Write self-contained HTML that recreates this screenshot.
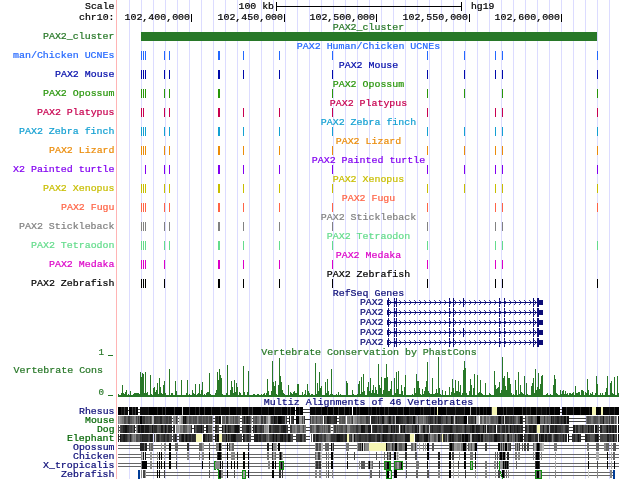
<!DOCTYPE html>
<html><head><meta charset="utf-8"><title>UCSC Genome Browser - PAX2 cluster</title>
<style>
html,body{margin:0;padding:0;background:#fff;}
svg{display:block;will-change:transform;transform:translateZ(0);}
text{font-family:"Liberation Mono",monospace;font-size:9px;stroke-width:0.2px;}
</style></head><body>
<svg width="620" height="479" viewBox="0 0 620 479" shape-rendering="crispEdges">
<rect width="620" height="479" fill="#fff"/>
<rect x="129" y="0" width="1" height="479" fill="#dcdcff"/>
<rect x="141" y="0" width="1" height="479" fill="#dcdcff"/>
<rect x="153" y="0" width="1" height="479" fill="#dcdcff"/>
<rect x="165" y="0" width="1" height="479" fill="#dcdcff"/>
<rect x="177" y="0" width="1" height="479" fill="#dcdcff"/>
<rect x="189" y="0" width="1" height="479" fill="#dcdcff"/>
<rect x="201" y="0" width="1" height="479" fill="#dcdcff"/>
<rect x="213" y="0" width="1" height="479" fill="#dcdcff"/>
<rect x="225" y="0" width="1" height="479" fill="#dcdcff"/>
<rect x="237" y="0" width="1" height="479" fill="#dcdcff"/>
<rect x="249" y="0" width="1" height="479" fill="#dcdcff"/>
<rect x="261" y="0" width="1" height="479" fill="#dcdcff"/>
<rect x="273" y="0" width="1" height="479" fill="#dcdcff"/>
<rect x="285" y="0" width="1" height="479" fill="#dcdcff"/>
<rect x="297" y="0" width="1" height="479" fill="#dcdcff"/>
<rect x="309" y="0" width="1" height="479" fill="#dcdcff"/>
<rect x="321" y="0" width="1" height="479" fill="#dcdcff"/>
<rect x="333" y="0" width="1" height="479" fill="#dcdcff"/>
<rect x="345" y="0" width="1" height="479" fill="#dcdcff"/>
<rect x="357" y="0" width="1" height="479" fill="#dcdcff"/>
<rect x="369" y="0" width="1" height="479" fill="#dcdcff"/>
<rect x="381" y="0" width="1" height="479" fill="#dcdcff"/>
<rect x="393" y="0" width="1" height="479" fill="#dcdcff"/>
<rect x="405" y="0" width="1" height="479" fill="#dcdcff"/>
<rect x="417" y="0" width="1" height="479" fill="#dcdcff"/>
<rect x="429" y="0" width="1" height="479" fill="#dcdcff"/>
<rect x="441" y="0" width="1" height="479" fill="#dcdcff"/>
<rect x="453" y="0" width="1" height="479" fill="#dcdcff"/>
<rect x="465" y="0" width="1" height="479" fill="#dcdcff"/>
<rect x="477" y="0" width="1" height="479" fill="#dcdcff"/>
<rect x="489" y="0" width="1" height="479" fill="#dcdcff"/>
<rect x="501" y="0" width="1" height="479" fill="#dcdcff"/>
<rect x="513" y="0" width="1" height="479" fill="#dcdcff"/>
<rect x="525" y="0" width="1" height="479" fill="#dcdcff"/>
<rect x="537" y="0" width="1" height="479" fill="#dcdcff"/>
<rect x="549" y="0" width="1" height="479" fill="#dcdcff"/>
<rect x="561" y="0" width="1" height="479" fill="#dcdcff"/>
<rect x="573" y="0" width="1" height="479" fill="#dcdcff"/>
<rect x="585" y="0" width="1" height="479" fill="#dcdcff"/>
<rect x="597" y="0" width="1" height="479" fill="#dcdcff"/>
<rect x="609" y="0" width="1" height="479" fill="#dcdcff"/>
<rect x="116" y="0" width="1" height="479" fill="#ffb4b4"/>
<text x="114.5" y="9.3" fill="#000" stroke="#000" text-anchor="end" textLength="29.5" lengthAdjust="spacingAndGlyphs">Scale</text>
<text x="114.5" y="20.3" fill="#000" stroke="#000" text-anchor="end" textLength="35.5" lengthAdjust="spacingAndGlyphs">chr10:</text>
<text x="274" y="9.3" fill="#000" stroke="#000" text-anchor="end" textLength="35.5" lengthAdjust="spacingAndGlyphs">100 kb</text>
<rect x="276" y="2" width="1" height="9" fill="#000"/>
<rect x="461" y="2" width="1" height="9" fill="#000"/>
<rect x="276" y="6" width="186" height="1" fill="#000"/>
<text x="471" y="9.3" fill="#000" stroke="#000" text-anchor="start" textLength="23.5" lengthAdjust="spacingAndGlyphs">hg19</text>
<rect x="191" y="14" width="1" height="8" fill="#000"/>
<text x="190" y="20.3" fill="#000" stroke="#000" text-anchor="end" textLength="65.5" lengthAdjust="spacingAndGlyphs">102,400,000</text>
<rect x="284" y="14" width="1" height="8" fill="#000"/>
<text x="283" y="20.3" fill="#000" stroke="#000" text-anchor="end" textLength="65.5" lengthAdjust="spacingAndGlyphs">102,450,000</text>
<rect x="376" y="14" width="1" height="8" fill="#000"/>
<text x="375" y="20.3" fill="#000" stroke="#000" text-anchor="end" textLength="65.5" lengthAdjust="spacingAndGlyphs">102,500,000</text>
<rect x="469" y="14" width="1" height="8" fill="#000"/>
<text x="468" y="20.3" fill="#000" stroke="#000" text-anchor="end" textLength="65.5" lengthAdjust="spacingAndGlyphs">102,550,000</text>
<rect x="561" y="14" width="1" height="8" fill="#000"/>
<text x="560" y="20.3" fill="#000" stroke="#000" text-anchor="end" textLength="65.5" lengthAdjust="spacingAndGlyphs">102,600,000</text>
<text x="114.5" y="38.5" fill="#287828" stroke="#287828" text-anchor="end" textLength="71.5" lengthAdjust="spacingAndGlyphs">PAX2_cluster</text>
<text x="368.5" y="29.6" fill="#287828" stroke="#287828" text-anchor="middle" textLength="71.5" lengthAdjust="spacingAndGlyphs">PAX2_cluster</text>
<rect x="141" y="32" width="456" height="9" fill="#287828"/>
<text x="114.5" y="57.5" fill="#2468ff" stroke="#2468ff" text-anchor="end" textLength="101.5" lengthAdjust="spacingAndGlyphs">man/Chicken UCNEs</text>
<text x="368.5" y="48.6" fill="#2468ff" stroke="#2468ff" text-anchor="middle" textLength="143.5" lengthAdjust="spacingAndGlyphs">PAX2 Human/Chicken UCNEs</text>
<rect x="141" y="51" width="1" height="9" fill="#2468ff"/>
<rect x="143" y="51" width="1" height="9" fill="#2468ff"/>
<rect x="145" y="51" width="1" height="9" fill="#2468ff"/>
<rect x="164" y="51" width="1" height="9" fill="#2468ff"/>
<rect x="169" y="51" width="1" height="9" fill="#2468ff"/>
<rect x="218" y="51" width="2" height="9" fill="#2468ff"/>
<rect x="243" y="51" width="1" height="9" fill="#2468ff"/>
<rect x="279" y="51" width="1" height="9" fill="#2468ff"/>
<rect x="332" y="51" width="1" height="9" fill="#2468ff"/>
<rect x="427" y="51" width="1" height="9" fill="#2468ff"/>
<rect x="464" y="51" width="1" height="9" fill="#2468ff"/>
<rect x="495" y="51" width="1" height="9" fill="#2468ff"/>
<rect x="502" y="51" width="1" height="9" fill="#2468ff"/>
<rect x="597" y="51" width="1" height="9" fill="#2468ff"/>
<text x="114.5" y="76.5" fill="#000aaa" stroke="#000aaa" text-anchor="end" textLength="59.5" lengthAdjust="spacingAndGlyphs">PAX2 Mouse</text>
<text x="368.5" y="67.6" fill="#000aaa" stroke="#000aaa" text-anchor="middle" textLength="59.5" lengthAdjust="spacingAndGlyphs">PAX2 Mouse</text>
<rect x="141" y="70" width="1" height="9" fill="#000aaa"/>
<rect x="143" y="70" width="1" height="9" fill="#000aaa"/>
<rect x="145" y="70" width="1" height="9" fill="#000aaa"/>
<rect x="164" y="70" width="1" height="9" fill="#000aaa"/>
<rect x="169" y="70" width="1" height="9" fill="#000aaa"/>
<rect x="218" y="70" width="2" height="9" fill="#000aaa"/>
<rect x="243" y="70" width="1" height="9" fill="#000aaa"/>
<rect x="279" y="70" width="1" height="9" fill="#000aaa"/>
<rect x="332" y="70" width="1" height="9" fill="#000aaa"/>
<rect x="427" y="70" width="1" height="9" fill="#000aaa"/>
<rect x="464" y="70" width="1" height="9" fill="#000aaa"/>
<rect x="495" y="70" width="1" height="9" fill="#000aaa"/>
<rect x="502" y="70" width="1" height="9" fill="#000aaa"/>
<rect x="597" y="70" width="1" height="9" fill="#000aaa"/>
<text x="114.5" y="95.5" fill="#28960a" stroke="#28960a" text-anchor="end" textLength="71.5" lengthAdjust="spacingAndGlyphs">PAX2 Opossum</text>
<text x="368.5" y="86.6" fill="#28960a" stroke="#28960a" text-anchor="middle" textLength="71.5" lengthAdjust="spacingAndGlyphs">PAX2 Opossum</text>
<rect x="141" y="89" width="1" height="9" fill="#28960a"/>
<rect x="143" y="89" width="1" height="9" fill="#28960a"/>
<rect x="145" y="89" width="1" height="9" fill="#28960a"/>
<rect x="164" y="89" width="1" height="9" fill="#28960a"/>
<rect x="169" y="89" width="1" height="9" fill="#28960a"/>
<rect x="218" y="89" width="2" height="9" fill="#28960a"/>
<rect x="332" y="89" width="1" height="9" fill="#28960a"/>
<rect x="427" y="89" width="1" height="9" fill="#28960a"/>
<rect x="464" y="89" width="1" height="9" fill="#28960a"/>
<rect x="502" y="89" width="1" height="9" fill="#28960a"/>
<rect x="597" y="89" width="1" height="9" fill="#28960a"/>
<text x="114.5" y="114.5" fill="#c80050" stroke="#c80050" text-anchor="end" textLength="77.5" lengthAdjust="spacingAndGlyphs">PAX2 Platypus</text>
<text x="368.5" y="105.6" fill="#c80050" stroke="#c80050" text-anchor="middle" textLength="77.5" lengthAdjust="spacingAndGlyphs">PAX2 Platypus</text>
<rect x="141" y="108" width="1" height="9" fill="#c80050"/>
<rect x="143" y="108" width="1" height="9" fill="#c80050"/>
<rect x="164" y="108" width="1" height="9" fill="#c80050"/>
<rect x="169" y="108" width="1" height="9" fill="#c80050"/>
<rect x="218" y="108" width="2" height="9" fill="#c80050"/>
<rect x="243" y="108" width="1" height="9" fill="#c80050"/>
<rect x="279" y="108" width="1" height="9" fill="#c80050"/>
<rect x="332" y="108" width="1" height="9" fill="#c80050"/>
<rect x="427" y="108" width="1" height="9" fill="#c80050"/>
<rect x="495" y="108" width="1" height="9" fill="#c80050"/>
<rect x="502" y="108" width="1" height="9" fill="#c80050"/>
<rect x="597" y="108" width="1" height="9" fill="#c80050"/>
<text x="114.5" y="133.5" fill="#14a0d2" stroke="#14a0d2" text-anchor="end" textLength="95.5" lengthAdjust="spacingAndGlyphs">PAX2 Zebra finch</text>
<text x="368.5" y="124.6" fill="#14a0d2" stroke="#14a0d2" text-anchor="middle" textLength="95.5" lengthAdjust="spacingAndGlyphs">PAX2 Zebra finch</text>
<rect x="141" y="127" width="1" height="9" fill="#14a0d2"/>
<rect x="143" y="127" width="1" height="9" fill="#14a0d2"/>
<rect x="145" y="127" width="1" height="9" fill="#14a0d2"/>
<rect x="164" y="127" width="1" height="9" fill="#14a0d2"/>
<rect x="169" y="127" width="1" height="9" fill="#14a0d2"/>
<rect x="218" y="127" width="2" height="9" fill="#14a0d2"/>
<rect x="243" y="127" width="1" height="9" fill="#14a0d2"/>
<rect x="279" y="127" width="1" height="9" fill="#14a0d2"/>
<rect x="332" y="127" width="1" height="9" fill="#14a0d2"/>
<rect x="427" y="127" width="1" height="9" fill="#14a0d2"/>
<rect x="464" y="127" width="1" height="9" fill="#14a0d2"/>
<rect x="495" y="127" width="1" height="9" fill="#14a0d2"/>
<rect x="502" y="127" width="1" height="9" fill="#14a0d2"/>
<rect x="597" y="127" width="1" height="9" fill="#14a0d2"/>
<text x="114.5" y="152.5" fill="#eb8c0a" stroke="#eb8c0a" text-anchor="end" textLength="65.5" lengthAdjust="spacingAndGlyphs">PAX2 Lizard</text>
<text x="368.5" y="143.6" fill="#eb8c0a" stroke="#eb8c0a" text-anchor="middle" textLength="65.5" lengthAdjust="spacingAndGlyphs">PAX2 Lizard</text>
<rect x="141" y="146" width="1" height="9" fill="#eb8c0a"/>
<rect x="143" y="146" width="1" height="9" fill="#eb8c0a"/>
<rect x="145" y="146" width="1" height="9" fill="#eb8c0a"/>
<rect x="164" y="146" width="1" height="9" fill="#eb8c0a"/>
<rect x="169" y="146" width="1" height="9" fill="#eb8c0a"/>
<rect x="218" y="146" width="2" height="9" fill="#eb8c0a"/>
<rect x="243" y="146" width="1" height="9" fill="#eb8c0a"/>
<rect x="279" y="146" width="1" height="9" fill="#eb8c0a"/>
<rect x="332" y="146" width="1" height="9" fill="#eb8c0a"/>
<rect x="427" y="146" width="1" height="9" fill="#eb8c0a"/>
<rect x="464" y="146" width="1" height="9" fill="#eb8c0a"/>
<rect x="495" y="146" width="1" height="9" fill="#eb8c0a"/>
<rect x="502" y="146" width="1" height="9" fill="#eb8c0a"/>
<rect x="597" y="146" width="1" height="9" fill="#eb8c0a"/>
<text x="114.5" y="171.5" fill="#8200f0" stroke="#8200f0" text-anchor="end" textLength="101.5" lengthAdjust="spacingAndGlyphs">X2 Painted turtle</text>
<text x="368.5" y="162.6" fill="#8200f0" stroke="#8200f0" text-anchor="middle" textLength="113.5" lengthAdjust="spacingAndGlyphs">PAX2 Painted turtle</text>
<rect x="145" y="165" width="1" height="9" fill="#8200f0"/>
<rect x="164" y="165" width="1" height="9" fill="#8200f0"/>
<rect x="169" y="165" width="1" height="9" fill="#8200f0"/>
<rect x="218" y="165" width="2" height="9" fill="#8200f0"/>
<rect x="243" y="165" width="1" height="9" fill="#8200f0"/>
<rect x="279" y="165" width="1" height="9" fill="#8200f0"/>
<rect x="332" y="165" width="1" height="9" fill="#8200f0"/>
<rect x="427" y="165" width="1" height="9" fill="#8200f0"/>
<rect x="464" y="165" width="1" height="9" fill="#8200f0"/>
<rect x="495" y="165" width="1" height="9" fill="#8200f0"/>
<rect x="502" y="165" width="1" height="9" fill="#8200f0"/>
<rect x="597" y="165" width="1" height="9" fill="#8200f0"/>
<text x="114.5" y="190.5" fill="#c8be00" stroke="#c8be00" text-anchor="end" textLength="71.5" lengthAdjust="spacingAndGlyphs">PAX2 Xenopus</text>
<text x="368.5" y="181.6" fill="#c8be00" stroke="#c8be00" text-anchor="middle" textLength="71.5" lengthAdjust="spacingAndGlyphs">PAX2 Xenopus</text>
<rect x="141" y="184" width="1" height="9" fill="#c8be00"/>
<rect x="143" y="184" width="1" height="9" fill="#c8be00"/>
<rect x="145" y="184" width="1" height="9" fill="#c8be00"/>
<rect x="164" y="184" width="1" height="9" fill="#c8be00"/>
<rect x="169" y="184" width="1" height="9" fill="#c8be00"/>
<rect x="218" y="184" width="2" height="9" fill="#c8be00"/>
<rect x="243" y="184" width="1" height="9" fill="#c8be00"/>
<rect x="279" y="184" width="1" height="9" fill="#c8be00"/>
<rect x="332" y="184" width="1" height="9" fill="#c8be00"/>
<rect x="427" y="184" width="1" height="9" fill="#c8be00"/>
<rect x="464" y="184" width="1" height="9" fill="#c8be00"/>
<rect x="495" y="184" width="1" height="9" fill="#c8be00"/>
<rect x="502" y="184" width="1" height="9" fill="#c8be00"/>
<rect x="597" y="184" width="1" height="9" fill="#c8be00"/>
<text x="114.5" y="209.5" fill="#ff6446" stroke="#ff6446" text-anchor="end" textLength="53.5" lengthAdjust="spacingAndGlyphs">PAX2 Fugu</text>
<text x="368.5" y="200.6" fill="#ff6446" stroke="#ff6446" text-anchor="middle" textLength="53.5" lengthAdjust="spacingAndGlyphs">PAX2 Fugu</text>
<rect x="141" y="203" width="1" height="9" fill="#ff6446"/>
<rect x="143" y="203" width="1" height="9" fill="#ff6446"/>
<rect x="145" y="203" width="1" height="9" fill="#ff6446"/>
<rect x="164" y="203" width="1" height="9" fill="#ff6446"/>
<rect x="169" y="203" width="1" height="9" fill="#ff6446"/>
<rect x="218" y="203" width="2" height="9" fill="#ff6446"/>
<rect x="243" y="203" width="1" height="9" fill="#ff6446"/>
<rect x="279" y="203" width="1" height="9" fill="#ff6446"/>
<rect x="332" y="203" width="1" height="9" fill="#ff6446"/>
<rect x="427" y="203" width="1" height="9" fill="#ff6446"/>
<rect x="495" y="203" width="1" height="9" fill="#ff6446"/>
<rect x="502" y="203" width="1" height="9" fill="#ff6446"/>
<rect x="597" y="203" width="1" height="9" fill="#ff6446"/>
<text x="114.5" y="228.5" fill="#828282" stroke="#828282" text-anchor="end" textLength="95.5" lengthAdjust="spacingAndGlyphs">PAX2 Stickleback</text>
<text x="368.5" y="219.6" fill="#828282" stroke="#828282" text-anchor="middle" textLength="95.5" lengthAdjust="spacingAndGlyphs">PAX2 Stickleback</text>
<rect x="141" y="222" width="1" height="9" fill="#828282"/>
<rect x="143" y="222" width="1" height="9" fill="#828282"/>
<rect x="145" y="222" width="1" height="9" fill="#828282"/>
<rect x="164" y="222" width="1" height="9" fill="#828282"/>
<rect x="169" y="222" width="1" height="9" fill="#828282"/>
<rect x="218" y="222" width="2" height="9" fill="#828282"/>
<rect x="243" y="222" width="1" height="9" fill="#828282"/>
<rect x="279" y="222" width="1" height="9" fill="#828282"/>
<rect x="332" y="222" width="1" height="9" fill="#828282"/>
<rect x="427" y="222" width="1" height="9" fill="#828282"/>
<rect x="495" y="222" width="1" height="9" fill="#828282"/>
<rect x="502" y="222" width="1" height="9" fill="#828282"/>
<text x="114.5" y="247.5" fill="#64dc8c" stroke="#64dc8c" text-anchor="end" textLength="83.5" lengthAdjust="spacingAndGlyphs">PAX2 Tetraodon</text>
<text x="368.5" y="238.6" fill="#64dc8c" stroke="#64dc8c" text-anchor="middle" textLength="83.5" lengthAdjust="spacingAndGlyphs">PAX2 Tetraodon</text>
<rect x="141" y="241" width="1" height="9" fill="#64dc8c"/>
<rect x="143" y="241" width="1" height="9" fill="#64dc8c"/>
<rect x="145" y="241" width="1" height="9" fill="#64dc8c"/>
<rect x="164" y="241" width="1" height="9" fill="#64dc8c"/>
<rect x="169" y="241" width="1" height="9" fill="#64dc8c"/>
<rect x="218" y="241" width="2" height="9" fill="#64dc8c"/>
<rect x="243" y="241" width="1" height="9" fill="#64dc8c"/>
<rect x="279" y="241" width="1" height="9" fill="#64dc8c"/>
<rect x="332" y="241" width="1" height="9" fill="#64dc8c"/>
<rect x="427" y="241" width="1" height="9" fill="#64dc8c"/>
<rect x="495" y="241" width="1" height="9" fill="#64dc8c"/>
<rect x="502" y="241" width="1" height="9" fill="#64dc8c"/>
<rect x="597" y="241" width="1" height="9" fill="#64dc8c"/>
<text x="114.5" y="266.5" fill="#dc00c8" stroke="#dc00c8" text-anchor="end" textLength="65.5" lengthAdjust="spacingAndGlyphs">PAX2 Medaka</text>
<text x="368.5" y="257.6" fill="#dc00c8" stroke="#dc00c8" text-anchor="middle" textLength="65.5" lengthAdjust="spacingAndGlyphs">PAX2 Medaka</text>
<rect x="141" y="260" width="1" height="9" fill="#dc00c8"/>
<rect x="143" y="260" width="1" height="9" fill="#dc00c8"/>
<rect x="145" y="260" width="1" height="9" fill="#dc00c8"/>
<rect x="164" y="260" width="1" height="9" fill="#dc00c8"/>
<rect x="218" y="260" width="2" height="9" fill="#dc00c8"/>
<rect x="243" y="260" width="1" height="9" fill="#dc00c8"/>
<rect x="279" y="260" width="1" height="9" fill="#dc00c8"/>
<rect x="332" y="260" width="1" height="9" fill="#dc00c8"/>
<rect x="427" y="260" width="1" height="9" fill="#dc00c8"/>
<rect x="495" y="260" width="1" height="9" fill="#dc00c8"/>
<rect x="502" y="260" width="1" height="9" fill="#dc00c8"/>
<text x="114.5" y="285.5" fill="#000000" stroke="#000000" text-anchor="end" textLength="83.5" lengthAdjust="spacingAndGlyphs">PAX2 Zebrafish</text>
<text x="368.5" y="276.6" fill="#000000" stroke="#000000" text-anchor="middle" textLength="83.5" lengthAdjust="spacingAndGlyphs">PAX2 Zebrafish</text>
<rect x="141" y="279" width="1" height="9" fill="#000000"/>
<rect x="143" y="279" width="1" height="9" fill="#000000"/>
<rect x="145" y="279" width="1" height="9" fill="#000000"/>
<rect x="164" y="279" width="1" height="9" fill="#000000"/>
<rect x="218" y="279" width="2" height="9" fill="#000000"/>
<rect x="243" y="279" width="1" height="9" fill="#000000"/>
<rect x="279" y="279" width="1" height="9" fill="#000000"/>
<rect x="332" y="279" width="1" height="9" fill="#000000"/>
<rect x="427" y="279" width="1" height="9" fill="#000000"/>
<rect x="495" y="279" width="1" height="9" fill="#000000"/>
<rect x="502" y="279" width="1" height="9" fill="#000000"/>
<rect x="597" y="279" width="1" height="9" fill="#000000"/>
<text x="368.5" y="295.8" fill="#0c0c78" stroke="#0c0c78" text-anchor="middle" textLength="71.5" lengthAdjust="spacingAndGlyphs">RefSeq Genes</text>
<text x="383.5" y="304.9" fill="#0c0c78" stroke="#0c0c78" text-anchor="end" textLength="23.5" lengthAdjust="spacingAndGlyphs">PAX2</text>
<rect x="387" y="302" width="152" height="1" fill="#0c0c78"/>
<rect x="387" y="300" width="1" height="5" fill="#0c0c78"/>
<rect x="388" y="298" width="1" height="9" fill="#0c0c78"/>
<rect x="394" y="298" width="1" height="9" fill="#0c0c78"/>
<rect x="396" y="298" width="1" height="9" fill="#0c0c78"/>
<rect x="449" y="298" width="1" height="9" fill="#0c0c78"/>
<rect x="453" y="298" width="1" height="9" fill="#0c0c78"/>
<rect x="499" y="298" width="1" height="9" fill="#0c0c78"/>
<rect x="504" y="298" width="1" height="9" fill="#0c0c78"/>
<rect x="533" y="298" width="1" height="9" fill="#0c0c78"/>
<rect x="463" y="298" width="1" height="9" fill="#0c0c78"/>
<rect x="537" y="298" width="2" height="9" fill="#0c0c78"/>
<rect x="539" y="300" width="4" height="5" fill="#0c0c78"/>
<rect x="390" y="301" width="1" height="1" fill="#3a3a90"/>
<rect x="389" y="300" width="1" height="1" fill="#3a3a90"/>
<rect x="390" y="303" width="1" height="1" fill="#3a3a90"/>
<rect x="389" y="304" width="1" height="1" fill="#3a3a90"/>
<rect x="395" y="301" width="1" height="1" fill="#3a3a90"/>
<rect x="394" y="300" width="1" height="1" fill="#3a3a90"/>
<rect x="395" y="303" width="1" height="1" fill="#3a3a90"/>
<rect x="394" y="304" width="1" height="1" fill="#3a3a90"/>
<rect x="400" y="301" width="1" height="1" fill="#3a3a90"/>
<rect x="399" y="300" width="1" height="1" fill="#3a3a90"/>
<rect x="400" y="303" width="1" height="1" fill="#3a3a90"/>
<rect x="399" y="304" width="1" height="1" fill="#3a3a90"/>
<rect x="405" y="301" width="1" height="1" fill="#3a3a90"/>
<rect x="404" y="300" width="1" height="1" fill="#3a3a90"/>
<rect x="405" y="303" width="1" height="1" fill="#3a3a90"/>
<rect x="404" y="304" width="1" height="1" fill="#3a3a90"/>
<rect x="410" y="301" width="1" height="1" fill="#3a3a90"/>
<rect x="409" y="300" width="1" height="1" fill="#3a3a90"/>
<rect x="410" y="303" width="1" height="1" fill="#3a3a90"/>
<rect x="409" y="304" width="1" height="1" fill="#3a3a90"/>
<rect x="415" y="301" width="1" height="1" fill="#3a3a90"/>
<rect x="414" y="300" width="1" height="1" fill="#3a3a90"/>
<rect x="415" y="303" width="1" height="1" fill="#3a3a90"/>
<rect x="414" y="304" width="1" height="1" fill="#3a3a90"/>
<rect x="420" y="301" width="1" height="1" fill="#3a3a90"/>
<rect x="419" y="300" width="1" height="1" fill="#3a3a90"/>
<rect x="420" y="303" width="1" height="1" fill="#3a3a90"/>
<rect x="419" y="304" width="1" height="1" fill="#3a3a90"/>
<rect x="425" y="301" width="1" height="1" fill="#3a3a90"/>
<rect x="424" y="300" width="1" height="1" fill="#3a3a90"/>
<rect x="425" y="303" width="1" height="1" fill="#3a3a90"/>
<rect x="424" y="304" width="1" height="1" fill="#3a3a90"/>
<rect x="430" y="301" width="1" height="1" fill="#3a3a90"/>
<rect x="429" y="300" width="1" height="1" fill="#3a3a90"/>
<rect x="430" y="303" width="1" height="1" fill="#3a3a90"/>
<rect x="429" y="304" width="1" height="1" fill="#3a3a90"/>
<rect x="435" y="301" width="1" height="1" fill="#3a3a90"/>
<rect x="434" y="300" width="1" height="1" fill="#3a3a90"/>
<rect x="435" y="303" width="1" height="1" fill="#3a3a90"/>
<rect x="434" y="304" width="1" height="1" fill="#3a3a90"/>
<rect x="440" y="301" width="1" height="1" fill="#3a3a90"/>
<rect x="439" y="300" width="1" height="1" fill="#3a3a90"/>
<rect x="440" y="303" width="1" height="1" fill="#3a3a90"/>
<rect x="439" y="304" width="1" height="1" fill="#3a3a90"/>
<rect x="445" y="301" width="1" height="1" fill="#3a3a90"/>
<rect x="444" y="300" width="1" height="1" fill="#3a3a90"/>
<rect x="445" y="303" width="1" height="1" fill="#3a3a90"/>
<rect x="444" y="304" width="1" height="1" fill="#3a3a90"/>
<rect x="450" y="301" width="1" height="1" fill="#3a3a90"/>
<rect x="449" y="300" width="1" height="1" fill="#3a3a90"/>
<rect x="450" y="303" width="1" height="1" fill="#3a3a90"/>
<rect x="449" y="304" width="1" height="1" fill="#3a3a90"/>
<rect x="455" y="301" width="1" height="1" fill="#3a3a90"/>
<rect x="454" y="300" width="1" height="1" fill="#3a3a90"/>
<rect x="455" y="303" width="1" height="1" fill="#3a3a90"/>
<rect x="454" y="304" width="1" height="1" fill="#3a3a90"/>
<rect x="460" y="301" width="1" height="1" fill="#3a3a90"/>
<rect x="459" y="300" width="1" height="1" fill="#3a3a90"/>
<rect x="460" y="303" width="1" height="1" fill="#3a3a90"/>
<rect x="459" y="304" width="1" height="1" fill="#3a3a90"/>
<rect x="465" y="301" width="1" height="1" fill="#3a3a90"/>
<rect x="464" y="300" width="1" height="1" fill="#3a3a90"/>
<rect x="465" y="303" width="1" height="1" fill="#3a3a90"/>
<rect x="464" y="304" width="1" height="1" fill="#3a3a90"/>
<rect x="470" y="301" width="1" height="1" fill="#3a3a90"/>
<rect x="469" y="300" width="1" height="1" fill="#3a3a90"/>
<rect x="470" y="303" width="1" height="1" fill="#3a3a90"/>
<rect x="469" y="304" width="1" height="1" fill="#3a3a90"/>
<rect x="475" y="301" width="1" height="1" fill="#3a3a90"/>
<rect x="474" y="300" width="1" height="1" fill="#3a3a90"/>
<rect x="475" y="303" width="1" height="1" fill="#3a3a90"/>
<rect x="474" y="304" width="1" height="1" fill="#3a3a90"/>
<rect x="480" y="301" width="1" height="1" fill="#3a3a90"/>
<rect x="479" y="300" width="1" height="1" fill="#3a3a90"/>
<rect x="480" y="303" width="1" height="1" fill="#3a3a90"/>
<rect x="479" y="304" width="1" height="1" fill="#3a3a90"/>
<rect x="485" y="301" width="1" height="1" fill="#3a3a90"/>
<rect x="484" y="300" width="1" height="1" fill="#3a3a90"/>
<rect x="485" y="303" width="1" height="1" fill="#3a3a90"/>
<rect x="484" y="304" width="1" height="1" fill="#3a3a90"/>
<rect x="490" y="301" width="1" height="1" fill="#3a3a90"/>
<rect x="489" y="300" width="1" height="1" fill="#3a3a90"/>
<rect x="490" y="303" width="1" height="1" fill="#3a3a90"/>
<rect x="489" y="304" width="1" height="1" fill="#3a3a90"/>
<rect x="495" y="301" width="1" height="1" fill="#3a3a90"/>
<rect x="494" y="300" width="1" height="1" fill="#3a3a90"/>
<rect x="495" y="303" width="1" height="1" fill="#3a3a90"/>
<rect x="494" y="304" width="1" height="1" fill="#3a3a90"/>
<rect x="500" y="301" width="1" height="1" fill="#3a3a90"/>
<rect x="499" y="300" width="1" height="1" fill="#3a3a90"/>
<rect x="500" y="303" width="1" height="1" fill="#3a3a90"/>
<rect x="499" y="304" width="1" height="1" fill="#3a3a90"/>
<rect x="505" y="301" width="1" height="1" fill="#3a3a90"/>
<rect x="504" y="300" width="1" height="1" fill="#3a3a90"/>
<rect x="505" y="303" width="1" height="1" fill="#3a3a90"/>
<rect x="504" y="304" width="1" height="1" fill="#3a3a90"/>
<rect x="510" y="301" width="1" height="1" fill="#3a3a90"/>
<rect x="509" y="300" width="1" height="1" fill="#3a3a90"/>
<rect x="510" y="303" width="1" height="1" fill="#3a3a90"/>
<rect x="509" y="304" width="1" height="1" fill="#3a3a90"/>
<rect x="515" y="301" width="1" height="1" fill="#3a3a90"/>
<rect x="514" y="300" width="1" height="1" fill="#3a3a90"/>
<rect x="515" y="303" width="1" height="1" fill="#3a3a90"/>
<rect x="514" y="304" width="1" height="1" fill="#3a3a90"/>
<rect x="520" y="301" width="1" height="1" fill="#3a3a90"/>
<rect x="519" y="300" width="1" height="1" fill="#3a3a90"/>
<rect x="520" y="303" width="1" height="1" fill="#3a3a90"/>
<rect x="519" y="304" width="1" height="1" fill="#3a3a90"/>
<rect x="525" y="301" width="1" height="1" fill="#3a3a90"/>
<rect x="524" y="300" width="1" height="1" fill="#3a3a90"/>
<rect x="525" y="303" width="1" height="1" fill="#3a3a90"/>
<rect x="524" y="304" width="1" height="1" fill="#3a3a90"/>
<rect x="530" y="301" width="1" height="1" fill="#3a3a90"/>
<rect x="529" y="300" width="1" height="1" fill="#3a3a90"/>
<rect x="530" y="303" width="1" height="1" fill="#3a3a90"/>
<rect x="529" y="304" width="1" height="1" fill="#3a3a90"/>
<rect x="535" y="301" width="1" height="1" fill="#3a3a90"/>
<rect x="534" y="300" width="1" height="1" fill="#3a3a90"/>
<rect x="535" y="303" width="1" height="1" fill="#3a3a90"/>
<rect x="534" y="304" width="1" height="1" fill="#3a3a90"/>
<text x="383.5" y="314.9" fill="#0c0c78" stroke="#0c0c78" text-anchor="end" textLength="23.5" lengthAdjust="spacingAndGlyphs">PAX2</text>
<rect x="387" y="312" width="152" height="1" fill="#0c0c78"/>
<rect x="387" y="310" width="1" height="5" fill="#0c0c78"/>
<rect x="388" y="308" width="1" height="9" fill="#0c0c78"/>
<rect x="394" y="308" width="1" height="9" fill="#0c0c78"/>
<rect x="396" y="308" width="1" height="9" fill="#0c0c78"/>
<rect x="449" y="308" width="1" height="9" fill="#0c0c78"/>
<rect x="453" y="308" width="1" height="9" fill="#0c0c78"/>
<rect x="499" y="308" width="1" height="9" fill="#0c0c78"/>
<rect x="504" y="308" width="1" height="9" fill="#0c0c78"/>
<rect x="533" y="308" width="1" height="9" fill="#0c0c78"/>
<rect x="537" y="308" width="2" height="9" fill="#0c0c78"/>
<rect x="539" y="310" width="4" height="5" fill="#0c0c78"/>
<rect x="390" y="311" width="1" height="1" fill="#3a3a90"/>
<rect x="389" y="310" width="1" height="1" fill="#3a3a90"/>
<rect x="390" y="313" width="1" height="1" fill="#3a3a90"/>
<rect x="389" y="314" width="1" height="1" fill="#3a3a90"/>
<rect x="395" y="311" width="1" height="1" fill="#3a3a90"/>
<rect x="394" y="310" width="1" height="1" fill="#3a3a90"/>
<rect x="395" y="313" width="1" height="1" fill="#3a3a90"/>
<rect x="394" y="314" width="1" height="1" fill="#3a3a90"/>
<rect x="400" y="311" width="1" height="1" fill="#3a3a90"/>
<rect x="399" y="310" width="1" height="1" fill="#3a3a90"/>
<rect x="400" y="313" width="1" height="1" fill="#3a3a90"/>
<rect x="399" y="314" width="1" height="1" fill="#3a3a90"/>
<rect x="405" y="311" width="1" height="1" fill="#3a3a90"/>
<rect x="404" y="310" width="1" height="1" fill="#3a3a90"/>
<rect x="405" y="313" width="1" height="1" fill="#3a3a90"/>
<rect x="404" y="314" width="1" height="1" fill="#3a3a90"/>
<rect x="410" y="311" width="1" height="1" fill="#3a3a90"/>
<rect x="409" y="310" width="1" height="1" fill="#3a3a90"/>
<rect x="410" y="313" width="1" height="1" fill="#3a3a90"/>
<rect x="409" y="314" width="1" height="1" fill="#3a3a90"/>
<rect x="415" y="311" width="1" height="1" fill="#3a3a90"/>
<rect x="414" y="310" width="1" height="1" fill="#3a3a90"/>
<rect x="415" y="313" width="1" height="1" fill="#3a3a90"/>
<rect x="414" y="314" width="1" height="1" fill="#3a3a90"/>
<rect x="420" y="311" width="1" height="1" fill="#3a3a90"/>
<rect x="419" y="310" width="1" height="1" fill="#3a3a90"/>
<rect x="420" y="313" width="1" height="1" fill="#3a3a90"/>
<rect x="419" y="314" width="1" height="1" fill="#3a3a90"/>
<rect x="425" y="311" width="1" height="1" fill="#3a3a90"/>
<rect x="424" y="310" width="1" height="1" fill="#3a3a90"/>
<rect x="425" y="313" width="1" height="1" fill="#3a3a90"/>
<rect x="424" y="314" width="1" height="1" fill="#3a3a90"/>
<rect x="430" y="311" width="1" height="1" fill="#3a3a90"/>
<rect x="429" y="310" width="1" height="1" fill="#3a3a90"/>
<rect x="430" y="313" width="1" height="1" fill="#3a3a90"/>
<rect x="429" y="314" width="1" height="1" fill="#3a3a90"/>
<rect x="435" y="311" width="1" height="1" fill="#3a3a90"/>
<rect x="434" y="310" width="1" height="1" fill="#3a3a90"/>
<rect x="435" y="313" width="1" height="1" fill="#3a3a90"/>
<rect x="434" y="314" width="1" height="1" fill="#3a3a90"/>
<rect x="440" y="311" width="1" height="1" fill="#3a3a90"/>
<rect x="439" y="310" width="1" height="1" fill="#3a3a90"/>
<rect x="440" y="313" width="1" height="1" fill="#3a3a90"/>
<rect x="439" y="314" width="1" height="1" fill="#3a3a90"/>
<rect x="445" y="311" width="1" height="1" fill="#3a3a90"/>
<rect x="444" y="310" width="1" height="1" fill="#3a3a90"/>
<rect x="445" y="313" width="1" height="1" fill="#3a3a90"/>
<rect x="444" y="314" width="1" height="1" fill="#3a3a90"/>
<rect x="450" y="311" width="1" height="1" fill="#3a3a90"/>
<rect x="449" y="310" width="1" height="1" fill="#3a3a90"/>
<rect x="450" y="313" width="1" height="1" fill="#3a3a90"/>
<rect x="449" y="314" width="1" height="1" fill="#3a3a90"/>
<rect x="455" y="311" width="1" height="1" fill="#3a3a90"/>
<rect x="454" y="310" width="1" height="1" fill="#3a3a90"/>
<rect x="455" y="313" width="1" height="1" fill="#3a3a90"/>
<rect x="454" y="314" width="1" height="1" fill="#3a3a90"/>
<rect x="460" y="311" width="1" height="1" fill="#3a3a90"/>
<rect x="459" y="310" width="1" height="1" fill="#3a3a90"/>
<rect x="460" y="313" width="1" height="1" fill="#3a3a90"/>
<rect x="459" y="314" width="1" height="1" fill="#3a3a90"/>
<rect x="465" y="311" width="1" height="1" fill="#3a3a90"/>
<rect x="464" y="310" width="1" height="1" fill="#3a3a90"/>
<rect x="465" y="313" width="1" height="1" fill="#3a3a90"/>
<rect x="464" y="314" width="1" height="1" fill="#3a3a90"/>
<rect x="470" y="311" width="1" height="1" fill="#3a3a90"/>
<rect x="469" y="310" width="1" height="1" fill="#3a3a90"/>
<rect x="470" y="313" width="1" height="1" fill="#3a3a90"/>
<rect x="469" y="314" width="1" height="1" fill="#3a3a90"/>
<rect x="475" y="311" width="1" height="1" fill="#3a3a90"/>
<rect x="474" y="310" width="1" height="1" fill="#3a3a90"/>
<rect x="475" y="313" width="1" height="1" fill="#3a3a90"/>
<rect x="474" y="314" width="1" height="1" fill="#3a3a90"/>
<rect x="480" y="311" width="1" height="1" fill="#3a3a90"/>
<rect x="479" y="310" width="1" height="1" fill="#3a3a90"/>
<rect x="480" y="313" width="1" height="1" fill="#3a3a90"/>
<rect x="479" y="314" width="1" height="1" fill="#3a3a90"/>
<rect x="485" y="311" width="1" height="1" fill="#3a3a90"/>
<rect x="484" y="310" width="1" height="1" fill="#3a3a90"/>
<rect x="485" y="313" width="1" height="1" fill="#3a3a90"/>
<rect x="484" y="314" width="1" height="1" fill="#3a3a90"/>
<rect x="490" y="311" width="1" height="1" fill="#3a3a90"/>
<rect x="489" y="310" width="1" height="1" fill="#3a3a90"/>
<rect x="490" y="313" width="1" height="1" fill="#3a3a90"/>
<rect x="489" y="314" width="1" height="1" fill="#3a3a90"/>
<rect x="495" y="311" width="1" height="1" fill="#3a3a90"/>
<rect x="494" y="310" width="1" height="1" fill="#3a3a90"/>
<rect x="495" y="313" width="1" height="1" fill="#3a3a90"/>
<rect x="494" y="314" width="1" height="1" fill="#3a3a90"/>
<rect x="500" y="311" width="1" height="1" fill="#3a3a90"/>
<rect x="499" y="310" width="1" height="1" fill="#3a3a90"/>
<rect x="500" y="313" width="1" height="1" fill="#3a3a90"/>
<rect x="499" y="314" width="1" height="1" fill="#3a3a90"/>
<rect x="505" y="311" width="1" height="1" fill="#3a3a90"/>
<rect x="504" y="310" width="1" height="1" fill="#3a3a90"/>
<rect x="505" y="313" width="1" height="1" fill="#3a3a90"/>
<rect x="504" y="314" width="1" height="1" fill="#3a3a90"/>
<rect x="510" y="311" width="1" height="1" fill="#3a3a90"/>
<rect x="509" y="310" width="1" height="1" fill="#3a3a90"/>
<rect x="510" y="313" width="1" height="1" fill="#3a3a90"/>
<rect x="509" y="314" width="1" height="1" fill="#3a3a90"/>
<rect x="515" y="311" width="1" height="1" fill="#3a3a90"/>
<rect x="514" y="310" width="1" height="1" fill="#3a3a90"/>
<rect x="515" y="313" width="1" height="1" fill="#3a3a90"/>
<rect x="514" y="314" width="1" height="1" fill="#3a3a90"/>
<rect x="520" y="311" width="1" height="1" fill="#3a3a90"/>
<rect x="519" y="310" width="1" height="1" fill="#3a3a90"/>
<rect x="520" y="313" width="1" height="1" fill="#3a3a90"/>
<rect x="519" y="314" width="1" height="1" fill="#3a3a90"/>
<rect x="525" y="311" width="1" height="1" fill="#3a3a90"/>
<rect x="524" y="310" width="1" height="1" fill="#3a3a90"/>
<rect x="525" y="313" width="1" height="1" fill="#3a3a90"/>
<rect x="524" y="314" width="1" height="1" fill="#3a3a90"/>
<rect x="530" y="311" width="1" height="1" fill="#3a3a90"/>
<rect x="529" y="310" width="1" height="1" fill="#3a3a90"/>
<rect x="530" y="313" width="1" height="1" fill="#3a3a90"/>
<rect x="529" y="314" width="1" height="1" fill="#3a3a90"/>
<rect x="535" y="311" width="1" height="1" fill="#3a3a90"/>
<rect x="534" y="310" width="1" height="1" fill="#3a3a90"/>
<rect x="535" y="313" width="1" height="1" fill="#3a3a90"/>
<rect x="534" y="314" width="1" height="1" fill="#3a3a90"/>
<text x="383.5" y="324.9" fill="#0c0c78" stroke="#0c0c78" text-anchor="end" textLength="23.5" lengthAdjust="spacingAndGlyphs">PAX2</text>
<rect x="387" y="322" width="152" height="1" fill="#0c0c78"/>
<rect x="387" y="320" width="1" height="5" fill="#0c0c78"/>
<rect x="388" y="318" width="1" height="9" fill="#0c0c78"/>
<rect x="394" y="318" width="1" height="9" fill="#0c0c78"/>
<rect x="396" y="318" width="1" height="9" fill="#0c0c78"/>
<rect x="449" y="318" width="1" height="9" fill="#0c0c78"/>
<rect x="453" y="318" width="1" height="9" fill="#0c0c78"/>
<rect x="499" y="318" width="1" height="9" fill="#0c0c78"/>
<rect x="504" y="318" width="1" height="9" fill="#0c0c78"/>
<rect x="533" y="318" width="1" height="9" fill="#0c0c78"/>
<rect x="537" y="318" width="2" height="9" fill="#0c0c78"/>
<rect x="539" y="320" width="4" height="5" fill="#0c0c78"/>
<rect x="390" y="321" width="1" height="1" fill="#3a3a90"/>
<rect x="389" y="320" width="1" height="1" fill="#3a3a90"/>
<rect x="390" y="323" width="1" height="1" fill="#3a3a90"/>
<rect x="389" y="324" width="1" height="1" fill="#3a3a90"/>
<rect x="395" y="321" width="1" height="1" fill="#3a3a90"/>
<rect x="394" y="320" width="1" height="1" fill="#3a3a90"/>
<rect x="395" y="323" width="1" height="1" fill="#3a3a90"/>
<rect x="394" y="324" width="1" height="1" fill="#3a3a90"/>
<rect x="400" y="321" width="1" height="1" fill="#3a3a90"/>
<rect x="399" y="320" width="1" height="1" fill="#3a3a90"/>
<rect x="400" y="323" width="1" height="1" fill="#3a3a90"/>
<rect x="399" y="324" width="1" height="1" fill="#3a3a90"/>
<rect x="405" y="321" width="1" height="1" fill="#3a3a90"/>
<rect x="404" y="320" width="1" height="1" fill="#3a3a90"/>
<rect x="405" y="323" width="1" height="1" fill="#3a3a90"/>
<rect x="404" y="324" width="1" height="1" fill="#3a3a90"/>
<rect x="410" y="321" width="1" height="1" fill="#3a3a90"/>
<rect x="409" y="320" width="1" height="1" fill="#3a3a90"/>
<rect x="410" y="323" width="1" height="1" fill="#3a3a90"/>
<rect x="409" y="324" width="1" height="1" fill="#3a3a90"/>
<rect x="415" y="321" width="1" height="1" fill="#3a3a90"/>
<rect x="414" y="320" width="1" height="1" fill="#3a3a90"/>
<rect x="415" y="323" width="1" height="1" fill="#3a3a90"/>
<rect x="414" y="324" width="1" height="1" fill="#3a3a90"/>
<rect x="420" y="321" width="1" height="1" fill="#3a3a90"/>
<rect x="419" y="320" width="1" height="1" fill="#3a3a90"/>
<rect x="420" y="323" width="1" height="1" fill="#3a3a90"/>
<rect x="419" y="324" width="1" height="1" fill="#3a3a90"/>
<rect x="425" y="321" width="1" height="1" fill="#3a3a90"/>
<rect x="424" y="320" width="1" height="1" fill="#3a3a90"/>
<rect x="425" y="323" width="1" height="1" fill="#3a3a90"/>
<rect x="424" y="324" width="1" height="1" fill="#3a3a90"/>
<rect x="430" y="321" width="1" height="1" fill="#3a3a90"/>
<rect x="429" y="320" width="1" height="1" fill="#3a3a90"/>
<rect x="430" y="323" width="1" height="1" fill="#3a3a90"/>
<rect x="429" y="324" width="1" height="1" fill="#3a3a90"/>
<rect x="435" y="321" width="1" height="1" fill="#3a3a90"/>
<rect x="434" y="320" width="1" height="1" fill="#3a3a90"/>
<rect x="435" y="323" width="1" height="1" fill="#3a3a90"/>
<rect x="434" y="324" width="1" height="1" fill="#3a3a90"/>
<rect x="440" y="321" width="1" height="1" fill="#3a3a90"/>
<rect x="439" y="320" width="1" height="1" fill="#3a3a90"/>
<rect x="440" y="323" width="1" height="1" fill="#3a3a90"/>
<rect x="439" y="324" width="1" height="1" fill="#3a3a90"/>
<rect x="445" y="321" width="1" height="1" fill="#3a3a90"/>
<rect x="444" y="320" width="1" height="1" fill="#3a3a90"/>
<rect x="445" y="323" width="1" height="1" fill="#3a3a90"/>
<rect x="444" y="324" width="1" height="1" fill="#3a3a90"/>
<rect x="450" y="321" width="1" height="1" fill="#3a3a90"/>
<rect x="449" y="320" width="1" height="1" fill="#3a3a90"/>
<rect x="450" y="323" width="1" height="1" fill="#3a3a90"/>
<rect x="449" y="324" width="1" height="1" fill="#3a3a90"/>
<rect x="455" y="321" width="1" height="1" fill="#3a3a90"/>
<rect x="454" y="320" width="1" height="1" fill="#3a3a90"/>
<rect x="455" y="323" width="1" height="1" fill="#3a3a90"/>
<rect x="454" y="324" width="1" height="1" fill="#3a3a90"/>
<rect x="460" y="321" width="1" height="1" fill="#3a3a90"/>
<rect x="459" y="320" width="1" height="1" fill="#3a3a90"/>
<rect x="460" y="323" width="1" height="1" fill="#3a3a90"/>
<rect x="459" y="324" width="1" height="1" fill="#3a3a90"/>
<rect x="465" y="321" width="1" height="1" fill="#3a3a90"/>
<rect x="464" y="320" width="1" height="1" fill="#3a3a90"/>
<rect x="465" y="323" width="1" height="1" fill="#3a3a90"/>
<rect x="464" y="324" width="1" height="1" fill="#3a3a90"/>
<rect x="470" y="321" width="1" height="1" fill="#3a3a90"/>
<rect x="469" y="320" width="1" height="1" fill="#3a3a90"/>
<rect x="470" y="323" width="1" height="1" fill="#3a3a90"/>
<rect x="469" y="324" width="1" height="1" fill="#3a3a90"/>
<rect x="475" y="321" width="1" height="1" fill="#3a3a90"/>
<rect x="474" y="320" width="1" height="1" fill="#3a3a90"/>
<rect x="475" y="323" width="1" height="1" fill="#3a3a90"/>
<rect x="474" y="324" width="1" height="1" fill="#3a3a90"/>
<rect x="480" y="321" width="1" height="1" fill="#3a3a90"/>
<rect x="479" y="320" width="1" height="1" fill="#3a3a90"/>
<rect x="480" y="323" width="1" height="1" fill="#3a3a90"/>
<rect x="479" y="324" width="1" height="1" fill="#3a3a90"/>
<rect x="485" y="321" width="1" height="1" fill="#3a3a90"/>
<rect x="484" y="320" width="1" height="1" fill="#3a3a90"/>
<rect x="485" y="323" width="1" height="1" fill="#3a3a90"/>
<rect x="484" y="324" width="1" height="1" fill="#3a3a90"/>
<rect x="490" y="321" width="1" height="1" fill="#3a3a90"/>
<rect x="489" y="320" width="1" height="1" fill="#3a3a90"/>
<rect x="490" y="323" width="1" height="1" fill="#3a3a90"/>
<rect x="489" y="324" width="1" height="1" fill="#3a3a90"/>
<rect x="495" y="321" width="1" height="1" fill="#3a3a90"/>
<rect x="494" y="320" width="1" height="1" fill="#3a3a90"/>
<rect x="495" y="323" width="1" height="1" fill="#3a3a90"/>
<rect x="494" y="324" width="1" height="1" fill="#3a3a90"/>
<rect x="500" y="321" width="1" height="1" fill="#3a3a90"/>
<rect x="499" y="320" width="1" height="1" fill="#3a3a90"/>
<rect x="500" y="323" width="1" height="1" fill="#3a3a90"/>
<rect x="499" y="324" width="1" height="1" fill="#3a3a90"/>
<rect x="505" y="321" width="1" height="1" fill="#3a3a90"/>
<rect x="504" y="320" width="1" height="1" fill="#3a3a90"/>
<rect x="505" y="323" width="1" height="1" fill="#3a3a90"/>
<rect x="504" y="324" width="1" height="1" fill="#3a3a90"/>
<rect x="510" y="321" width="1" height="1" fill="#3a3a90"/>
<rect x="509" y="320" width="1" height="1" fill="#3a3a90"/>
<rect x="510" y="323" width="1" height="1" fill="#3a3a90"/>
<rect x="509" y="324" width="1" height="1" fill="#3a3a90"/>
<rect x="515" y="321" width="1" height="1" fill="#3a3a90"/>
<rect x="514" y="320" width="1" height="1" fill="#3a3a90"/>
<rect x="515" y="323" width="1" height="1" fill="#3a3a90"/>
<rect x="514" y="324" width="1" height="1" fill="#3a3a90"/>
<rect x="520" y="321" width="1" height="1" fill="#3a3a90"/>
<rect x="519" y="320" width="1" height="1" fill="#3a3a90"/>
<rect x="520" y="323" width="1" height="1" fill="#3a3a90"/>
<rect x="519" y="324" width="1" height="1" fill="#3a3a90"/>
<rect x="525" y="321" width="1" height="1" fill="#3a3a90"/>
<rect x="524" y="320" width="1" height="1" fill="#3a3a90"/>
<rect x="525" y="323" width="1" height="1" fill="#3a3a90"/>
<rect x="524" y="324" width="1" height="1" fill="#3a3a90"/>
<rect x="530" y="321" width="1" height="1" fill="#3a3a90"/>
<rect x="529" y="320" width="1" height="1" fill="#3a3a90"/>
<rect x="530" y="323" width="1" height="1" fill="#3a3a90"/>
<rect x="529" y="324" width="1" height="1" fill="#3a3a90"/>
<rect x="535" y="321" width="1" height="1" fill="#3a3a90"/>
<rect x="534" y="320" width="1" height="1" fill="#3a3a90"/>
<rect x="535" y="323" width="1" height="1" fill="#3a3a90"/>
<rect x="534" y="324" width="1" height="1" fill="#3a3a90"/>
<text x="383.5" y="334.9" fill="#0c0c78" stroke="#0c0c78" text-anchor="end" textLength="23.5" lengthAdjust="spacingAndGlyphs">PAX2</text>
<rect x="387" y="332" width="152" height="1" fill="#0c0c78"/>
<rect x="387" y="330" width="1" height="5" fill="#0c0c78"/>
<rect x="388" y="328" width="1" height="9" fill="#0c0c78"/>
<rect x="394" y="328" width="1" height="9" fill="#0c0c78"/>
<rect x="396" y="328" width="1" height="9" fill="#0c0c78"/>
<rect x="449" y="328" width="1" height="9" fill="#0c0c78"/>
<rect x="453" y="328" width="1" height="9" fill="#0c0c78"/>
<rect x="499" y="328" width="1" height="9" fill="#0c0c78"/>
<rect x="504" y="328" width="1" height="9" fill="#0c0c78"/>
<rect x="533" y="328" width="1" height="9" fill="#0c0c78"/>
<rect x="463" y="328" width="1" height="9" fill="#0c0c78"/>
<rect x="537" y="328" width="2" height="9" fill="#0c0c78"/>
<rect x="539" y="330" width="4" height="5" fill="#0c0c78"/>
<rect x="390" y="331" width="1" height="1" fill="#3a3a90"/>
<rect x="389" y="330" width="1" height="1" fill="#3a3a90"/>
<rect x="390" y="333" width="1" height="1" fill="#3a3a90"/>
<rect x="389" y="334" width="1" height="1" fill="#3a3a90"/>
<rect x="395" y="331" width="1" height="1" fill="#3a3a90"/>
<rect x="394" y="330" width="1" height="1" fill="#3a3a90"/>
<rect x="395" y="333" width="1" height="1" fill="#3a3a90"/>
<rect x="394" y="334" width="1" height="1" fill="#3a3a90"/>
<rect x="400" y="331" width="1" height="1" fill="#3a3a90"/>
<rect x="399" y="330" width="1" height="1" fill="#3a3a90"/>
<rect x="400" y="333" width="1" height="1" fill="#3a3a90"/>
<rect x="399" y="334" width="1" height="1" fill="#3a3a90"/>
<rect x="405" y="331" width="1" height="1" fill="#3a3a90"/>
<rect x="404" y="330" width="1" height="1" fill="#3a3a90"/>
<rect x="405" y="333" width="1" height="1" fill="#3a3a90"/>
<rect x="404" y="334" width="1" height="1" fill="#3a3a90"/>
<rect x="410" y="331" width="1" height="1" fill="#3a3a90"/>
<rect x="409" y="330" width="1" height="1" fill="#3a3a90"/>
<rect x="410" y="333" width="1" height="1" fill="#3a3a90"/>
<rect x="409" y="334" width="1" height="1" fill="#3a3a90"/>
<rect x="415" y="331" width="1" height="1" fill="#3a3a90"/>
<rect x="414" y="330" width="1" height="1" fill="#3a3a90"/>
<rect x="415" y="333" width="1" height="1" fill="#3a3a90"/>
<rect x="414" y="334" width="1" height="1" fill="#3a3a90"/>
<rect x="420" y="331" width="1" height="1" fill="#3a3a90"/>
<rect x="419" y="330" width="1" height="1" fill="#3a3a90"/>
<rect x="420" y="333" width="1" height="1" fill="#3a3a90"/>
<rect x="419" y="334" width="1" height="1" fill="#3a3a90"/>
<rect x="425" y="331" width="1" height="1" fill="#3a3a90"/>
<rect x="424" y="330" width="1" height="1" fill="#3a3a90"/>
<rect x="425" y="333" width="1" height="1" fill="#3a3a90"/>
<rect x="424" y="334" width="1" height="1" fill="#3a3a90"/>
<rect x="430" y="331" width="1" height="1" fill="#3a3a90"/>
<rect x="429" y="330" width="1" height="1" fill="#3a3a90"/>
<rect x="430" y="333" width="1" height="1" fill="#3a3a90"/>
<rect x="429" y="334" width="1" height="1" fill="#3a3a90"/>
<rect x="435" y="331" width="1" height="1" fill="#3a3a90"/>
<rect x="434" y="330" width="1" height="1" fill="#3a3a90"/>
<rect x="435" y="333" width="1" height="1" fill="#3a3a90"/>
<rect x="434" y="334" width="1" height="1" fill="#3a3a90"/>
<rect x="440" y="331" width="1" height="1" fill="#3a3a90"/>
<rect x="439" y="330" width="1" height="1" fill="#3a3a90"/>
<rect x="440" y="333" width="1" height="1" fill="#3a3a90"/>
<rect x="439" y="334" width="1" height="1" fill="#3a3a90"/>
<rect x="445" y="331" width="1" height="1" fill="#3a3a90"/>
<rect x="444" y="330" width="1" height="1" fill="#3a3a90"/>
<rect x="445" y="333" width="1" height="1" fill="#3a3a90"/>
<rect x="444" y="334" width="1" height="1" fill="#3a3a90"/>
<rect x="450" y="331" width="1" height="1" fill="#3a3a90"/>
<rect x="449" y="330" width="1" height="1" fill="#3a3a90"/>
<rect x="450" y="333" width="1" height="1" fill="#3a3a90"/>
<rect x="449" y="334" width="1" height="1" fill="#3a3a90"/>
<rect x="455" y="331" width="1" height="1" fill="#3a3a90"/>
<rect x="454" y="330" width="1" height="1" fill="#3a3a90"/>
<rect x="455" y="333" width="1" height="1" fill="#3a3a90"/>
<rect x="454" y="334" width="1" height="1" fill="#3a3a90"/>
<rect x="460" y="331" width="1" height="1" fill="#3a3a90"/>
<rect x="459" y="330" width="1" height="1" fill="#3a3a90"/>
<rect x="460" y="333" width="1" height="1" fill="#3a3a90"/>
<rect x="459" y="334" width="1" height="1" fill="#3a3a90"/>
<rect x="465" y="331" width="1" height="1" fill="#3a3a90"/>
<rect x="464" y="330" width="1" height="1" fill="#3a3a90"/>
<rect x="465" y="333" width="1" height="1" fill="#3a3a90"/>
<rect x="464" y="334" width="1" height="1" fill="#3a3a90"/>
<rect x="470" y="331" width="1" height="1" fill="#3a3a90"/>
<rect x="469" y="330" width="1" height="1" fill="#3a3a90"/>
<rect x="470" y="333" width="1" height="1" fill="#3a3a90"/>
<rect x="469" y="334" width="1" height="1" fill="#3a3a90"/>
<rect x="475" y="331" width="1" height="1" fill="#3a3a90"/>
<rect x="474" y="330" width="1" height="1" fill="#3a3a90"/>
<rect x="475" y="333" width="1" height="1" fill="#3a3a90"/>
<rect x="474" y="334" width="1" height="1" fill="#3a3a90"/>
<rect x="480" y="331" width="1" height="1" fill="#3a3a90"/>
<rect x="479" y="330" width="1" height="1" fill="#3a3a90"/>
<rect x="480" y="333" width="1" height="1" fill="#3a3a90"/>
<rect x="479" y="334" width="1" height="1" fill="#3a3a90"/>
<rect x="485" y="331" width="1" height="1" fill="#3a3a90"/>
<rect x="484" y="330" width="1" height="1" fill="#3a3a90"/>
<rect x="485" y="333" width="1" height="1" fill="#3a3a90"/>
<rect x="484" y="334" width="1" height="1" fill="#3a3a90"/>
<rect x="490" y="331" width="1" height="1" fill="#3a3a90"/>
<rect x="489" y="330" width="1" height="1" fill="#3a3a90"/>
<rect x="490" y="333" width="1" height="1" fill="#3a3a90"/>
<rect x="489" y="334" width="1" height="1" fill="#3a3a90"/>
<rect x="495" y="331" width="1" height="1" fill="#3a3a90"/>
<rect x="494" y="330" width="1" height="1" fill="#3a3a90"/>
<rect x="495" y="333" width="1" height="1" fill="#3a3a90"/>
<rect x="494" y="334" width="1" height="1" fill="#3a3a90"/>
<rect x="500" y="331" width="1" height="1" fill="#3a3a90"/>
<rect x="499" y="330" width="1" height="1" fill="#3a3a90"/>
<rect x="500" y="333" width="1" height="1" fill="#3a3a90"/>
<rect x="499" y="334" width="1" height="1" fill="#3a3a90"/>
<rect x="505" y="331" width="1" height="1" fill="#3a3a90"/>
<rect x="504" y="330" width="1" height="1" fill="#3a3a90"/>
<rect x="505" y="333" width="1" height="1" fill="#3a3a90"/>
<rect x="504" y="334" width="1" height="1" fill="#3a3a90"/>
<rect x="510" y="331" width="1" height="1" fill="#3a3a90"/>
<rect x="509" y="330" width="1" height="1" fill="#3a3a90"/>
<rect x="510" y="333" width="1" height="1" fill="#3a3a90"/>
<rect x="509" y="334" width="1" height="1" fill="#3a3a90"/>
<rect x="515" y="331" width="1" height="1" fill="#3a3a90"/>
<rect x="514" y="330" width="1" height="1" fill="#3a3a90"/>
<rect x="515" y="333" width="1" height="1" fill="#3a3a90"/>
<rect x="514" y="334" width="1" height="1" fill="#3a3a90"/>
<rect x="520" y="331" width="1" height="1" fill="#3a3a90"/>
<rect x="519" y="330" width="1" height="1" fill="#3a3a90"/>
<rect x="520" y="333" width="1" height="1" fill="#3a3a90"/>
<rect x="519" y="334" width="1" height="1" fill="#3a3a90"/>
<rect x="525" y="331" width="1" height="1" fill="#3a3a90"/>
<rect x="524" y="330" width="1" height="1" fill="#3a3a90"/>
<rect x="525" y="333" width="1" height="1" fill="#3a3a90"/>
<rect x="524" y="334" width="1" height="1" fill="#3a3a90"/>
<rect x="530" y="331" width="1" height="1" fill="#3a3a90"/>
<rect x="529" y="330" width="1" height="1" fill="#3a3a90"/>
<rect x="530" y="333" width="1" height="1" fill="#3a3a90"/>
<rect x="529" y="334" width="1" height="1" fill="#3a3a90"/>
<rect x="535" y="331" width="1" height="1" fill="#3a3a90"/>
<rect x="534" y="330" width="1" height="1" fill="#3a3a90"/>
<rect x="535" y="333" width="1" height="1" fill="#3a3a90"/>
<rect x="534" y="334" width="1" height="1" fill="#3a3a90"/>
<text x="383.5" y="344.9" fill="#0c0c78" stroke="#0c0c78" text-anchor="end" textLength="23.5" lengthAdjust="spacingAndGlyphs">PAX2</text>
<rect x="387" y="342" width="152" height="1" fill="#0c0c78"/>
<rect x="387" y="340" width="1" height="5" fill="#0c0c78"/>
<rect x="388" y="338" width="1" height="9" fill="#0c0c78"/>
<rect x="394" y="338" width="1" height="9" fill="#0c0c78"/>
<rect x="396" y="338" width="1" height="9" fill="#0c0c78"/>
<rect x="449" y="338" width="1" height="9" fill="#0c0c78"/>
<rect x="453" y="338" width="1" height="9" fill="#0c0c78"/>
<rect x="499" y="338" width="1" height="9" fill="#0c0c78"/>
<rect x="504" y="338" width="1" height="9" fill="#0c0c78"/>
<rect x="533" y="338" width="1" height="9" fill="#0c0c78"/>
<rect x="537" y="338" width="2" height="9" fill="#0c0c78"/>
<rect x="539" y="340" width="4" height="5" fill="#0c0c78"/>
<rect x="390" y="341" width="1" height="1" fill="#3a3a90"/>
<rect x="389" y="340" width="1" height="1" fill="#3a3a90"/>
<rect x="390" y="343" width="1" height="1" fill="#3a3a90"/>
<rect x="389" y="344" width="1" height="1" fill="#3a3a90"/>
<rect x="395" y="341" width="1" height="1" fill="#3a3a90"/>
<rect x="394" y="340" width="1" height="1" fill="#3a3a90"/>
<rect x="395" y="343" width="1" height="1" fill="#3a3a90"/>
<rect x="394" y="344" width="1" height="1" fill="#3a3a90"/>
<rect x="400" y="341" width="1" height="1" fill="#3a3a90"/>
<rect x="399" y="340" width="1" height="1" fill="#3a3a90"/>
<rect x="400" y="343" width="1" height="1" fill="#3a3a90"/>
<rect x="399" y="344" width="1" height="1" fill="#3a3a90"/>
<rect x="405" y="341" width="1" height="1" fill="#3a3a90"/>
<rect x="404" y="340" width="1" height="1" fill="#3a3a90"/>
<rect x="405" y="343" width="1" height="1" fill="#3a3a90"/>
<rect x="404" y="344" width="1" height="1" fill="#3a3a90"/>
<rect x="410" y="341" width="1" height="1" fill="#3a3a90"/>
<rect x="409" y="340" width="1" height="1" fill="#3a3a90"/>
<rect x="410" y="343" width="1" height="1" fill="#3a3a90"/>
<rect x="409" y="344" width="1" height="1" fill="#3a3a90"/>
<rect x="415" y="341" width="1" height="1" fill="#3a3a90"/>
<rect x="414" y="340" width="1" height="1" fill="#3a3a90"/>
<rect x="415" y="343" width="1" height="1" fill="#3a3a90"/>
<rect x="414" y="344" width="1" height="1" fill="#3a3a90"/>
<rect x="420" y="341" width="1" height="1" fill="#3a3a90"/>
<rect x="419" y="340" width="1" height="1" fill="#3a3a90"/>
<rect x="420" y="343" width="1" height="1" fill="#3a3a90"/>
<rect x="419" y="344" width="1" height="1" fill="#3a3a90"/>
<rect x="425" y="341" width="1" height="1" fill="#3a3a90"/>
<rect x="424" y="340" width="1" height="1" fill="#3a3a90"/>
<rect x="425" y="343" width="1" height="1" fill="#3a3a90"/>
<rect x="424" y="344" width="1" height="1" fill="#3a3a90"/>
<rect x="430" y="341" width="1" height="1" fill="#3a3a90"/>
<rect x="429" y="340" width="1" height="1" fill="#3a3a90"/>
<rect x="430" y="343" width="1" height="1" fill="#3a3a90"/>
<rect x="429" y="344" width="1" height="1" fill="#3a3a90"/>
<rect x="435" y="341" width="1" height="1" fill="#3a3a90"/>
<rect x="434" y="340" width="1" height="1" fill="#3a3a90"/>
<rect x="435" y="343" width="1" height="1" fill="#3a3a90"/>
<rect x="434" y="344" width="1" height="1" fill="#3a3a90"/>
<rect x="440" y="341" width="1" height="1" fill="#3a3a90"/>
<rect x="439" y="340" width="1" height="1" fill="#3a3a90"/>
<rect x="440" y="343" width="1" height="1" fill="#3a3a90"/>
<rect x="439" y="344" width="1" height="1" fill="#3a3a90"/>
<rect x="445" y="341" width="1" height="1" fill="#3a3a90"/>
<rect x="444" y="340" width="1" height="1" fill="#3a3a90"/>
<rect x="445" y="343" width="1" height="1" fill="#3a3a90"/>
<rect x="444" y="344" width="1" height="1" fill="#3a3a90"/>
<rect x="450" y="341" width="1" height="1" fill="#3a3a90"/>
<rect x="449" y="340" width="1" height="1" fill="#3a3a90"/>
<rect x="450" y="343" width="1" height="1" fill="#3a3a90"/>
<rect x="449" y="344" width="1" height="1" fill="#3a3a90"/>
<rect x="455" y="341" width="1" height="1" fill="#3a3a90"/>
<rect x="454" y="340" width="1" height="1" fill="#3a3a90"/>
<rect x="455" y="343" width="1" height="1" fill="#3a3a90"/>
<rect x="454" y="344" width="1" height="1" fill="#3a3a90"/>
<rect x="460" y="341" width="1" height="1" fill="#3a3a90"/>
<rect x="459" y="340" width="1" height="1" fill="#3a3a90"/>
<rect x="460" y="343" width="1" height="1" fill="#3a3a90"/>
<rect x="459" y="344" width="1" height="1" fill="#3a3a90"/>
<rect x="465" y="341" width="1" height="1" fill="#3a3a90"/>
<rect x="464" y="340" width="1" height="1" fill="#3a3a90"/>
<rect x="465" y="343" width="1" height="1" fill="#3a3a90"/>
<rect x="464" y="344" width="1" height="1" fill="#3a3a90"/>
<rect x="470" y="341" width="1" height="1" fill="#3a3a90"/>
<rect x="469" y="340" width="1" height="1" fill="#3a3a90"/>
<rect x="470" y="343" width="1" height="1" fill="#3a3a90"/>
<rect x="469" y="344" width="1" height="1" fill="#3a3a90"/>
<rect x="475" y="341" width="1" height="1" fill="#3a3a90"/>
<rect x="474" y="340" width="1" height="1" fill="#3a3a90"/>
<rect x="475" y="343" width="1" height="1" fill="#3a3a90"/>
<rect x="474" y="344" width="1" height="1" fill="#3a3a90"/>
<rect x="480" y="341" width="1" height="1" fill="#3a3a90"/>
<rect x="479" y="340" width="1" height="1" fill="#3a3a90"/>
<rect x="480" y="343" width="1" height="1" fill="#3a3a90"/>
<rect x="479" y="344" width="1" height="1" fill="#3a3a90"/>
<rect x="485" y="341" width="1" height="1" fill="#3a3a90"/>
<rect x="484" y="340" width="1" height="1" fill="#3a3a90"/>
<rect x="485" y="343" width="1" height="1" fill="#3a3a90"/>
<rect x="484" y="344" width="1" height="1" fill="#3a3a90"/>
<rect x="490" y="341" width="1" height="1" fill="#3a3a90"/>
<rect x="489" y="340" width="1" height="1" fill="#3a3a90"/>
<rect x="490" y="343" width="1" height="1" fill="#3a3a90"/>
<rect x="489" y="344" width="1" height="1" fill="#3a3a90"/>
<rect x="495" y="341" width="1" height="1" fill="#3a3a90"/>
<rect x="494" y="340" width="1" height="1" fill="#3a3a90"/>
<rect x="495" y="343" width="1" height="1" fill="#3a3a90"/>
<rect x="494" y="344" width="1" height="1" fill="#3a3a90"/>
<rect x="500" y="341" width="1" height="1" fill="#3a3a90"/>
<rect x="499" y="340" width="1" height="1" fill="#3a3a90"/>
<rect x="500" y="343" width="1" height="1" fill="#3a3a90"/>
<rect x="499" y="344" width="1" height="1" fill="#3a3a90"/>
<rect x="505" y="341" width="1" height="1" fill="#3a3a90"/>
<rect x="504" y="340" width="1" height="1" fill="#3a3a90"/>
<rect x="505" y="343" width="1" height="1" fill="#3a3a90"/>
<rect x="504" y="344" width="1" height="1" fill="#3a3a90"/>
<rect x="510" y="341" width="1" height="1" fill="#3a3a90"/>
<rect x="509" y="340" width="1" height="1" fill="#3a3a90"/>
<rect x="510" y="343" width="1" height="1" fill="#3a3a90"/>
<rect x="509" y="344" width="1" height="1" fill="#3a3a90"/>
<rect x="515" y="341" width="1" height="1" fill="#3a3a90"/>
<rect x="514" y="340" width="1" height="1" fill="#3a3a90"/>
<rect x="515" y="343" width="1" height="1" fill="#3a3a90"/>
<rect x="514" y="344" width="1" height="1" fill="#3a3a90"/>
<rect x="520" y="341" width="1" height="1" fill="#3a3a90"/>
<rect x="519" y="340" width="1" height="1" fill="#3a3a90"/>
<rect x="520" y="343" width="1" height="1" fill="#3a3a90"/>
<rect x="519" y="344" width="1" height="1" fill="#3a3a90"/>
<rect x="525" y="341" width="1" height="1" fill="#3a3a90"/>
<rect x="524" y="340" width="1" height="1" fill="#3a3a90"/>
<rect x="525" y="343" width="1" height="1" fill="#3a3a90"/>
<rect x="524" y="344" width="1" height="1" fill="#3a3a90"/>
<rect x="530" y="341" width="1" height="1" fill="#3a3a90"/>
<rect x="529" y="340" width="1" height="1" fill="#3a3a90"/>
<rect x="530" y="343" width="1" height="1" fill="#3a3a90"/>
<rect x="529" y="344" width="1" height="1" fill="#3a3a90"/>
<rect x="535" y="341" width="1" height="1" fill="#3a3a90"/>
<rect x="534" y="340" width="1" height="1" fill="#3a3a90"/>
<rect x="535" y="343" width="1" height="1" fill="#3a3a90"/>
<rect x="534" y="344" width="1" height="1" fill="#3a3a90"/>
<text x="369.0" y="354.8" fill="#287828" stroke="#287828" text-anchor="middle" textLength="215.5" lengthAdjust="spacingAndGlyphs">Vertebrate Conservation by PhastCons</text>
<text x="104" y="354.8" fill="#287828" stroke="#287828" text-anchor="end" textLength="5.5" lengthAdjust="spacingAndGlyphs">1</text>
<rect x="108" y="355" width="5" height="1" fill="#287828"/>
<text x="103" y="373" fill="#287828" stroke="#287828" text-anchor="end" textLength="89.5" lengthAdjust="spacingAndGlyphs">Vertebrate Cons</text>
<text x="104" y="394.8" fill="#287828" stroke="#287828" text-anchor="end" textLength="5.5" lengthAdjust="spacingAndGlyphs">0</text>
<rect x="108" y="395" width="5" height="1" fill="#287828"/>
<rect x="118" y="394" width="1" height="3" fill="#287828"/>
<rect x="119" y="395" width="1" height="2" fill="#287828"/>
<rect x="120" y="395" width="1" height="2" fill="#287828"/>
<rect x="121" y="393" width="1" height="4" fill="#287828"/>
<rect x="122" y="385" width="1" height="12" fill="#287828"/>
<rect x="123" y="393" width="1" height="4" fill="#287828"/>
<rect x="124" y="394" width="1" height="3" fill="#287828"/>
<rect x="125" y="392" width="1" height="5" fill="#287828"/>
<rect x="126" y="390" width="1" height="7" fill="#287828"/>
<rect x="127" y="395" width="1" height="2" fill="#287828"/>
<rect x="128" y="394" width="1" height="3" fill="#287828"/>
<rect x="129" y="395" width="1" height="2" fill="#287828"/>
<rect x="130" y="391" width="1" height="6" fill="#287828"/>
<rect x="131" y="395" width="1" height="2" fill="#287828"/>
<rect x="132" y="395" width="1" height="2" fill="#287828"/>
<rect x="133" y="394" width="1" height="3" fill="#287828"/>
<rect x="134" y="393" width="1" height="4" fill="#287828"/>
<rect x="135" y="393" width="1" height="4" fill="#287828"/>
<rect x="136" y="393" width="1" height="4" fill="#287828"/>
<rect x="137" y="393" width="1" height="4" fill="#287828"/>
<rect x="138" y="393" width="1" height="4" fill="#287828"/>
<rect x="139" y="394" width="1" height="3" fill="#287828"/>
<rect x="140" y="372" width="1" height="25" fill="#287828"/>
<rect x="141" y="377" width="1" height="20" fill="#287828"/>
<rect x="142" y="373" width="1" height="24" fill="#287828"/>
<rect x="143" y="374" width="1" height="23" fill="#287828"/>
<rect x="144" y="393" width="1" height="4" fill="#287828"/>
<rect x="145" y="372" width="1" height="25" fill="#287828"/>
<rect x="146" y="393" width="1" height="4" fill="#287828"/>
<rect x="147" y="392" width="1" height="5" fill="#287828"/>
<rect x="148" y="395" width="1" height="2" fill="#287828"/>
<rect x="149" y="395" width="1" height="2" fill="#287828"/>
<rect x="150" y="375" width="1" height="22" fill="#287828"/>
<rect x="151" y="394" width="1" height="3" fill="#287828"/>
<rect x="152" y="395" width="1" height="2" fill="#287828"/>
<rect x="153" y="388" width="1" height="9" fill="#287828"/>
<rect x="154" y="387" width="1" height="10" fill="#287828"/>
<rect x="155" y="392" width="1" height="5" fill="#287828"/>
<rect x="156" y="390" width="1" height="7" fill="#287828"/>
<rect x="157" y="383" width="1" height="14" fill="#287828"/>
<rect x="158" y="394" width="1" height="3" fill="#287828"/>
<rect x="159" y="378" width="1" height="19" fill="#287828"/>
<rect x="160" y="387" width="1" height="10" fill="#287828"/>
<rect x="161" y="393" width="1" height="4" fill="#287828"/>
<rect x="162" y="394" width="1" height="3" fill="#287828"/>
<rect x="163" y="385" width="1" height="12" fill="#287828"/>
<rect x="164" y="381" width="1" height="16" fill="#287828"/>
<rect x="165" y="393" width="1" height="4" fill="#287828"/>
<rect x="166" y="395" width="1" height="2" fill="#287828"/>
<rect x="167" y="395" width="1" height="2" fill="#287828"/>
<rect x="168" y="395" width="1" height="2" fill="#287828"/>
<rect x="169" y="369" width="1" height="28" fill="#287828"/>
<rect x="170" y="395" width="1" height="2" fill="#287828"/>
<rect x="171" y="393" width="1" height="4" fill="#287828"/>
<rect x="172" y="393" width="1" height="4" fill="#287828"/>
<rect x="173" y="395" width="1" height="2" fill="#287828"/>
<rect x="174" y="395" width="1" height="2" fill="#287828"/>
<rect x="175" y="381" width="1" height="16" fill="#287828"/>
<rect x="176" y="391" width="1" height="6" fill="#287828"/>
<rect x="177" y="395" width="1" height="2" fill="#287828"/>
<rect x="178" y="395" width="1" height="2" fill="#287828"/>
<rect x="179" y="395" width="1" height="2" fill="#287828"/>
<rect x="180" y="395" width="1" height="2" fill="#287828"/>
<rect x="181" y="380" width="1" height="17" fill="#287828"/>
<rect x="182" y="395" width="1" height="2" fill="#287828"/>
<rect x="183" y="395" width="1" height="2" fill="#287828"/>
<rect x="184" y="395" width="1" height="2" fill="#287828"/>
<rect x="185" y="395" width="1" height="2" fill="#287828"/>
<rect x="186" y="393" width="1" height="4" fill="#287828"/>
<rect x="187" y="380" width="1" height="17" fill="#287828"/>
<rect x="188" y="395" width="1" height="2" fill="#287828"/>
<rect x="189" y="394" width="1" height="3" fill="#287828"/>
<rect x="190" y="395" width="1" height="2" fill="#287828"/>
<rect x="191" y="395" width="1" height="2" fill="#287828"/>
<rect x="192" y="390" width="1" height="7" fill="#287828"/>
<rect x="193" y="393" width="1" height="4" fill="#287828"/>
<rect x="194" y="394" width="1" height="3" fill="#287828"/>
<rect x="195" y="384" width="1" height="13" fill="#287828"/>
<rect x="196" y="395" width="1" height="2" fill="#287828"/>
<rect x="197" y="394" width="1" height="3" fill="#287828"/>
<rect x="198" y="393" width="1" height="4" fill="#287828"/>
<rect x="199" y="384" width="1" height="13" fill="#287828"/>
<rect x="200" y="394" width="1" height="3" fill="#287828"/>
<rect x="201" y="390" width="1" height="7" fill="#287828"/>
<rect x="202" y="382" width="1" height="15" fill="#287828"/>
<rect x="203" y="395" width="1" height="2" fill="#287828"/>
<rect x="204" y="394" width="1" height="3" fill="#287828"/>
<rect x="205" y="395" width="1" height="2" fill="#287828"/>
<rect x="206" y="393" width="1" height="4" fill="#287828"/>
<rect x="207" y="392" width="1" height="5" fill="#287828"/>
<rect x="208" y="392" width="1" height="5" fill="#287828"/>
<rect x="209" y="373" width="1" height="24" fill="#287828"/>
<rect x="210" y="394" width="1" height="3" fill="#287828"/>
<rect x="211" y="395" width="1" height="2" fill="#287828"/>
<rect x="212" y="395" width="1" height="2" fill="#287828"/>
<rect x="213" y="395" width="1" height="2" fill="#287828"/>
<rect x="214" y="395" width="1" height="2" fill="#287828"/>
<rect x="215" y="393" width="1" height="4" fill="#287828"/>
<rect x="216" y="390" width="1" height="7" fill="#287828"/>
<rect x="217" y="372" width="1" height="25" fill="#287828"/>
<rect x="218" y="380" width="1" height="17" fill="#287828"/>
<rect x="219" y="369" width="1" height="28" fill="#287828"/>
<rect x="220" y="375" width="1" height="22" fill="#287828"/>
<rect x="221" y="378" width="1" height="19" fill="#287828"/>
<rect x="222" y="394" width="1" height="3" fill="#287828"/>
<rect x="223" y="395" width="1" height="2" fill="#287828"/>
<rect x="224" y="395" width="1" height="2" fill="#287828"/>
<rect x="225" y="395" width="1" height="2" fill="#287828"/>
<rect x="226" y="393" width="1" height="4" fill="#287828"/>
<rect x="227" y="365" width="1" height="32" fill="#287828"/>
<rect x="228" y="395" width="1" height="2" fill="#287828"/>
<rect x="229" y="395" width="1" height="2" fill="#287828"/>
<rect x="230" y="390" width="1" height="7" fill="#287828"/>
<rect x="231" y="381" width="1" height="16" fill="#287828"/>
<rect x="232" y="387" width="1" height="10" fill="#287828"/>
<rect x="233" y="393" width="1" height="4" fill="#287828"/>
<rect x="234" y="380" width="1" height="17" fill="#287828"/>
<rect x="235" y="392" width="1" height="5" fill="#287828"/>
<rect x="236" y="383" width="1" height="14" fill="#287828"/>
<rect x="237" y="387" width="1" height="10" fill="#287828"/>
<rect x="238" y="395" width="1" height="2" fill="#287828"/>
<rect x="239" y="392" width="1" height="5" fill="#287828"/>
<rect x="240" y="393" width="1" height="4" fill="#287828"/>
<rect x="241" y="395" width="1" height="2" fill="#287828"/>
<rect x="242" y="395" width="1" height="2" fill="#287828"/>
<rect x="243" y="366" width="1" height="31" fill="#287828"/>
<rect x="244" y="392" width="1" height="5" fill="#287828"/>
<rect x="245" y="395" width="1" height="2" fill="#287828"/>
<rect x="246" y="395" width="1" height="2" fill="#287828"/>
<rect x="247" y="392" width="1" height="5" fill="#287828"/>
<rect x="248" y="371" width="1" height="26" fill="#287828"/>
<rect x="249" y="395" width="1" height="2" fill="#287828"/>
<rect x="250" y="395" width="1" height="2" fill="#287828"/>
<rect x="251" y="395" width="1" height="2" fill="#287828"/>
<rect x="252" y="395" width="1" height="2" fill="#287828"/>
<rect x="253" y="394" width="1" height="3" fill="#287828"/>
<rect x="254" y="394" width="1" height="3" fill="#287828"/>
<rect x="255" y="395" width="1" height="2" fill="#287828"/>
<rect x="256" y="395" width="1" height="2" fill="#287828"/>
<rect x="257" y="394" width="1" height="3" fill="#287828"/>
<rect x="258" y="394" width="1" height="3" fill="#287828"/>
<rect x="259" y="395" width="1" height="2" fill="#287828"/>
<rect x="260" y="395" width="1" height="2" fill="#287828"/>
<rect x="261" y="394" width="1" height="3" fill="#287828"/>
<rect x="262" y="395" width="1" height="2" fill="#287828"/>
<rect x="263" y="394" width="1" height="3" fill="#287828"/>
<rect x="264" y="393" width="1" height="4" fill="#287828"/>
<rect x="265" y="395" width="1" height="2" fill="#287828"/>
<rect x="266" y="393" width="1" height="4" fill="#287828"/>
<rect x="267" y="379" width="1" height="18" fill="#287828"/>
<rect x="268" y="391" width="1" height="6" fill="#287828"/>
<rect x="269" y="395" width="1" height="2" fill="#287828"/>
<rect x="270" y="395" width="1" height="2" fill="#287828"/>
<rect x="271" y="391" width="1" height="6" fill="#287828"/>
<rect x="272" y="361" width="1" height="36" fill="#287828"/>
<rect x="273" y="382" width="1" height="15" fill="#287828"/>
<rect x="274" y="386" width="1" height="11" fill="#287828"/>
<rect x="275" y="381" width="1" height="16" fill="#287828"/>
<rect x="276" y="394" width="1" height="3" fill="#287828"/>
<rect x="277" y="395" width="1" height="2" fill="#287828"/>
<rect x="278" y="385" width="1" height="12" fill="#287828"/>
<rect x="279" y="358" width="1" height="39" fill="#287828"/>
<rect x="280" y="376" width="1" height="21" fill="#287828"/>
<rect x="281" y="382" width="1" height="15" fill="#287828"/>
<rect x="282" y="390" width="1" height="7" fill="#287828"/>
<rect x="283" y="393" width="1" height="4" fill="#287828"/>
<rect x="284" y="394" width="1" height="3" fill="#287828"/>
<rect x="285" y="395" width="1" height="2" fill="#287828"/>
<rect x="286" y="395" width="1" height="2" fill="#287828"/>
<rect x="287" y="395" width="1" height="2" fill="#287828"/>
<rect x="288" y="385" width="1" height="12" fill="#287828"/>
<rect x="289" y="395" width="1" height="2" fill="#287828"/>
<rect x="290" y="392" width="1" height="5" fill="#287828"/>
<rect x="291" y="393" width="1" height="4" fill="#287828"/>
<rect x="292" y="394" width="1" height="3" fill="#287828"/>
<rect x="293" y="392" width="1" height="5" fill="#287828"/>
<rect x="294" y="391" width="1" height="6" fill="#287828"/>
<rect x="295" y="393" width="1" height="4" fill="#287828"/>
<rect x="296" y="393" width="1" height="4" fill="#287828"/>
<rect x="297" y="384" width="1" height="13" fill="#287828"/>
<rect x="298" y="384" width="1" height="13" fill="#287828"/>
<rect x="299" y="395" width="1" height="2" fill="#287828"/>
<rect x="300" y="395" width="1" height="2" fill="#287828"/>
<rect x="301" y="395" width="1" height="2" fill="#287828"/>
<rect x="302" y="392" width="1" height="5" fill="#287828"/>
<rect x="303" y="395" width="1" height="2" fill="#287828"/>
<rect x="304" y="394" width="1" height="3" fill="#287828"/>
<rect x="305" y="390" width="1" height="7" fill="#287828"/>
<rect x="306" y="395" width="1" height="2" fill="#287828"/>
<rect x="307" y="384" width="1" height="13" fill="#287828"/>
<rect x="308" y="391" width="1" height="6" fill="#287828"/>
<rect x="309" y="393" width="1" height="4" fill="#287828"/>
<rect x="310" y="395" width="1" height="2" fill="#287828"/>
<rect x="311" y="394" width="1" height="3" fill="#287828"/>
<rect x="312" y="394" width="1" height="3" fill="#287828"/>
<rect x="313" y="395" width="1" height="2" fill="#287828"/>
<rect x="314" y="395" width="1" height="2" fill="#287828"/>
<rect x="315" y="363" width="1" height="34" fill="#287828"/>
<rect x="316" y="394" width="1" height="3" fill="#287828"/>
<rect x="317" y="383" width="1" height="14" fill="#287828"/>
<rect x="318" y="391" width="1" height="6" fill="#287828"/>
<rect x="319" y="372" width="1" height="25" fill="#287828"/>
<rect x="320" y="388" width="1" height="9" fill="#287828"/>
<rect x="321" y="386" width="1" height="11" fill="#287828"/>
<rect x="322" y="395" width="1" height="2" fill="#287828"/>
<rect x="323" y="395" width="1" height="2" fill="#287828"/>
<rect x="324" y="395" width="1" height="2" fill="#287828"/>
<rect x="325" y="382" width="1" height="15" fill="#287828"/>
<rect x="326" y="393" width="1" height="4" fill="#287828"/>
<rect x="327" y="379" width="1" height="18" fill="#287828"/>
<rect x="328" y="391" width="1" height="6" fill="#287828"/>
<rect x="329" y="395" width="1" height="2" fill="#287828"/>
<rect x="330" y="394" width="1" height="3" fill="#287828"/>
<rect x="331" y="369" width="1" height="28" fill="#287828"/>
<rect x="332" y="394" width="1" height="3" fill="#287828"/>
<rect x="333" y="395" width="1" height="2" fill="#287828"/>
<rect x="334" y="395" width="1" height="2" fill="#287828"/>
<rect x="335" y="395" width="1" height="2" fill="#287828"/>
<rect x="336" y="394" width="1" height="3" fill="#287828"/>
<rect x="337" y="395" width="1" height="2" fill="#287828"/>
<rect x="338" y="392" width="1" height="5" fill="#287828"/>
<rect x="339" y="395" width="1" height="2" fill="#287828"/>
<rect x="340" y="394" width="1" height="3" fill="#287828"/>
<rect x="341" y="395" width="1" height="2" fill="#287828"/>
<rect x="342" y="395" width="1" height="2" fill="#287828"/>
<rect x="343" y="395" width="1" height="2" fill="#287828"/>
<rect x="344" y="395" width="1" height="2" fill="#287828"/>
<rect x="345" y="395" width="1" height="2" fill="#287828"/>
<rect x="346" y="381" width="1" height="16" fill="#287828"/>
<rect x="347" y="383" width="1" height="14" fill="#287828"/>
<rect x="348" y="395" width="1" height="2" fill="#287828"/>
<rect x="349" y="395" width="1" height="2" fill="#287828"/>
<rect x="350" y="395" width="1" height="2" fill="#287828"/>
<rect x="351" y="395" width="1" height="2" fill="#287828"/>
<rect x="352" y="390" width="1" height="7" fill="#287828"/>
<rect x="353" y="394" width="1" height="3" fill="#287828"/>
<rect x="354" y="395" width="1" height="2" fill="#287828"/>
<rect x="355" y="395" width="1" height="2" fill="#287828"/>
<rect x="356" y="395" width="1" height="2" fill="#287828"/>
<rect x="357" y="394" width="1" height="3" fill="#287828"/>
<rect x="358" y="384" width="1" height="13" fill="#287828"/>
<rect x="359" y="381" width="1" height="16" fill="#287828"/>
<rect x="360" y="394" width="1" height="3" fill="#287828"/>
<rect x="361" y="377" width="1" height="20" fill="#287828"/>
<rect x="362" y="392" width="1" height="5" fill="#287828"/>
<rect x="363" y="374" width="1" height="23" fill="#287828"/>
<rect x="364" y="391" width="1" height="6" fill="#287828"/>
<rect x="365" y="395" width="1" height="2" fill="#287828"/>
<rect x="366" y="395" width="1" height="2" fill="#287828"/>
<rect x="367" y="387" width="1" height="10" fill="#287828"/>
<rect x="368" y="382" width="1" height="15" fill="#287828"/>
<rect x="369" y="391" width="1" height="6" fill="#287828"/>
<rect x="370" y="378" width="1" height="19" fill="#287828"/>
<rect x="371" y="393" width="1" height="4" fill="#287828"/>
<rect x="372" y="390" width="1" height="7" fill="#287828"/>
<rect x="373" y="385" width="1" height="12" fill="#287828"/>
<rect x="374" y="393" width="1" height="4" fill="#287828"/>
<rect x="375" y="387" width="1" height="10" fill="#287828"/>
<rect x="376" y="390" width="1" height="7" fill="#287828"/>
<rect x="377" y="394" width="1" height="3" fill="#287828"/>
<rect x="378" y="364" width="1" height="33" fill="#287828"/>
<rect x="379" y="385" width="1" height="12" fill="#287828"/>
<rect x="380" y="388" width="1" height="9" fill="#287828"/>
<rect x="381" y="377" width="1" height="20" fill="#287828"/>
<rect x="382" y="394" width="1" height="3" fill="#287828"/>
<rect x="383" y="390" width="1" height="7" fill="#287828"/>
<rect x="384" y="378" width="1" height="19" fill="#287828"/>
<rect x="385" y="378" width="1" height="19" fill="#287828"/>
<rect x="386" y="364" width="1" height="33" fill="#287828"/>
<rect x="387" y="377" width="1" height="20" fill="#287828"/>
<rect x="388" y="391" width="1" height="6" fill="#287828"/>
<rect x="389" y="391" width="1" height="6" fill="#287828"/>
<rect x="390" y="389" width="1" height="8" fill="#287828"/>
<rect x="391" y="381" width="1" height="16" fill="#287828"/>
<rect x="392" y="395" width="1" height="2" fill="#287828"/>
<rect x="393" y="395" width="1" height="2" fill="#287828"/>
<rect x="394" y="378" width="1" height="19" fill="#287828"/>
<rect x="395" y="393" width="1" height="4" fill="#287828"/>
<rect x="396" y="372" width="1" height="25" fill="#287828"/>
<rect x="397" y="389" width="1" height="8" fill="#287828"/>
<rect x="398" y="371" width="1" height="26" fill="#287828"/>
<rect x="399" y="394" width="1" height="3" fill="#287828"/>
<rect x="400" y="394" width="1" height="3" fill="#287828"/>
<rect x="401" y="385" width="1" height="12" fill="#287828"/>
<rect x="402" y="391" width="1" height="6" fill="#287828"/>
<rect x="403" y="395" width="1" height="2" fill="#287828"/>
<rect x="404" y="387" width="1" height="10" fill="#287828"/>
<rect x="405" y="375" width="1" height="22" fill="#287828"/>
<rect x="406" y="395" width="1" height="2" fill="#287828"/>
<rect x="407" y="395" width="1" height="2" fill="#287828"/>
<rect x="408" y="395" width="1" height="2" fill="#287828"/>
<rect x="409" y="395" width="1" height="2" fill="#287828"/>
<rect x="410" y="395" width="1" height="2" fill="#287828"/>
<rect x="411" y="395" width="1" height="2" fill="#287828"/>
<rect x="412" y="394" width="1" height="3" fill="#287828"/>
<rect x="413" y="395" width="1" height="2" fill="#287828"/>
<rect x="414" y="388" width="1" height="9" fill="#287828"/>
<rect x="415" y="393" width="1" height="4" fill="#287828"/>
<rect x="416" y="374" width="1" height="23" fill="#287828"/>
<rect x="417" y="381" width="1" height="16" fill="#287828"/>
<rect x="418" y="381" width="1" height="16" fill="#287828"/>
<rect x="419" y="388" width="1" height="9" fill="#287828"/>
<rect x="420" y="394" width="1" height="3" fill="#287828"/>
<rect x="421" y="395" width="1" height="2" fill="#287828"/>
<rect x="422" y="389" width="1" height="8" fill="#287828"/>
<rect x="423" y="394" width="1" height="3" fill="#287828"/>
<rect x="424" y="391" width="1" height="6" fill="#287828"/>
<rect x="425" y="387" width="1" height="10" fill="#287828"/>
<rect x="426" y="381" width="1" height="16" fill="#287828"/>
<rect x="427" y="362" width="1" height="35" fill="#287828"/>
<rect x="428" y="391" width="1" height="6" fill="#287828"/>
<rect x="429" y="393" width="1" height="4" fill="#287828"/>
<rect x="430" y="394" width="1" height="3" fill="#287828"/>
<rect x="431" y="394" width="1" height="3" fill="#287828"/>
<rect x="432" y="378" width="1" height="19" fill="#287828"/>
<rect x="433" y="394" width="1" height="3" fill="#287828"/>
<rect x="434" y="394" width="1" height="3" fill="#287828"/>
<rect x="435" y="393" width="1" height="4" fill="#287828"/>
<rect x="436" y="389" width="1" height="8" fill="#287828"/>
<rect x="437" y="393" width="1" height="4" fill="#287828"/>
<rect x="438" y="357" width="1" height="40" fill="#287828"/>
<rect x="439" y="388" width="1" height="9" fill="#287828"/>
<rect x="440" y="394" width="1" height="3" fill="#287828"/>
<rect x="441" y="395" width="1" height="2" fill="#287828"/>
<rect x="442" y="390" width="1" height="7" fill="#287828"/>
<rect x="443" y="395" width="1" height="2" fill="#287828"/>
<rect x="444" y="395" width="1" height="2" fill="#287828"/>
<rect x="445" y="391" width="1" height="6" fill="#287828"/>
<rect x="446" y="395" width="1" height="2" fill="#287828"/>
<rect x="447" y="395" width="1" height="2" fill="#287828"/>
<rect x="448" y="395" width="1" height="2" fill="#287828"/>
<rect x="449" y="387" width="1" height="10" fill="#287828"/>
<rect x="450" y="395" width="1" height="2" fill="#287828"/>
<rect x="451" y="392" width="1" height="5" fill="#287828"/>
<rect x="452" y="379" width="1" height="18" fill="#287828"/>
<rect x="453" y="388" width="1" height="9" fill="#287828"/>
<rect x="454" y="393" width="1" height="4" fill="#287828"/>
<rect x="455" y="380" width="1" height="17" fill="#287828"/>
<rect x="456" y="391" width="1" height="6" fill="#287828"/>
<rect x="457" y="391" width="1" height="6" fill="#287828"/>
<rect x="458" y="381" width="1" height="16" fill="#287828"/>
<rect x="459" y="392" width="1" height="5" fill="#287828"/>
<rect x="460" y="385" width="1" height="12" fill="#287828"/>
<rect x="461" y="395" width="1" height="2" fill="#287828"/>
<rect x="462" y="393" width="1" height="4" fill="#287828"/>
<rect x="463" y="370" width="1" height="27" fill="#287828"/>
<rect x="464" y="361" width="1" height="36" fill="#287828"/>
<rect x="465" y="368" width="1" height="29" fill="#287828"/>
<rect x="466" y="393" width="1" height="4" fill="#287828"/>
<rect x="467" y="395" width="1" height="2" fill="#287828"/>
<rect x="468" y="395" width="1" height="2" fill="#287828"/>
<rect x="469" y="391" width="1" height="6" fill="#287828"/>
<rect x="470" y="379" width="1" height="18" fill="#287828"/>
<rect x="471" y="385" width="1" height="12" fill="#287828"/>
<rect x="472" y="395" width="1" height="2" fill="#287828"/>
<rect x="473" y="388" width="1" height="9" fill="#287828"/>
<rect x="474" y="374" width="1" height="23" fill="#287828"/>
<rect x="475" y="395" width="1" height="2" fill="#287828"/>
<rect x="476" y="395" width="1" height="2" fill="#287828"/>
<rect x="477" y="375" width="1" height="22" fill="#287828"/>
<rect x="478" y="393" width="1" height="4" fill="#287828"/>
<rect x="479" y="392" width="1" height="5" fill="#287828"/>
<rect x="480" y="380" width="1" height="17" fill="#287828"/>
<rect x="481" y="393" width="1" height="4" fill="#287828"/>
<rect x="482" y="394" width="1" height="3" fill="#287828"/>
<rect x="483" y="395" width="1" height="2" fill="#287828"/>
<rect x="484" y="395" width="1" height="2" fill="#287828"/>
<rect x="485" y="383" width="1" height="14" fill="#287828"/>
<rect x="486" y="395" width="1" height="2" fill="#287828"/>
<rect x="487" y="395" width="1" height="2" fill="#287828"/>
<rect x="488" y="395" width="1" height="2" fill="#287828"/>
<rect x="489" y="393" width="1" height="4" fill="#287828"/>
<rect x="490" y="394" width="1" height="3" fill="#287828"/>
<rect x="491" y="395" width="1" height="2" fill="#287828"/>
<rect x="492" y="395" width="1" height="2" fill="#287828"/>
<rect x="493" y="395" width="1" height="2" fill="#287828"/>
<rect x="494" y="371" width="1" height="26" fill="#287828"/>
<rect x="495" y="385" width="1" height="12" fill="#287828"/>
<rect x="496" y="389" width="1" height="8" fill="#287828"/>
<rect x="497" y="388" width="1" height="9" fill="#287828"/>
<rect x="498" y="387" width="1" height="10" fill="#287828"/>
<rect x="499" y="382" width="1" height="15" fill="#287828"/>
<rect x="500" y="393" width="1" height="4" fill="#287828"/>
<rect x="501" y="390" width="1" height="7" fill="#287828"/>
<rect x="502" y="357" width="1" height="40" fill="#287828"/>
<rect x="503" y="378" width="1" height="19" fill="#287828"/>
<rect x="504" y="376" width="1" height="21" fill="#287828"/>
<rect x="505" y="386" width="1" height="11" fill="#287828"/>
<rect x="506" y="390" width="1" height="7" fill="#287828"/>
<rect x="507" y="372" width="1" height="25" fill="#287828"/>
<rect x="508" y="378" width="1" height="19" fill="#287828"/>
<rect x="509" y="378" width="1" height="19" fill="#287828"/>
<rect x="510" y="384" width="1" height="13" fill="#287828"/>
<rect x="511" y="393" width="1" height="4" fill="#287828"/>
<rect x="512" y="395" width="1" height="2" fill="#287828"/>
<rect x="513" y="394" width="1" height="3" fill="#287828"/>
<rect x="514" y="395" width="1" height="2" fill="#287828"/>
<rect x="515" y="380" width="1" height="17" fill="#287828"/>
<rect x="516" y="390" width="1" height="7" fill="#287828"/>
<rect x="517" y="395" width="1" height="2" fill="#287828"/>
<rect x="518" y="372" width="1" height="25" fill="#287828"/>
<rect x="519" y="394" width="1" height="3" fill="#287828"/>
<rect x="520" y="385" width="1" height="12" fill="#287828"/>
<rect x="521" y="392" width="1" height="5" fill="#287828"/>
<rect x="522" y="393" width="1" height="4" fill="#287828"/>
<rect x="523" y="394" width="1" height="3" fill="#287828"/>
<rect x="524" y="376" width="1" height="21" fill="#287828"/>
<rect x="525" y="395" width="1" height="2" fill="#287828"/>
<rect x="526" y="383" width="1" height="14" fill="#287828"/>
<rect x="527" y="394" width="1" height="3" fill="#287828"/>
<rect x="528" y="395" width="1" height="2" fill="#287828"/>
<rect x="529" y="395" width="1" height="2" fill="#287828"/>
<rect x="530" y="395" width="1" height="2" fill="#287828"/>
<rect x="531" y="386" width="1" height="11" fill="#287828"/>
<rect x="532" y="383" width="1" height="14" fill="#287828"/>
<rect x="533" y="378" width="1" height="19" fill="#287828"/>
<rect x="534" y="393" width="1" height="4" fill="#287828"/>
<rect x="535" y="369" width="1" height="28" fill="#287828"/>
<rect x="536" y="390" width="1" height="7" fill="#287828"/>
<rect x="537" y="387" width="1" height="10" fill="#287828"/>
<rect x="538" y="373" width="1" height="24" fill="#287828"/>
<rect x="539" y="389" width="1" height="8" fill="#287828"/>
<rect x="540" y="384" width="1" height="13" fill="#287828"/>
<rect x="541" y="376" width="1" height="21" fill="#287828"/>
<rect x="542" y="375" width="1" height="22" fill="#287828"/>
<rect x="543" y="395" width="1" height="2" fill="#287828"/>
<rect x="544" y="395" width="1" height="2" fill="#287828"/>
<rect x="545" y="395" width="1" height="2" fill="#287828"/>
<rect x="546" y="394" width="1" height="3" fill="#287828"/>
<rect x="547" y="393" width="1" height="4" fill="#287828"/>
<rect x="548" y="395" width="1" height="2" fill="#287828"/>
<rect x="549" y="395" width="1" height="2" fill="#287828"/>
<rect x="550" y="394" width="1" height="3" fill="#287828"/>
<rect x="551" y="395" width="1" height="2" fill="#287828"/>
<rect x="552" y="395" width="1" height="2" fill="#287828"/>
<rect x="553" y="385" width="1" height="12" fill="#287828"/>
<rect x="554" y="375" width="1" height="22" fill="#287828"/>
<rect x="555" y="379" width="1" height="18" fill="#287828"/>
<rect x="556" y="393" width="1" height="4" fill="#287828"/>
<rect x="557" y="394" width="1" height="3" fill="#287828"/>
<rect x="558" y="395" width="1" height="2" fill="#287828"/>
<rect x="559" y="395" width="1" height="2" fill="#287828"/>
<rect x="560" y="390" width="1" height="7" fill="#287828"/>
<rect x="561" y="394" width="1" height="3" fill="#287828"/>
<rect x="562" y="391" width="1" height="6" fill="#287828"/>
<rect x="563" y="390" width="1" height="7" fill="#287828"/>
<rect x="564" y="394" width="1" height="3" fill="#287828"/>
<rect x="565" y="391" width="1" height="6" fill="#287828"/>
<rect x="566" y="394" width="1" height="3" fill="#287828"/>
<rect x="567" y="393" width="1" height="4" fill="#287828"/>
<rect x="568" y="395" width="1" height="2" fill="#287828"/>
<rect x="569" y="393" width="1" height="4" fill="#287828"/>
<rect x="570" y="393" width="1" height="4" fill="#287828"/>
<rect x="571" y="394" width="1" height="3" fill="#287828"/>
<rect x="572" y="393" width="1" height="4" fill="#287828"/>
<rect x="573" y="392" width="1" height="5" fill="#287828"/>
<rect x="574" y="395" width="1" height="2" fill="#287828"/>
<rect x="575" y="386" width="1" height="11" fill="#287828"/>
<rect x="576" y="393" width="1" height="4" fill="#287828"/>
<rect x="577" y="393" width="1" height="4" fill="#287828"/>
<rect x="578" y="392" width="1" height="5" fill="#287828"/>
<rect x="579" y="392" width="1" height="5" fill="#287828"/>
<rect x="580" y="395" width="1" height="2" fill="#287828"/>
<rect x="581" y="390" width="1" height="7" fill="#287828"/>
<rect x="582" y="390" width="1" height="7" fill="#287828"/>
<rect x="583" y="391" width="1" height="6" fill="#287828"/>
<rect x="584" y="395" width="1" height="2" fill="#287828"/>
<rect x="585" y="392" width="1" height="5" fill="#287828"/>
<rect x="586" y="393" width="1" height="4" fill="#287828"/>
<rect x="587" y="379" width="1" height="18" fill="#287828"/>
<rect x="588" y="390" width="1" height="7" fill="#287828"/>
<rect x="589" y="395" width="1" height="2" fill="#287828"/>
<rect x="590" y="393" width="1" height="4" fill="#287828"/>
<rect x="591" y="394" width="1" height="3" fill="#287828"/>
<rect x="592" y="392" width="1" height="5" fill="#287828"/>
<rect x="593" y="395" width="1" height="2" fill="#287828"/>
<rect x="594" y="395" width="1" height="2" fill="#287828"/>
<rect x="595" y="393" width="1" height="4" fill="#287828"/>
<rect x="596" y="376" width="1" height="21" fill="#287828"/>
<rect x="597" y="384" width="1" height="13" fill="#287828"/>
<rect x="598" y="395" width="1" height="2" fill="#287828"/>
<rect x="599" y="395" width="1" height="2" fill="#287828"/>
<rect x="600" y="393" width="1" height="4" fill="#287828"/>
<rect x="601" y="395" width="1" height="2" fill="#287828"/>
<rect x="602" y="393" width="1" height="4" fill="#287828"/>
<rect x="603" y="395" width="1" height="2" fill="#287828"/>
<rect x="604" y="395" width="1" height="2" fill="#287828"/>
<rect x="605" y="392" width="1" height="5" fill="#287828"/>
<rect x="606" y="388" width="1" height="9" fill="#287828"/>
<rect x="607" y="376" width="1" height="21" fill="#287828"/>
<rect x="608" y="395" width="1" height="2" fill="#287828"/>
<rect x="609" y="395" width="1" height="2" fill="#287828"/>
<rect x="610" y="383" width="1" height="14" fill="#287828"/>
<rect x="611" y="381" width="1" height="16" fill="#287828"/>
<rect x="612" y="393" width="1" height="4" fill="#287828"/>
<rect x="613" y="394" width="1" height="3" fill="#287828"/>
<rect x="614" y="377" width="1" height="20" fill="#287828"/>
<rect x="615" y="395" width="1" height="2" fill="#287828"/>
<rect x="616" y="395" width="1" height="2" fill="#287828"/>
<rect x="617" y="376" width="1" height="21" fill="#287828"/>
<rect x="618" y="393" width="1" height="4" fill="#287828"/>
<text x="368.5" y="404.7" fill="#0c0c78" stroke="#0c0c78" text-anchor="middle" textLength="209.5" lengthAdjust="spacingAndGlyphs">Multiz Alignments of 46 Vertebrates</text>
<text x="114.5" y="414.3" fill="#0c0c78" stroke="#0c0c78" text-anchor="end" textLength="35.5" lengthAdjust="spacingAndGlyphs">Rhesus</text>
<rect x="118" y="407" width="3" height="8" fill="#000"/>
<rect x="121" y="407" width="1" height="8" fill="#1e1e1e"/>
<rect x="122" y="407" width="2" height="8" fill="#0c0c0c"/>
<rect x="124" y="407" width="1" height="8" fill="#3a3a3a"/>
<rect x="125" y="407" width="3" height="8" fill="#0c0c0c"/>
<rect x="128" y="410" width="1" height="1" fill="#333"/>
<rect x="129" y="407" width="3" height="8" fill="#000"/>
<rect x="132" y="407" width="1" height="8" fill="#3a3a3a"/>
<rect x="133" y="407" width="2" height="8" fill="#0c0c0c"/>
<rect x="135" y="407" width="1" height="8" fill="#3a3a3a"/>
<rect x="136" y="407" width="2" height="8" fill="#000"/>
<rect x="138" y="409" width="2" height="1" fill="#444"/>
<rect x="138" y="412" width="2" height="1" fill="#444"/>
<rect x="140" y="407" width="8" height="8" fill="#0c0c0c"/>
<rect x="148" y="407" width="1" height="8" fill="#1e1e1e"/>
<rect x="149" y="407" width="8" height="8" fill="#000"/>
<rect x="157" y="407" width="1" height="8" fill="#262626"/>
<rect x="158" y="407" width="4" height="8" fill="#000"/>
<rect x="162" y="407" width="1" height="8" fill="#262626"/>
<rect x="163" y="407" width="2" height="8" fill="#000"/>
<rect x="165" y="407" width="1" height="8" fill="#3a3a3a"/>
<rect x="166" y="407" width="8" height="8" fill="#000"/>
<rect x="174" y="407" width="1" height="8" fill="#3a3a3a"/>
<rect x="175" y="407" width="7" height="8" fill="#000"/>
<rect x="182" y="407" width="1" height="8" fill="#ccc"/>
<rect x="183" y="407" width="6" height="8" fill="#000"/>
<rect x="189" y="407" width="1" height="8" fill="#3a3a3a"/>
<rect x="190" y="407" width="5" height="8" fill="#000"/>
<rect x="195" y="407" width="1" height="8" fill="#1e1e1e"/>
<rect x="196" y="407" width="3" height="8" fill="#000"/>
<rect x="199" y="407" width="1" height="8" fill="#3a3a3a"/>
<rect x="200" y="407" width="4" height="8" fill="#000"/>
<rect x="204" y="407" width="1" height="8" fill="#3a3a3a"/>
<rect x="205" y="407" width="6" height="8" fill="#000"/>
<rect x="211" y="407" width="1" height="8" fill="#303030"/>
<rect x="212" y="407" width="8" height="8" fill="#060606"/>
<rect x="220" y="407" width="1" height="8" fill="#262626"/>
<rect x="221" y="407" width="8" height="8" fill="#060606"/>
<rect x="229" y="407" width="1" height="8" fill="#3a3a3a"/>
<rect x="230" y="407" width="6" height="8" fill="#000"/>
<rect x="236" y="407" width="1" height="8" fill="#1e1e1e"/>
<rect x="237" y="407" width="4" height="8" fill="#0c0c0c"/>
<rect x="241" y="407" width="1" height="8" fill="#3a3a3a"/>
<rect x="242" y="407" width="6" height="8" fill="#000"/>
<rect x="248" y="407" width="1" height="8" fill="#3a3a3a"/>
<rect x="249" y="407" width="3" height="8" fill="#0c0c0c"/>
<rect x="252" y="407" width="1" height="8" fill="#3a3a3a"/>
<rect x="253" y="407" width="8" height="8" fill="#000"/>
<rect x="261" y="407" width="1" height="8" fill="#1e1e1e"/>
<rect x="262" y="407" width="6" height="8" fill="#060606"/>
<rect x="268" y="407" width="1" height="8" fill="#262626"/>
<rect x="269" y="407" width="5" height="8" fill="#000"/>
<rect x="274" y="407" width="1" height="8" fill="#303030"/>
<rect x="275" y="407" width="6" height="8" fill="#0c0c0c"/>
<rect x="281" y="407" width="1" height="8" fill="#1e1e1e"/>
<rect x="282" y="407" width="5" height="8" fill="#000"/>
<rect x="287" y="407" width="1" height="8" fill="#3a3a3a"/>
<rect x="288" y="407" width="2" height="8" fill="#060606"/>
<rect x="290" y="407" width="1" height="8" fill="#3a3a3a"/>
<rect x="291" y="407" width="4" height="8" fill="#000"/>
<rect x="295" y="410" width="1" height="1" fill="#333"/>
<rect x="296" y="407" width="3" height="8" fill="#000"/>
<rect x="299" y="407" width="1" height="8" fill="#262626"/>
<rect x="300" y="407" width="3" height="8" fill="#000"/>
<rect x="303" y="409" width="7" height="1" fill="#444"/>
<rect x="303" y="412" width="7" height="1" fill="#444"/>
<rect x="310" y="407" width="5" height="8" fill="#060606"/>
<rect x="315" y="407" width="1" height="8" fill="#1e1e1e"/>
<rect x="316" y="407" width="5" height="8" fill="#060606"/>
<rect x="321" y="407" width="1" height="8" fill="#262626"/>
<rect x="322" y="407" width="5" height="8" fill="#000"/>
<rect x="327" y="407" width="1" height="8" fill="#303030"/>
<rect x="328" y="407" width="5" height="8" fill="#000"/>
<rect x="333" y="407" width="1" height="8" fill="#3a3a3a"/>
<rect x="334" y="407" width="4" height="8" fill="#000"/>
<rect x="338" y="407" width="1" height="8" fill="#3a3a3a"/>
<rect x="339" y="407" width="5" height="8" fill="#060606"/>
<rect x="344" y="407" width="1" height="8" fill="#3a3a3a"/>
<rect x="345" y="407" width="4" height="8" fill="#000"/>
<rect x="349" y="407" width="1" height="8" fill="#1e1e1e"/>
<rect x="350" y="407" width="2" height="8" fill="#000"/>
<rect x="353" y="407" width="3" height="8" fill="#000"/>
<rect x="356" y="407" width="1" height="8" fill="#303030"/>
<rect x="357" y="407" width="2" height="8" fill="#060606"/>
<rect x="359" y="407" width="1" height="8" fill="#262626"/>
<rect x="360" y="407" width="8" height="8" fill="#000"/>
<rect x="368" y="407" width="1" height="8" fill="#262626"/>
<rect x="369" y="407" width="2" height="8" fill="#0c0c0c"/>
<rect x="371" y="407" width="1" height="8" fill="#262626"/>
<rect x="372" y="407" width="4" height="8" fill="#000"/>
<rect x="376" y="407" width="1" height="8" fill="#1e1e1e"/>
<rect x="377" y="407" width="2" height="8" fill="#000"/>
<rect x="379" y="407" width="1" height="8" fill="#1e1e1e"/>
<rect x="380" y="407" width="4" height="8" fill="#000"/>
<rect x="384" y="407" width="1" height="8" fill="#303030"/>
<rect x="385" y="407" width="3" height="8" fill="#060606"/>
<rect x="388" y="407" width="1" height="8" fill="#303030"/>
<rect x="389" y="407" width="8" height="8" fill="#060606"/>
<rect x="397" y="407" width="1" height="8" fill="#1e1e1e"/>
<rect x="398" y="407" width="5" height="8" fill="#060606"/>
<rect x="403" y="407" width="1" height="8" fill="#3a3a3a"/>
<rect x="404" y="407" width="5" height="8" fill="#000"/>
<rect x="409" y="407" width="1" height="8" fill="#262626"/>
<rect x="410" y="407" width="4" height="8" fill="#0c0c0c"/>
<rect x="414" y="407" width="1" height="8" fill="#1e1e1e"/>
<rect x="415" y="407" width="5" height="8" fill="#000"/>
<rect x="420" y="407" width="1" height="8" fill="#1e1e1e"/>
<rect x="421" y="407" width="2" height="8" fill="#060606"/>
<rect x="423" y="407" width="1" height="8" fill="#303030"/>
<rect x="424" y="407" width="6" height="8" fill="#0c0c0c"/>
<rect x="430" y="407" width="1" height="8" fill="#262626"/>
<rect x="431" y="407" width="3" height="8" fill="#000"/>
<rect x="434" y="407" width="1" height="8" fill="#3a3a3a"/>
<rect x="435" y="407" width="2" height="8" fill="#000"/>
<rect x="437" y="407" width="1" height="8" fill="#f5f5b4"/>
<rect x="438" y="407" width="8" height="8" fill="#000"/>
<rect x="446" y="407" width="1" height="8" fill="#3a3a3a"/>
<rect x="447" y="407" width="8" height="8" fill="#0c0c0c"/>
<rect x="455" y="407" width="1" height="8" fill="#303030"/>
<rect x="456" y="407" width="8" height="8" fill="#0c0c0c"/>
<rect x="464" y="407" width="1" height="8" fill="#303030"/>
<rect x="465" y="407" width="5" height="8" fill="#000"/>
<rect x="470" y="407" width="1" height="8" fill="#aaa"/>
<rect x="471" y="407" width="5" height="8" fill="#060606"/>
<rect x="476" y="407" width="1" height="8" fill="#3a3a3a"/>
<rect x="477" y="407" width="2" height="8" fill="#060606"/>
<rect x="479" y="407" width="1" height="8" fill="#303030"/>
<rect x="480" y="407" width="3" height="8" fill="#000"/>
<rect x="483" y="407" width="1" height="8" fill="#1e1e1e"/>
<rect x="484" y="407" width="2" height="8" fill="#000"/>
<rect x="486" y="407" width="1" height="8" fill="#1e1e1e"/>
<rect x="487" y="407" width="4" height="8" fill="#000"/>
<rect x="491" y="407" width="1" height="8" fill="#3a3a3a"/>
<rect x="492" y="407" width="5" height="8" fill="#f5f5b4"/>
<rect x="497" y="407" width="6" height="8" fill="#060606"/>
<rect x="503" y="407" width="1" height="8" fill="#303030"/>
<rect x="504" y="407" width="2" height="8" fill="#000"/>
<rect x="506" y="407" width="1" height="8" fill="#303030"/>
<rect x="507" y="407" width="6" height="8" fill="#0c0c0c"/>
<rect x="513" y="407" width="1" height="8" fill="#303030"/>
<rect x="514" y="407" width="8" height="8" fill="#000"/>
<rect x="522" y="407" width="1" height="8" fill="#3a3a3a"/>
<rect x="523" y="407" width="3" height="8" fill="#060606"/>
<rect x="526" y="407" width="1" height="8" fill="#262626"/>
<rect x="527" y="407" width="3" height="8" fill="#0c0c0c"/>
<rect x="530" y="407" width="1" height="8" fill="#303030"/>
<rect x="531" y="407" width="5" height="8" fill="#000"/>
<rect x="536" y="407" width="1" height="8" fill="#3a3a3a"/>
<rect x="537" y="407" width="4" height="8" fill="#0c0c0c"/>
<rect x="541" y="407" width="1" height="8" fill="#262626"/>
<rect x="542" y="407" width="4" height="8" fill="#0c0c0c"/>
<rect x="546" y="407" width="1" height="8" fill="#1e1e1e"/>
<rect x="547" y="407" width="2" height="8" fill="#000"/>
<rect x="549" y="407" width="1" height="8" fill="#303030"/>
<rect x="550" y="407" width="4" height="8" fill="#000"/>
<rect x="554" y="407" width="1" height="8" fill="#1e1e1e"/>
<rect x="555" y="407" width="5" height="8" fill="#000"/>
<rect x="560" y="409" width="2" height="1" fill="#444"/>
<rect x="560" y="412" width="2" height="1" fill="#444"/>
<rect x="562" y="407" width="4" height="8" fill="#000"/>
<rect x="566" y="407" width="1" height="8" fill="#3a3a3a"/>
<rect x="567" y="407" width="6" height="8" fill="#060606"/>
<rect x="573" y="407" width="1" height="8" fill="#3a3a3a"/>
<rect x="574" y="407" width="6" height="8" fill="#000"/>
<rect x="580" y="407" width="1" height="8" fill="#262626"/>
<rect x="581" y="407" width="8" height="8" fill="#000"/>
<rect x="589" y="407" width="1" height="8" fill="#262626"/>
<rect x="590" y="407" width="2" height="8" fill="#000"/>
<rect x="592" y="407" width="4" height="8" fill="#f5f5b4"/>
<rect x="596" y="407" width="3" height="8" fill="#000"/>
<rect x="599" y="407" width="2" height="8" fill="#060606"/>
<rect x="601" y="407" width="2" height="8" fill="#f5f5b4"/>
<rect x="603" y="407" width="6" height="8" fill="#060606"/>
<rect x="609" y="407" width="1" height="8" fill="#1e1e1e"/>
<rect x="610" y="407" width="4" height="8" fill="#060606"/>
<rect x="614" y="407" width="1" height="8" fill="#262626"/>
<rect x="615" y="407" width="4" height="8" fill="#000"/>
<text x="114.5" y="423.3" fill="#006400" stroke="#006400" text-anchor="end" textLength="29.5" lengthAdjust="spacingAndGlyphs">Mouse</text>
<rect x="118" y="416" width="1" height="8" fill="#888"/>
<rect x="119" y="416" width="1" height="8" fill="#aaa"/>
<rect x="120" y="416" width="1" height="8" fill="#909090"/>
<rect x="121" y="416" width="1" height="8" fill="#888"/>
<rect x="122" y="416" width="2" height="8" fill="#777"/>
<rect x="124" y="416" width="2" height="8" fill="#4c4c4c"/>
<rect x="126" y="416" width="2" height="8" fill="#666"/>
<rect x="128" y="416" width="2" height="8" fill="#3c3c3c"/>
<rect x="130" y="416" width="2" height="8" fill="#5a5a5a"/>
<rect x="132" y="416" width="2" height="8" fill="#6e6e6e"/>
<rect x="134" y="416" width="2" height="8" fill="#888"/>
<rect x="136" y="416" width="1" height="8" fill="#4c4c4c"/>
<rect x="137" y="416" width="1" height="8" fill="#6e6e6e"/>
<rect x="138" y="416" width="1" height="8" fill="#3c3c3c"/>
<rect x="139" y="416" width="1" height="8" fill="#666"/>
<rect x="140" y="416" width="2" height="8" fill="#000"/>
<rect x="142" y="416" width="1" height="8" fill="#444"/>
<rect x="143" y="416" width="1" height="8" fill="#333"/>
<rect x="144" y="416" width="1" height="8" fill="#333"/>
<rect x="145" y="416" width="1" height="8" fill="#585858"/>
<rect x="146" y="416" width="2" height="8" fill="#4c4c4c"/>
<rect x="148" y="416" width="2" height="8" fill="#585858"/>
<rect x="150" y="416" width="1" height="8" fill="#3c3c3c"/>
<rect x="151" y="416" width="1" height="8" fill="#585858"/>
<rect x="152" y="416" width="1" height="8" fill="#bbb"/>
<rect x="153" y="416" width="1" height="8" fill="#aaa"/>
<rect x="154" y="416" width="2" height="8" fill="#333"/>
<rect x="156" y="416" width="2" height="8" fill="#3c3c3c"/>
<rect x="158" y="416" width="2" height="8" fill="#444"/>
<rect x="160" y="416" width="2" height="8" fill="#2a2a2a"/>
<rect x="162" y="416" width="2" height="8" fill="#585858"/>
<rect x="164" y="416" width="2" height="8" fill="#4c4c4c"/>
<rect x="166" y="416" width="2" height="8" fill="#3c3c3c"/>
<rect x="168" y="416" width="1" height="8" fill="#585858"/>
<rect x="169" y="416" width="2" height="8" fill="#3c3c3c"/>
<rect x="171" y="416" width="1" height="8" fill="#4c4c4c"/>
<rect x="172" y="418" width="1" height="1" fill="#444"/>
<rect x="172" y="421" width="1" height="1" fill="#444"/>
<rect x="173" y="416" width="1" height="8" fill="#888"/>
<rect x="174" y="416" width="2" height="8" fill="#888"/>
<rect x="176" y="416" width="1" height="8" fill="#3c3c3c"/>
<rect x="177" y="416" width="1" height="8" fill="#777"/>
<rect x="178" y="418" width="1" height="1" fill="#444"/>
<rect x="178" y="421" width="1" height="1" fill="#444"/>
<rect x="179" y="416" width="2" height="8" fill="#bbb"/>
<rect x="181" y="416" width="1" height="8" fill="#909090"/>
<rect x="182" y="416" width="1" height="8" fill="#888"/>
<rect x="183" y="416" width="1" height="8" fill="#111"/>
<rect x="184" y="416" width="1" height="8" fill="#222"/>
<rect x="185" y="416" width="1" height="8" fill="#111"/>
<rect x="186" y="416" width="1" height="8" fill="#444"/>
<rect x="187" y="416" width="1" height="8" fill="#666"/>
<rect x="188" y="416" width="1" height="8" fill="#777"/>
<rect x="189" y="416" width="1" height="8" fill="#4c4c4c"/>
<rect x="190" y="416" width="1" height="8" fill="#4c4c4c"/>
<rect x="191" y="416" width="1" height="8" fill="#5a5a5a"/>
<rect x="192" y="416" width="1" height="8" fill="#666"/>
<rect x="193" y="416" width="1" height="8" fill="#4c4c4c"/>
<rect x="194" y="416" width="1" height="8" fill="#555"/>
<rect x="195" y="416" width="1" height="8" fill="#4c4c4c"/>
<rect x="196" y="416" width="1" height="8" fill="#4c4c4c"/>
<rect x="197" y="416" width="1" height="8" fill="#888"/>
<rect x="198" y="416" width="1" height="8" fill="#666"/>
<rect x="199" y="416" width="1" height="8" fill="#4c4c4c"/>
<rect x="200" y="416" width="2" height="8" fill="#4c4c4c"/>
<rect x="202" y="416" width="1" height="8" fill="#666"/>
<rect x="203" y="416" width="1" height="8" fill="#4c4c4c"/>
<rect x="204" y="416" width="1" height="8" fill="#555"/>
<rect x="205" y="416" width="1" height="8" fill="#5a5a5a"/>
<rect x="206" y="416" width="2" height="8" fill="#4c4c4c"/>
<rect x="208" y="416" width="1" height="8" fill="#6e6e6e"/>
<rect x="209" y="416" width="2" height="8" fill="#4c4c4c"/>
<rect x="211" y="416" width="1" height="8" fill="#3c3c3c"/>
<rect x="212" y="416" width="1" height="8" fill="#909090"/>
<rect x="213" y="418" width="2" height="1" fill="#444"/>
<rect x="213" y="421" width="2" height="1" fill="#444"/>
<rect x="215" y="416" width="1" height="8" fill="#3c3c3c"/>
<rect x="216" y="416" width="1" height="8" fill="#222"/>
<rect x="217" y="416" width="1" height="8" fill="#222"/>
<rect x="218" y="416" width="1" height="8" fill="#3c3c3c"/>
<rect x="219" y="416" width="2" height="8" fill="#0c0c0c"/>
<rect x="222" y="416" width="2" height="8" fill="#5a5a5a"/>
<rect x="224" y="416" width="1" height="8" fill="#5a5a5a"/>
<rect x="225" y="416" width="1" height="8" fill="#888"/>
<rect x="226" y="416" width="2" height="8" fill="#3c3c3c"/>
<rect x="228" y="416" width="1" height="8" fill="#666"/>
<rect x="229" y="416" width="1" height="8" fill="#888"/>
<rect x="230" y="416" width="1" height="8" fill="#666"/>
<rect x="231" y="416" width="1" height="8" fill="#666"/>
<rect x="232" y="416" width="1" height="8" fill="#6e6e6e"/>
<rect x="233" y="416" width="1" height="8" fill="#4c4c4c"/>
<rect x="234" y="416" width="1" height="8" fill="#777"/>
<rect x="235" y="416" width="2" height="8" fill="#555"/>
<rect x="237" y="416" width="1" height="8" fill="#555"/>
<rect x="238" y="416" width="2" height="8" fill="#777"/>
<rect x="240" y="418" width="2" height="1" fill="#444"/>
<rect x="240" y="421" width="2" height="1" fill="#444"/>
<rect x="242" y="416" width="2" height="8" fill="#4c4c4c"/>
<rect x="244" y="416" width="1" height="8" fill="#1a1a1a"/>
<rect x="245" y="416" width="1" height="8" fill="#585858"/>
<rect x="246" y="416" width="1" height="8" fill="#333"/>
<rect x="247" y="416" width="1" height="8" fill="#1a1a1a"/>
<rect x="248" y="416" width="2" height="8" fill="#333"/>
<rect x="250" y="416" width="1" height="8" fill="#585858"/>
<rect x="251" y="416" width="1" height="8" fill="#999"/>
<rect x="252" y="418" width="1" height="1" fill="#444"/>
<rect x="252" y="421" width="1" height="1" fill="#444"/>
<rect x="253" y="416" width="1" height="8" fill="#555"/>
<rect x="254" y="416" width="1" height="8" fill="#666"/>
<rect x="255" y="416" width="1" height="8" fill="#555"/>
<rect x="256" y="416" width="1" height="8" fill="#4c4c4c"/>
<rect x="257" y="416" width="2" height="8" fill="#6e6e6e"/>
<rect x="259" y="416" width="2" height="8" fill="#888"/>
<rect x="261" y="416" width="2" height="8" fill="#3c3c3c"/>
<rect x="263" y="416" width="1" height="8" fill="#777"/>
<rect x="264" y="416" width="2" height="8" fill="#3c3c3c"/>
<rect x="266" y="416" width="2" height="8" fill="#888"/>
<rect x="268" y="416" width="2" height="8" fill="#bbb"/>
<rect x="270" y="416" width="1" height="8" fill="#777"/>
<rect x="271" y="416" width="2" height="8" fill="#333"/>
<rect x="273" y="416" width="1" height="8" fill="#3c3c3c"/>
<rect x="274" y="416" width="1" height="8" fill="#111"/>
<rect x="275" y="416" width="2" height="8" fill="#222"/>
<rect x="277" y="416" width="1" height="8" fill="#4c4c4c"/>
<rect x="278" y="416" width="3" height="8" fill="#060606"/>
<rect x="281" y="416" width="1" height="8" fill="#111"/>
<rect x="282" y="416" width="2" height="8" fill="#222"/>
<rect x="284" y="416" width="1" height="8" fill="#2a2a2a"/>
<rect x="285" y="416" width="1" height="8" fill="#909090"/>
<rect x="286" y="416" width="1" height="8" fill="#3c3c3c"/>
<rect x="287" y="418" width="2" height="1" fill="#444"/>
<rect x="287" y="421" width="2" height="1" fill="#444"/>
<rect x="289" y="416" width="1" height="8" fill="#1a1a1a"/>
<rect x="291" y="416" width="2" height="8" fill="#3c3c3c"/>
<rect x="293" y="416" width="1" height="8" fill="#222"/>
<rect x="294" y="419" width="2" height="1" fill="#333"/>
<rect x="296" y="416" width="2" height="8" fill="#060606"/>
<rect x="298" y="416" width="1" height="8" fill="#060606"/>
<rect x="299" y="416" width="1" height="8" fill="#909090"/>
<rect x="300" y="416" width="1" height="8" fill="#999"/>
<rect x="301" y="416" width="1" height="8" fill="#999"/>
<rect x="302" y="416" width="1" height="8" fill="#4c4c4c"/>
<rect x="303" y="416" width="1" height="8" fill="#909090"/>
<rect x="304" y="416" width="1" height="8" fill="#333"/>
<rect x="305" y="419" width="5" height="1" fill="#333"/>
<rect x="310" y="416" width="1" height="8" fill="#3c3c3c"/>
<rect x="311" y="416" width="1" height="8" fill="#888"/>
<rect x="312" y="416" width="1" height="8" fill="#555"/>
<rect x="313" y="416" width="1" height="8" fill="#5a5a5a"/>
<rect x="314" y="416" width="2" height="8" fill="#777"/>
<rect x="316" y="416" width="1" height="8" fill="#4c4c4c"/>
<rect x="317" y="416" width="2" height="8" fill="#6e6e6e"/>
<rect x="319" y="416" width="1" height="8" fill="#6e6e6e"/>
<rect x="320" y="416" width="1" height="8" fill="#5a5a5a"/>
<rect x="321" y="416" width="2" height="8" fill="#666"/>
<rect x="324" y="416" width="1" height="8" fill="#2a2a2a"/>
<rect x="325" y="416" width="2" height="8" fill="#585858"/>
<rect x="327" y="416" width="2" height="8" fill="#1a1a1a"/>
<rect x="329" y="416" width="2" height="8" fill="#2a2a2a"/>
<rect x="331" y="416" width="2" height="8" fill="#444"/>
<rect x="333" y="416" width="1" height="8" fill="#3c3c3c"/>
<rect x="334" y="416" width="2" height="8" fill="#2a2a2a"/>
<rect x="336" y="416" width="1" height="8" fill="#1a1a1a"/>
<rect x="337" y="418" width="2" height="1" fill="#444"/>
<rect x="337" y="421" width="2" height="1" fill="#444"/>
<rect x="339" y="416" width="1" height="8" fill="#555"/>
<rect x="340" y="416" width="1" height="8" fill="#5a5a5a"/>
<rect x="341" y="416" width="1" height="8" fill="#666"/>
<rect x="342" y="416" width="2" height="8" fill="#555"/>
<rect x="344" y="416" width="1" height="8" fill="#4c4c4c"/>
<rect x="345" y="416" width="1" height="8" fill="#888"/>
<rect x="347" y="416" width="2" height="8" fill="#777"/>
<rect x="349" y="416" width="1" height="8" fill="#6e6e6e"/>
<rect x="350" y="416" width="1" height="8" fill="#888"/>
<rect x="351" y="416" width="1" height="8" fill="#666"/>
<rect x="352" y="416" width="1" height="8" fill="#3c3c3c"/>
<rect x="353" y="416" width="1" height="8" fill="#aaa"/>
<rect x="354" y="416" width="1" height="8" fill="#999"/>
<rect x="355" y="416" width="2" height="8" fill="#888"/>
<rect x="357" y="416" width="1" height="8" fill="#666"/>
<rect x="358" y="416" width="2" height="8" fill="#777"/>
<rect x="360" y="416" width="2" height="8" fill="#5a5a5a"/>
<rect x="362" y="416" width="2" height="8" fill="#666"/>
<rect x="364" y="416" width="2" height="8" fill="#6e6e6e"/>
<rect x="366" y="416" width="1" height="8" fill="#3c3c3c"/>
<rect x="367" y="416" width="1" height="8" fill="#3c3c3c"/>
<rect x="368" y="416" width="2" height="8" fill="#4c4c4c"/>
<rect x="371" y="416" width="2" height="8" fill="#2a2a2a"/>
<rect x="373" y="416" width="2" height="8" fill="#2a2a2a"/>
<rect x="375" y="416" width="2" height="8" fill="#3c3c3c"/>
<rect x="377" y="416" width="1" height="8" fill="#585858"/>
<rect x="378" y="416" width="1" height="8" fill="#222"/>
<rect x="379" y="416" width="1" height="8" fill="#585858"/>
<rect x="380" y="416" width="2" height="8" fill="#444"/>
<rect x="382" y="416" width="2" height="8" fill="#1a1a1a"/>
<rect x="384" y="416" width="1" height="8" fill="#5a5a5a"/>
<rect x="385" y="416" width="2" height="8" fill="#6e6e6e"/>
<rect x="387" y="416" width="1" height="8" fill="#555"/>
<rect x="388" y="416" width="1" height="8" fill="#3c3c3c"/>
<rect x="389" y="416" width="1" height="8" fill="#1a1a1a"/>
<rect x="390" y="416" width="1" height="8" fill="#222"/>
<rect x="391" y="416" width="2" height="8" fill="#585858"/>
<rect x="393" y="416" width="1" height="8" fill="#2a2a2a"/>
<rect x="394" y="416" width="1" height="8" fill="#444"/>
<rect x="395" y="416" width="1" height="8" fill="#bbb"/>
<rect x="396" y="416" width="1" height="8" fill="#111"/>
<rect x="397" y="416" width="2" height="8" fill="#1a1a1a"/>
<rect x="399" y="416" width="2" height="8" fill="#2a2a2a"/>
<rect x="401" y="416" width="2" height="8" fill="#333"/>
<rect x="403" y="416" width="2" height="8" fill="#444"/>
<rect x="405" y="416" width="1" height="8" fill="#4c4c4c"/>
<rect x="406" y="416" width="1" height="8" fill="#3c3c3c"/>
<rect x="407" y="416" width="2" height="8" fill="#222"/>
<rect x="409" y="416" width="2" height="8" fill="#3c3c3c"/>
<rect x="411" y="416" width="1" height="8" fill="#3c3c3c"/>
<rect x="412" y="416" width="1" height="8" fill="#585858"/>
<rect x="413" y="416" width="2" height="8" fill="#111"/>
<rect x="415" y="416" width="1" height="8" fill="#4c4c4c"/>
<rect x="416" y="416" width="1" height="8" fill="#777"/>
<rect x="417" y="416" width="1" height="8" fill="#909090"/>
<rect x="418" y="416" width="1" height="8" fill="#4c4c4c"/>
<rect x="419" y="416" width="1" height="8" fill="#6e6e6e"/>
<rect x="420" y="416" width="2" height="8" fill="#6e6e6e"/>
<rect x="422" y="416" width="1" height="8" fill="#666"/>
<rect x="423" y="416" width="1" height="8" fill="#888"/>
<rect x="424" y="416" width="2" height="8" fill="#6e6e6e"/>
<rect x="426" y="416" width="1" height="8" fill="#4c4c4c"/>
<rect x="427" y="416" width="1" height="8" fill="#585858"/>
<rect x="428" y="416" width="2" height="8" fill="#3c3c3c"/>
<rect x="430" y="416" width="1" height="8" fill="#2a2a2a"/>
<rect x="431" y="416" width="2" height="8" fill="#333"/>
<rect x="433" y="416" width="2" height="8" fill="#585858"/>
<rect x="435" y="416" width="1" height="8" fill="#222"/>
<rect x="436" y="416" width="1" height="8" fill="#4c4c4c"/>
<rect x="437" y="416" width="1" height="8" fill="#4c4c4c"/>
<rect x="438" y="416" width="1" height="8" fill="#1a1a1a"/>
<rect x="439" y="416" width="2" height="8" fill="#222"/>
<rect x="441" y="416" width="2" height="8" fill="#444"/>
<rect x="443" y="416" width="2" height="8" fill="#585858"/>
<rect x="445" y="416" width="1" height="8" fill="#585858"/>
<rect x="446" y="416" width="1" height="8" fill="#2a2a2a"/>
<rect x="447" y="416" width="1" height="8" fill="#444"/>
<rect x="448" y="416" width="2" height="8" fill="#585858"/>
<rect x="450" y="416" width="1" height="8" fill="#585858"/>
<rect x="451" y="416" width="1" height="8" fill="#111"/>
<rect x="452" y="416" width="1" height="8" fill="#222"/>
<rect x="453" y="416" width="1" height="8" fill="#4c4c4c"/>
<rect x="454" y="416" width="1" height="8" fill="#ccc"/>
<rect x="455" y="416" width="1" height="8" fill="#4c4c4c"/>
<rect x="456" y="416" width="1" height="8" fill="#222"/>
<rect x="457" y="416" width="1" height="8" fill="#3c3c3c"/>
<rect x="458" y="416" width="1" height="8" fill="#333"/>
<rect x="459" y="416" width="2" height="8" fill="#3c3c3c"/>
<rect x="461" y="416" width="1" height="8" fill="#3c3c3c"/>
<rect x="462" y="416" width="1" height="8" fill="#3c3c3c"/>
<rect x="463" y="416" width="1" height="8" fill="#2a2a2a"/>
<rect x="464" y="416" width="3" height="8" fill="#000"/>
<rect x="468" y="416" width="1" height="8" fill="#444"/>
<rect x="469" y="416" width="2" height="8" fill="#444"/>
<rect x="471" y="416" width="1" height="8" fill="#333"/>
<rect x="472" y="416" width="1" height="8" fill="#333"/>
<rect x="473" y="416" width="1" height="8" fill="#444"/>
<rect x="474" y="416" width="1" height="8" fill="#585858"/>
<rect x="475" y="416" width="1" height="8" fill="#1a1a1a"/>
<rect x="476" y="416" width="1" height="8" fill="#aaa"/>
<rect x="477" y="416" width="2" height="8" fill="#bbb"/>
<rect x="480" y="416" width="2" height="8" fill="#5a5a5a"/>
<rect x="482" y="416" width="2" height="8" fill="#888"/>
<rect x="484" y="416" width="2" height="8" fill="#555"/>
<rect x="486" y="416" width="1" height="8" fill="#888"/>
<rect x="487" y="416" width="2" height="8" fill="#6e6e6e"/>
<rect x="489" y="416" width="1" height="8" fill="#888"/>
<rect x="490" y="416" width="1" height="8" fill="#6e6e6e"/>
<rect x="491" y="416" width="2" height="8" fill="#555"/>
<rect x="493" y="416" width="1" height="8" fill="#5a5a5a"/>
<rect x="494" y="416" width="2" height="8" fill="#666"/>
<rect x="496" y="416" width="1" height="8" fill="#555"/>
<rect x="497" y="416" width="1" height="8" fill="#666"/>
<rect x="498" y="416" width="1" height="8" fill="#222"/>
<rect x="499" y="416" width="2" height="8" fill="#111"/>
<rect x="501" y="416" width="2" height="8" fill="#4c4c4c"/>
<rect x="503" y="416" width="1" height="8" fill="#1a1a1a"/>
<rect x="504" y="416" width="1" height="8" fill="#ccc"/>
<rect x="505" y="416" width="2" height="8" fill="#2a2a2a"/>
<rect x="507" y="416" width="2" height="8" fill="#333"/>
<rect x="509" y="416" width="1" height="8" fill="#4c4c4c"/>
<rect x="510" y="416" width="1" height="8" fill="#3c3c3c"/>
<rect x="511" y="416" width="1" height="8" fill="#333"/>
<rect x="512" y="416" width="1" height="8" fill="#4c4c4c"/>
<rect x="513" y="416" width="1" height="8" fill="#333"/>
<rect x="514" y="416" width="1" height="8" fill="#4c4c4c"/>
<rect x="515" y="416" width="1" height="8" fill="#555"/>
<rect x="516" y="416" width="1" height="8" fill="#777"/>
<rect x="517" y="416" width="1" height="8" fill="#777"/>
<rect x="518" y="416" width="1" height="8" fill="#4c4c4c"/>
<rect x="519" y="416" width="1" height="8" fill="#4c4c4c"/>
<rect x="520" y="416" width="2" height="8" fill="#111"/>
<rect x="522" y="416" width="1" height="8" fill="#333"/>
<rect x="523" y="418" width="2" height="1" fill="#444"/>
<rect x="523" y="421" width="2" height="1" fill="#444"/>
<rect x="525" y="416" width="1" height="8" fill="#3c3c3c"/>
<rect x="526" y="416" width="2" height="8" fill="#888"/>
<rect x="528" y="416" width="1" height="8" fill="#5a5a5a"/>
<rect x="529" y="416" width="2" height="8" fill="#555"/>
<rect x="531" y="416" width="1" height="8" fill="#3c3c3c"/>
<rect x="532" y="416" width="1" height="8" fill="#4c4c4c"/>
<rect x="533" y="416" width="2" height="8" fill="#6e6e6e"/>
<rect x="535" y="416" width="2" height="8" fill="#5a5a5a"/>
<rect x="537" y="416" width="3" height="8" fill="#000"/>
<rect x="540" y="416" width="2" height="8" fill="#6e6e6e"/>
<rect x="542" y="416" width="2" height="8" fill="#6e6e6e"/>
<rect x="544" y="416" width="1" height="8" fill="#3c3c3c"/>
<rect x="545" y="416" width="2" height="8" fill="#6e6e6e"/>
<rect x="547" y="416" width="1" height="8" fill="#555"/>
<rect x="548" y="416" width="2" height="8" fill="#666"/>
<rect x="550" y="416" width="1" height="8" fill="#666"/>
<rect x="551" y="416" width="1" height="8" fill="#1a1a1a"/>
<rect x="552" y="416" width="1" height="8" fill="#3c3c3c"/>
<rect x="553" y="416" width="1" height="8" fill="#2a2a2a"/>
<rect x="554" y="416" width="1" height="8" fill="#4c4c4c"/>
<rect x="555" y="416" width="1" height="8" fill="#333"/>
<rect x="556" y="416" width="1" height="8" fill="#333"/>
<rect x="557" y="416" width="2" height="8" fill="#222"/>
<rect x="559" y="416" width="1" height="8" fill="#3c3c3c"/>
<rect x="560" y="416" width="1" height="8" fill="#3c3c3c"/>
<rect x="561" y="416" width="1" height="8" fill="#222"/>
<rect x="562" y="416" width="2" height="8" fill="#333"/>
<rect x="564" y="416" width="2" height="8" fill="#111"/>
<rect x="566" y="416" width="1" height="8" fill="#585858"/>
<rect x="567" y="416" width="2" height="8" fill="#111"/>
<rect x="569" y="418" width="17" height="1" fill="#444"/>
<rect x="569" y="421" width="17" height="1" fill="#444"/>
<rect x="586" y="416" width="1" height="8" fill="#777"/>
<rect x="587" y="416" width="2" height="8" fill="#4c4c4c"/>
<rect x="589" y="416" width="2" height="8" fill="#5a5a5a"/>
<rect x="591" y="416" width="2" height="8" fill="#777"/>
<rect x="593" y="416" width="1" height="8" fill="#5a5a5a"/>
<rect x="594" y="416" width="2" height="8" fill="#4c4c4c"/>
<rect x="596" y="416" width="1" height="8" fill="#555"/>
<rect x="597" y="416" width="1" height="8" fill="#555"/>
<rect x="598" y="416" width="2" height="8" fill="#777"/>
<rect x="600" y="416" width="1" height="8" fill="#444"/>
<rect x="601" y="416" width="2" height="8" fill="#4c4c4c"/>
<rect x="603" y="416" width="1" height="8" fill="#1a1a1a"/>
<rect x="604" y="416" width="2" height="8" fill="#666"/>
<rect x="606" y="416" width="2" height="8" fill="#555"/>
<rect x="608" y="416" width="1" height="8" fill="#777"/>
<rect x="609" y="416" width="1" height="8" fill="#3c3c3c"/>
<rect x="610" y="416" width="1" height="8" fill="#888"/>
<rect x="611" y="416" width="1" height="8" fill="#3c3c3c"/>
<rect x="612" y="416" width="1" height="8" fill="#3c3c3c"/>
<rect x="613" y="416" width="1" height="8" fill="#3c3c3c"/>
<rect x="614" y="416" width="1" height="8" fill="#888"/>
<rect x="615" y="416" width="1" height="8" fill="#555"/>
<rect x="616" y="416" width="1" height="8" fill="#888"/>
<rect x="618" y="416" width="1" height="8" fill="#0c0c0c"/>
<text x="114.5" y="432.3" fill="#006400" stroke="#006400" text-anchor="end" textLength="17.5" lengthAdjust="spacingAndGlyphs">Dog</text>
<rect x="118" y="425" width="1" height="8" fill="#585858"/>
<rect x="119" y="427" width="1" height="1" fill="#444"/>
<rect x="119" y="430" width="1" height="1" fill="#444"/>
<rect x="120" y="425" width="1" height="8" fill="#4c4c4c"/>
<rect x="121" y="425" width="2" height="8" fill="#3c3c3c"/>
<rect x="123" y="425" width="2" height="8" fill="#222"/>
<rect x="125" y="425" width="2" height="8" fill="#111"/>
<rect x="127" y="425" width="2" height="8" fill="#2a2a2a"/>
<rect x="129" y="425" width="2" height="8" fill="#444"/>
<rect x="131" y="425" width="1" height="8" fill="#3c3c3c"/>
<rect x="132" y="425" width="2" height="8" fill="#585858"/>
<rect x="134" y="425" width="1" height="8" fill="#1a1a1a"/>
<rect x="135" y="427" width="1" height="1" fill="#444"/>
<rect x="135" y="430" width="1" height="1" fill="#444"/>
<rect x="136" y="425" width="1" height="8" fill="#999"/>
<rect x="137" y="425" width="1" height="8" fill="#585858"/>
<rect x="138" y="425" width="2" height="8" fill="#111"/>
<rect x="140" y="425" width="1" height="8" fill="#333"/>
<rect x="141" y="425" width="2" height="8" fill="#111"/>
<rect x="143" y="425" width="1" height="8" fill="#111"/>
<rect x="144" y="425" width="1" height="8" fill="#3c3c3c"/>
<rect x="145" y="425" width="2" height="8" fill="#1a1a1a"/>
<rect x="147" y="425" width="2" height="8" fill="#1a1a1a"/>
<rect x="149" y="425" width="2" height="8" fill="#3c3c3c"/>
<rect x="151" y="425" width="1" height="8" fill="#4c4c4c"/>
<rect x="152" y="425" width="1" height="8" fill="#111"/>
<rect x="153" y="425" width="1" height="8" fill="#3c3c3c"/>
<rect x="154" y="425" width="1" height="8" fill="#2a2a2a"/>
<rect x="155" y="425" width="2" height="8" fill="#2a2a2a"/>
<rect x="157" y="425" width="2" height="8" fill="#585858"/>
<rect x="159" y="425" width="2" height="8" fill="#4c4c4c"/>
<rect x="161" y="425" width="2" height="8" fill="#1a1a1a"/>
<rect x="163" y="425" width="2" height="8" fill="#444"/>
<rect x="165" y="425" width="1" height="8" fill="#111"/>
<rect x="166" y="425" width="1" height="8" fill="#333"/>
<rect x="167" y="425" width="1" height="8" fill="#585858"/>
<rect x="168" y="425" width="2" height="8" fill="#222"/>
<rect x="170" y="425" width="1" height="8" fill="#2a2a2a"/>
<rect x="171" y="425" width="1" height="8" fill="#222"/>
<rect x="172" y="427" width="1" height="1" fill="#444"/>
<rect x="172" y="430" width="1" height="1" fill="#444"/>
<rect x="173" y="425" width="1" height="8" fill="#3c3c3c"/>
<rect x="174" y="425" width="1" height="8" fill="#222"/>
<rect x="176" y="425" width="1" height="8" fill="#888"/>
<rect x="177" y="425" width="2" height="8" fill="#999"/>
<rect x="179" y="425" width="1" height="8" fill="#aaa"/>
<rect x="180" y="425" width="2" height="8" fill="#777"/>
<rect x="182" y="425" width="1" height="8" fill="#888"/>
<rect x="183" y="425" width="2" height="8" fill="#4c4c4c"/>
<rect x="185" y="425" width="2" height="8" fill="#5a5a5a"/>
<rect x="187" y="425" width="2" height="8" fill="#888"/>
<rect x="189" y="425" width="2" height="8" fill="#777"/>
<rect x="191" y="425" width="1" height="8" fill="#2a2a2a"/>
<rect x="192" y="428" width="2" height="1" fill="#333"/>
<rect x="194" y="425" width="1" height="8" fill="#222"/>
<rect x="195" y="425" width="1" height="8" fill="#585858"/>
<rect x="196" y="425" width="1" height="8" fill="#444"/>
<rect x="197" y="425" width="2" height="8" fill="#2a2a2a"/>
<rect x="199" y="425" width="2" height="8" fill="#2a2a2a"/>
<rect x="201" y="425" width="1" height="8" fill="#111"/>
<rect x="202" y="425" width="1" height="8" fill="#4c4c4c"/>
<rect x="203" y="425" width="1" height="8" fill="#333"/>
<rect x="204" y="427" width="2" height="1" fill="#444"/>
<rect x="204" y="430" width="2" height="1" fill="#444"/>
<rect x="206" y="425" width="2" height="8" fill="#1a1a1a"/>
<rect x="208" y="425" width="2" height="8" fill="#585858"/>
<rect x="210" y="425" width="2" height="8" fill="#585858"/>
<rect x="212" y="425" width="1" height="8" fill="#bbb"/>
<rect x="213" y="427" width="2" height="1" fill="#444"/>
<rect x="213" y="430" width="2" height="1" fill="#444"/>
<rect x="215" y="425" width="2" height="8" fill="#2a2a2a"/>
<rect x="217" y="425" width="2" height="8" fill="#444"/>
<rect x="219" y="427" width="3" height="1" fill="#444"/>
<rect x="219" y="430" width="3" height="1" fill="#444"/>
<rect x="222" y="425" width="1" height="8" fill="#1a1a1a"/>
<rect x="223" y="425" width="1" height="8" fill="#585858"/>
<rect x="224" y="425" width="1" height="8" fill="#585858"/>
<rect x="225" y="425" width="1" height="8" fill="#111"/>
<rect x="226" y="425" width="2" height="8" fill="#4c4c4c"/>
<rect x="228" y="425" width="1" height="8" fill="#1a1a1a"/>
<rect x="229" y="425" width="2" height="8" fill="#333"/>
<rect x="231" y="425" width="1" height="8" fill="#4c4c4c"/>
<rect x="232" y="425" width="2" height="8" fill="#4c4c4c"/>
<rect x="234" y="425" width="1" height="8" fill="#2a2a2a"/>
<rect x="235" y="425" width="2" height="8" fill="#111"/>
<rect x="237" y="425" width="2" height="8" fill="#111"/>
<rect x="239" y="425" width="1" height="8" fill="#4c4c4c"/>
<rect x="240" y="427" width="2" height="1" fill="#444"/>
<rect x="240" y="430" width="2" height="1" fill="#444"/>
<rect x="242" y="425" width="1" height="8" fill="#3c3c3c"/>
<rect x="243" y="425" width="1" height="8" fill="#4c4c4c"/>
<rect x="244" y="425" width="1" height="8" fill="#4c4c4c"/>
<rect x="245" y="425" width="1" height="8" fill="#4c4c4c"/>
<rect x="246" y="425" width="1" height="8" fill="#2a2a2a"/>
<rect x="247" y="425" width="1" height="8" fill="#1a1a1a"/>
<rect x="248" y="425" width="1" height="8" fill="#111"/>
<rect x="249" y="425" width="2" height="8" fill="#333"/>
<rect x="251" y="425" width="1" height="8" fill="#bbb"/>
<rect x="252" y="427" width="1" height="1" fill="#444"/>
<rect x="252" y="430" width="1" height="1" fill="#444"/>
<rect x="253" y="425" width="1" height="8" fill="#2a2a2a"/>
<rect x="254" y="425" width="1" height="8" fill="#4c4c4c"/>
<rect x="255" y="425" width="1" height="8" fill="#1a1a1a"/>
<rect x="256" y="425" width="1" height="8" fill="#222"/>
<rect x="257" y="425" width="2" height="8" fill="#4c4c4c"/>
<rect x="259" y="425" width="1" height="8" fill="#444"/>
<rect x="260" y="425" width="2" height="8" fill="#333"/>
<rect x="262" y="425" width="1" height="8" fill="#4c4c4c"/>
<rect x="263" y="425" width="1" height="8" fill="#3c3c3c"/>
<rect x="264" y="425" width="1" height="8" fill="#999"/>
<rect x="265" y="425" width="1" height="8" fill="#888"/>
<rect x="266" y="425" width="2" height="8" fill="#999"/>
<rect x="268" y="425" width="1" height="8" fill="#bbb"/>
<rect x="269" y="425" width="1" height="8" fill="#2a2a2a"/>
<rect x="270" y="425" width="1" height="8" fill="#222"/>
<rect x="271" y="425" width="2" height="8" fill="#4c4c4c"/>
<rect x="273" y="425" width="2" height="8" fill="#333"/>
<rect x="275" y="425" width="2" height="8" fill="#2a2a2a"/>
<rect x="277" y="425" width="2" height="8" fill="#2a2a2a"/>
<rect x="279" y="425" width="2" height="8" fill="#4c4c4c"/>
<rect x="281" y="425" width="2" height="8" fill="#2a2a2a"/>
<rect x="283" y="425" width="2" height="8" fill="#1a1a1a"/>
<rect x="285" y="425" width="1" height="8" fill="#1a1a1a"/>
<rect x="286" y="425" width="1" height="8" fill="#444"/>
<rect x="287" y="425" width="1" height="8" fill="#3c3c3c"/>
<rect x="288" y="427" width="2" height="1" fill="#444"/>
<rect x="288" y="430" width="2" height="1" fill="#444"/>
<rect x="290" y="425" width="2" height="8" fill="#3c3c3c"/>
<rect x="292" y="425" width="2" height="8" fill="#777"/>
<rect x="294" y="425" width="1" height="8" fill="#6e6e6e"/>
<rect x="295" y="425" width="2" height="8" fill="#888"/>
<rect x="297" y="425" width="2" height="8" fill="#5a5a5a"/>
<rect x="299" y="425" width="1" height="8" fill="#555"/>
<rect x="300" y="425" width="2" height="8" fill="#888"/>
<rect x="302" y="425" width="1" height="8" fill="#777"/>
<rect x="303" y="425" width="1" height="8" fill="#4c4c4c"/>
<rect x="304" y="425" width="2" height="8" fill="#777"/>
<rect x="306" y="427" width="4" height="1" fill="#444"/>
<rect x="306" y="430" width="4" height="1" fill="#444"/>
<rect x="310" y="425" width="2" height="8" fill="#4c4c4c"/>
<rect x="312" y="425" width="1" height="8" fill="#6e6e6e"/>
<rect x="313" y="425" width="1" height="8" fill="#666"/>
<rect x="314" y="425" width="2" height="8" fill="#888"/>
<rect x="316" y="425" width="1" height="8" fill="#4c4c4c"/>
<rect x="317" y="425" width="2" height="8" fill="#3c3c3c"/>
<rect x="319" y="425" width="1" height="8" fill="#555"/>
<rect x="320" y="425" width="1" height="8" fill="#666"/>
<rect x="321" y="425" width="1" height="8" fill="#6e6e6e"/>
<rect x="322" y="425" width="1" height="8" fill="#5a5a5a"/>
<rect x="323" y="425" width="1" height="8" fill="#777"/>
<rect x="324" y="425" width="1" height="8" fill="#555"/>
<rect x="325" y="425" width="1" height="8" fill="#777"/>
<rect x="326" y="425" width="1" height="8" fill="#666"/>
<rect x="327" y="425" width="1" height="8" fill="#6e6e6e"/>
<rect x="328" y="425" width="2" height="8" fill="#3c3c3c"/>
<rect x="330" y="425" width="1" height="8" fill="#888"/>
<rect x="331" y="427" width="2" height="1" fill="#444"/>
<rect x="331" y="430" width="2" height="1" fill="#444"/>
<rect x="333" y="425" width="1" height="8" fill="#888"/>
<rect x="334" y="425" width="2" height="8" fill="#3c3c3c"/>
<rect x="336" y="425" width="1" height="8" fill="#6e6e6e"/>
<rect x="337" y="425" width="1" height="8" fill="#4c4c4c"/>
<rect x="338" y="425" width="1" height="8" fill="#666"/>
<rect x="339" y="425" width="1" height="8" fill="#555"/>
<rect x="340" y="425" width="1" height="8" fill="#555"/>
<rect x="341" y="425" width="2" height="8" fill="#4c4c4c"/>
<rect x="343" y="425" width="1" height="8" fill="#6e6e6e"/>
<rect x="344" y="425" width="1" height="8" fill="#666"/>
<rect x="345" y="425" width="1" height="8" fill="#555"/>
<rect x="346" y="425" width="1" height="8" fill="#3c3c3c"/>
<rect x="347" y="425" width="2" height="8" fill="#888"/>
<rect x="349" y="425" width="1" height="8" fill="#888"/>
<rect x="350" y="425" width="1" height="8" fill="#5a5a5a"/>
<rect x="351" y="425" width="2" height="8" fill="#555"/>
<rect x="353" y="425" width="1" height="8" fill="#4c4c4c"/>
<rect x="354" y="425" width="2" height="8" fill="#555"/>
<rect x="356" y="425" width="2" height="8" fill="#333"/>
<rect x="358" y="425" width="1" height="8" fill="#4c4c4c"/>
<rect x="359" y="425" width="2" height="8" fill="#585858"/>
<rect x="361" y="425" width="2" height="8" fill="#111"/>
<rect x="363" y="425" width="2" height="8" fill="#1a1a1a"/>
<rect x="365" y="425" width="1" height="8" fill="#4c4c4c"/>
<rect x="366" y="425" width="2" height="8" fill="#4c4c4c"/>
<rect x="368" y="425" width="2" height="8" fill="#1a1a1a"/>
<rect x="370" y="425" width="1" height="8" fill="#111"/>
<rect x="372" y="425" width="1" height="8" fill="#444"/>
<rect x="373" y="425" width="2" height="8" fill="#2a2a2a"/>
<rect x="375" y="425" width="2" height="8" fill="#222"/>
<rect x="377" y="425" width="2" height="8" fill="#444"/>
<rect x="379" y="425" width="2" height="8" fill="#333"/>
<rect x="381" y="425" width="1" height="8" fill="#4c4c4c"/>
<rect x="382" y="425" width="1" height="8" fill="#585858"/>
<rect x="383" y="425" width="1" height="8" fill="#222"/>
<rect x="384" y="425" width="2" height="8" fill="#222"/>
<rect x="386" y="425" width="2" height="8" fill="#1a1a1a"/>
<rect x="388" y="425" width="1" height="8" fill="#4c4c4c"/>
<rect x="389" y="425" width="2" height="8" fill="#585858"/>
<rect x="391" y="425" width="1" height="8" fill="#111"/>
<rect x="392" y="425" width="2" height="8" fill="#333"/>
<rect x="394" y="425" width="1" height="8" fill="#1a1a1a"/>
<rect x="395" y="425" width="1" height="8" fill="#585858"/>
<rect x="396" y="425" width="1" height="8" fill="#222"/>
<rect x="397" y="425" width="2" height="8" fill="#333"/>
<rect x="400" y="425" width="1" height="8" fill="#4c4c4c"/>
<rect x="401" y="425" width="1" height="8" fill="#111"/>
<rect x="402" y="425" width="1" height="8" fill="#3c3c3c"/>
<rect x="403" y="425" width="1" height="8" fill="#2a2a2a"/>
<rect x="404" y="425" width="1" height="8" fill="#111"/>
<rect x="405" y="425" width="2" height="8" fill="#585858"/>
<rect x="407" y="425" width="2" height="8" fill="#444"/>
<rect x="409" y="425" width="1" height="8" fill="#585858"/>
<rect x="410" y="425" width="1" height="8" fill="#585858"/>
<rect x="411" y="425" width="1" height="8" fill="#585858"/>
<rect x="412" y="425" width="1" height="8" fill="#333"/>
<rect x="413" y="425" width="1" height="8" fill="#444"/>
<rect x="414" y="425" width="1" height="8" fill="#444"/>
<rect x="415" y="425" width="2" height="8" fill="#1a1a1a"/>
<rect x="417" y="425" width="1" height="8" fill="#4c4c4c"/>
<rect x="418" y="425" width="1" height="8" fill="#1a1a1a"/>
<rect x="419" y="425" width="1" height="8" fill="#bbb"/>
<rect x="420" y="425" width="1" height="8" fill="#888"/>
<rect x="421" y="425" width="2" height="8" fill="#585858"/>
<rect x="423" y="425" width="1" height="8" fill="#1a1a1a"/>
<rect x="424" y="425" width="1" height="8" fill="#1a1a1a"/>
<rect x="425" y="425" width="2" height="8" fill="#585858"/>
<rect x="427" y="425" width="2" height="8" fill="#333"/>
<rect x="429" y="425" width="1" height="8" fill="#ccc"/>
<rect x="430" y="425" width="2" height="8" fill="#333"/>
<rect x="432" y="425" width="1" height="8" fill="#222"/>
<rect x="433" y="425" width="2" height="8" fill="#3c3c3c"/>
<rect x="435" y="425" width="2" height="8" fill="#3c3c3c"/>
<rect x="437" y="425" width="2" height="8" fill="#333"/>
<rect x="439" y="425" width="1" height="8" fill="#2a2a2a"/>
<rect x="440" y="425" width="1" height="8" fill="#333"/>
<rect x="441" y="425" width="2" height="8" fill="#585858"/>
<rect x="443" y="425" width="1" height="8" fill="#444"/>
<rect x="444" y="425" width="2" height="8" fill="#2a2a2a"/>
<rect x="446" y="425" width="2" height="8" fill="#2a2a2a"/>
<rect x="448" y="425" width="1" height="8" fill="#2a2a2a"/>
<rect x="449" y="425" width="1" height="8" fill="#2a2a2a"/>
<rect x="450" y="425" width="2" height="8" fill="#1a1a1a"/>
<rect x="452" y="425" width="1" height="8" fill="#333"/>
<rect x="453" y="425" width="2" height="8" fill="#4c4c4c"/>
<rect x="455" y="425" width="1" height="8" fill="#4c4c4c"/>
<rect x="456" y="425" width="2" height="8" fill="#333"/>
<rect x="458" y="425" width="2" height="8" fill="#3c3c3c"/>
<rect x="460" y="425" width="2" height="8" fill="#444"/>
<rect x="462" y="425" width="2" height="8" fill="#585858"/>
<rect x="464" y="425" width="1" height="8" fill="#3c3c3c"/>
<rect x="465" y="425" width="1" height="8" fill="#1a1a1a"/>
<rect x="466" y="425" width="1" height="8" fill="#3c3c3c"/>
<rect x="467" y="425" width="1" height="8" fill="#444"/>
<rect x="468" y="425" width="1" height="8" fill="#444"/>
<rect x="469" y="425" width="1" height="8" fill="#444"/>
<rect x="470" y="425" width="1" height="8" fill="#2a2a2a"/>
<rect x="471" y="425" width="1" height="8" fill="#333"/>
<rect x="472" y="425" width="2" height="8" fill="#111"/>
<rect x="474" y="425" width="1" height="8" fill="#333"/>
<rect x="475" y="425" width="1" height="8" fill="#4c4c4c"/>
<rect x="476" y="425" width="1" height="8" fill="#1a1a1a"/>
<rect x="477" y="425" width="1" height="8" fill="#222"/>
<rect x="478" y="425" width="1" height="8" fill="#222"/>
<rect x="479" y="425" width="1" height="8" fill="#2a2a2a"/>
<rect x="480" y="425" width="1" height="8" fill="#4c4c4c"/>
<rect x="481" y="425" width="2" height="8" fill="#4c4c4c"/>
<rect x="483" y="425" width="1" height="8" fill="#111"/>
<rect x="484" y="425" width="1" height="8" fill="#4c4c4c"/>
<rect x="485" y="425" width="1" height="8" fill="#1a1a1a"/>
<rect x="486" y="425" width="1" height="8" fill="#ccc"/>
<rect x="487" y="425" width="2" height="8" fill="#222"/>
<rect x="489" y="425" width="1" height="8" fill="#3c3c3c"/>
<rect x="490" y="425" width="2" height="8" fill="#333"/>
<rect x="492" y="425" width="2" height="8" fill="#4c4c4c"/>
<rect x="494" y="425" width="1" height="8" fill="#2a2a2a"/>
<rect x="495" y="425" width="1" height="8" fill="#1a1a1a"/>
<rect x="497" y="425" width="1" height="8" fill="#3c3c3c"/>
<rect x="498" y="425" width="2" height="8" fill="#2a2a2a"/>
<rect x="500" y="425" width="1" height="8" fill="#585858"/>
<rect x="501" y="425" width="1" height="8" fill="#4c4c4c"/>
<rect x="502" y="425" width="2" height="8" fill="#2a2a2a"/>
<rect x="504" y="425" width="1" height="8" fill="#222"/>
<rect x="505" y="425" width="1" height="8" fill="#585858"/>
<rect x="506" y="425" width="2" height="8" fill="#222"/>
<rect x="508" y="425" width="2" height="8" fill="#585858"/>
<rect x="510" y="425" width="1" height="8" fill="#111"/>
<rect x="511" y="425" width="1" height="8" fill="#333"/>
<rect x="512" y="425" width="1" height="8" fill="#333"/>
<rect x="513" y="425" width="1" height="8" fill="#3c3c3c"/>
<rect x="514" y="425" width="1" height="8" fill="#222"/>
<rect x="515" y="425" width="2" height="8" fill="#333"/>
<rect x="517" y="425" width="1" height="8" fill="#1a1a1a"/>
<rect x="518" y="425" width="2" height="8" fill="#2a2a2a"/>
<rect x="520" y="425" width="1" height="8" fill="#3c3c3c"/>
<rect x="521" y="425" width="2" height="8" fill="#2a2a2a"/>
<rect x="523" y="427" width="2" height="1" fill="#444"/>
<rect x="523" y="430" width="2" height="1" fill="#444"/>
<rect x="525" y="425" width="1" height="8" fill="#222"/>
<rect x="526" y="425" width="1" height="8" fill="#333"/>
<rect x="527" y="425" width="2" height="8" fill="#585858"/>
<rect x="529" y="425" width="2" height="8" fill="#1a1a1a"/>
<rect x="531" y="425" width="1" height="8" fill="#222"/>
<rect x="532" y="425" width="1" height="8" fill="#2a2a2a"/>
<rect x="533" y="425" width="2" height="8" fill="#111"/>
<rect x="535" y="425" width="1" height="8" fill="#111"/>
<rect x="536" y="425" width="1" height="8" fill="#585858"/>
<rect x="537" y="425" width="3" height="8" fill="#f5f5b4"/>
<rect x="540" y="425" width="1" height="8" fill="#444"/>
<rect x="541" y="425" width="2" height="8" fill="#4c4c4c"/>
<rect x="543" y="425" width="1" height="8" fill="#1a1a1a"/>
<rect x="544" y="425" width="2" height="8" fill="#585858"/>
<rect x="546" y="425" width="1" height="8" fill="#4c4c4c"/>
<rect x="547" y="425" width="2" height="8" fill="#222"/>
<rect x="549" y="425" width="1" height="8" fill="#aaa"/>
<rect x="550" y="425" width="1" height="8" fill="#2a2a2a"/>
<rect x="551" y="425" width="2" height="8" fill="#222"/>
<rect x="553" y="425" width="1" height="8" fill="#222"/>
<rect x="554" y="425" width="1" height="8" fill="#444"/>
<rect x="555" y="425" width="2" height="8" fill="#1a1a1a"/>
<rect x="557" y="425" width="2" height="8" fill="#333"/>
<rect x="559" y="425" width="2" height="8" fill="#333"/>
<rect x="561" y="425" width="2" height="8" fill="#444"/>
<rect x="563" y="425" width="2" height="8" fill="#585858"/>
<rect x="565" y="425" width="1" height="8" fill="#333"/>
<rect x="566" y="425" width="1" height="8" fill="#2a2a2a"/>
<rect x="567" y="425" width="1" height="8" fill="#2a2a2a"/>
<rect x="568" y="425" width="1" height="8" fill="#3c3c3c"/>
<rect x="569" y="427" width="4" height="1" fill="#444"/>
<rect x="569" y="430" width="4" height="1" fill="#444"/>
<rect x="573" y="425" width="2" height="8" fill="#1a1a1a"/>
<rect x="575" y="425" width="1" height="8" fill="#585858"/>
<rect x="576" y="425" width="2" height="8" fill="#2a2a2a"/>
<rect x="578" y="425" width="2" height="8" fill="#585858"/>
<rect x="580" y="425" width="1" height="8" fill="#3c3c3c"/>
<rect x="581" y="425" width="1" height="8" fill="#444"/>
<rect x="582" y="425" width="1" height="8" fill="#222"/>
<rect x="583" y="425" width="1" height="8" fill="#3c3c3c"/>
<rect x="584" y="425" width="1" height="8" fill="#585858"/>
<rect x="585" y="425" width="2" height="8" fill="#444"/>
<rect x="587" y="425" width="1" height="8" fill="#585858"/>
<rect x="588" y="425" width="1" height="8" fill="#111"/>
<rect x="589" y="425" width="2" height="8" fill="#3c3c3c"/>
<rect x="591" y="425" width="1" height="8" fill="#2a2a2a"/>
<rect x="592" y="425" width="1" height="8" fill="#333"/>
<rect x="593" y="425" width="1" height="8" fill="#222"/>
<rect x="594" y="425" width="1" height="8" fill="#ddd"/>
<rect x="595" y="425" width="2" height="8" fill="#111"/>
<rect x="597" y="425" width="1" height="8" fill="#4c4c4c"/>
<rect x="598" y="425" width="1" height="8" fill="#444"/>
<rect x="599" y="427" width="1" height="1" fill="#444"/>
<rect x="599" y="430" width="1" height="1" fill="#444"/>
<rect x="600" y="425" width="2" height="8" fill="#222"/>
<rect x="602" y="425" width="2" height="8" fill="#585858"/>
<rect x="604" y="425" width="1" height="8" fill="#4c4c4c"/>
<rect x="605" y="425" width="1" height="8" fill="#4c4c4c"/>
<rect x="606" y="425" width="1" height="8" fill="#333"/>
<rect x="607" y="425" width="1" height="8" fill="#111"/>
<rect x="608" y="425" width="1" height="8" fill="#4c4c4c"/>
<rect x="609" y="425" width="1" height="8" fill="#222"/>
<rect x="610" y="425" width="1" height="8" fill="#1a1a1a"/>
<rect x="611" y="425" width="1" height="8" fill="#3c3c3c"/>
<rect x="612" y="425" width="1" height="8" fill="#222"/>
<rect x="613" y="425" width="1" height="8" fill="#1a1a1a"/>
<rect x="614" y="425" width="1" height="8" fill="#444"/>
<rect x="615" y="425" width="1" height="8" fill="#1a1a1a"/>
<rect x="616" y="425" width="1" height="8" fill="#3c3c3c"/>
<rect x="618" y="425" width="1" height="8" fill="#000"/>
<text x="114.5" y="441.3" fill="#006400" stroke="#006400" text-anchor="end" textLength="47.5" lengthAdjust="spacingAndGlyphs">Elephant</text>
<rect x="118" y="434" width="1" height="8" fill="#2a2a2a"/>
<rect x="119" y="436" width="1" height="1" fill="#444"/>
<rect x="119" y="439" width="1" height="1" fill="#444"/>
<rect x="120" y="434" width="1" height="8" fill="#1a1a1a"/>
<rect x="121" y="434" width="2" height="8" fill="#333"/>
<rect x="123" y="434" width="1" height="8" fill="#222"/>
<rect x="124" y="434" width="1" height="8" fill="#1a1a1a"/>
<rect x="125" y="434" width="2" height="8" fill="#2a2a2a"/>
<rect x="127" y="434" width="1" height="8" fill="#444"/>
<rect x="128" y="434" width="2" height="8" fill="#585858"/>
<rect x="130" y="434" width="1" height="8" fill="#2a2a2a"/>
<rect x="131" y="434" width="1" height="8" fill="#555"/>
<rect x="132" y="434" width="1" height="8" fill="#777"/>
<rect x="133" y="434" width="1" height="8" fill="#888"/>
<rect x="134" y="434" width="1" height="8" fill="#777"/>
<rect x="135" y="434" width="1" height="8" fill="#888"/>
<rect x="136" y="434" width="1" height="8" fill="#4c4c4c"/>
<rect x="137" y="434" width="1" height="8" fill="#4c4c4c"/>
<rect x="138" y="434" width="2" height="8" fill="#585858"/>
<rect x="140" y="434" width="1" height="8" fill="#333"/>
<rect x="141" y="434" width="1" height="8" fill="#3c3c3c"/>
<rect x="142" y="434" width="1" height="8" fill="#222"/>
<rect x="143" y="434" width="2" height="8" fill="#2a2a2a"/>
<rect x="145" y="434" width="1" height="8" fill="#2a2a2a"/>
<rect x="146" y="434" width="2" height="8" fill="#2a2a2a"/>
<rect x="148" y="434" width="2" height="8" fill="#444"/>
<rect x="150" y="434" width="2" height="8" fill="#1a1a1a"/>
<rect x="152" y="434" width="1" height="8" fill="#2a2a2a"/>
<rect x="154" y="434" width="1" height="8" fill="#3c3c3c"/>
<rect x="155" y="434" width="1" height="8" fill="#ccc"/>
<rect x="156" y="434" width="1" height="8" fill="#444"/>
<rect x="157" y="434" width="1" height="8" fill="#2a2a2a"/>
<rect x="158" y="434" width="1" height="8" fill="#222"/>
<rect x="159" y="434" width="1" height="8" fill="#3c3c3c"/>
<rect x="160" y="434" width="1" height="8" fill="#585858"/>
<rect x="161" y="434" width="2" height="8" fill="#3c3c3c"/>
<rect x="163" y="434" width="1" height="8" fill="#333"/>
<rect x="164" y="434" width="1" height="8" fill="#222"/>
<rect x="165" y="434" width="2" height="8" fill="#444"/>
<rect x="167" y="434" width="2" height="8" fill="#2a2a2a"/>
<rect x="169" y="434" width="1" height="8" fill="#4c4c4c"/>
<rect x="170" y="434" width="2" height="8" fill="#4c4c4c"/>
<rect x="172" y="436" width="1" height="1" fill="#444"/>
<rect x="172" y="439" width="1" height="1" fill="#444"/>
<rect x="173" y="434" width="2" height="8" fill="#444"/>
<rect x="175" y="434" width="1" height="8" fill="#222"/>
<rect x="176" y="434" width="1" height="8" fill="#444"/>
<rect x="177" y="436" width="2" height="1" fill="#444"/>
<rect x="177" y="439" width="2" height="1" fill="#444"/>
<rect x="179" y="434" width="1" height="8" fill="#444"/>
<rect x="180" y="434" width="1" height="8" fill="#4c4c4c"/>
<rect x="181" y="434" width="1" height="8" fill="#2a2a2a"/>
<rect x="182" y="434" width="2" height="8" fill="#111"/>
<rect x="184" y="434" width="1" height="8" fill="#4c4c4c"/>
<rect x="185" y="434" width="1" height="8" fill="#2a2a2a"/>
<rect x="186" y="434" width="1" height="8" fill="#111"/>
<rect x="187" y="434" width="1" height="8" fill="#2a2a2a"/>
<rect x="188" y="434" width="1" height="8" fill="#333"/>
<rect x="189" y="434" width="2" height="8" fill="#222"/>
<rect x="191" y="434" width="1" height="8" fill="#444"/>
<rect x="192" y="434" width="2" height="8" fill="#2a2a2a"/>
<rect x="194" y="434" width="1" height="8" fill="#2a2a2a"/>
<rect x="195" y="434" width="1" height="8" fill="#333"/>
<rect x="196" y="434" width="6" height="8" fill="#f5f5b4"/>
<rect x="203" y="434" width="1" height="8" fill="#111"/>
<rect x="204" y="434" width="1" height="8" fill="#111"/>
<rect x="205" y="434" width="2" height="8" fill="#333"/>
<rect x="207" y="434" width="1" height="8" fill="#4c4c4c"/>
<rect x="208" y="434" width="1" height="8" fill="#222"/>
<rect x="209" y="434" width="2" height="8" fill="#444"/>
<rect x="211" y="434" width="1" height="8" fill="#444"/>
<rect x="212" y="434" width="1" height="8" fill="#888"/>
<rect x="213" y="436" width="2" height="1" fill="#444"/>
<rect x="213" y="439" width="2" height="1" fill="#444"/>
<rect x="215" y="434" width="1" height="8" fill="#111"/>
<rect x="216" y="434" width="1" height="8" fill="#333"/>
<rect x="217" y="434" width="2" height="8" fill="#111"/>
<rect x="219" y="434" width="3" height="8" fill="#f5f5b4"/>
<rect x="222" y="434" width="2" height="8" fill="#3c3c3c"/>
<rect x="224" y="434" width="2" height="8" fill="#444"/>
<rect x="226" y="434" width="1" height="8" fill="#111"/>
<rect x="227" y="434" width="1" height="8" fill="#585858"/>
<rect x="228" y="434" width="1" height="8" fill="#1a1a1a"/>
<rect x="229" y="434" width="1" height="8" fill="#3c3c3c"/>
<rect x="230" y="434" width="1" height="8" fill="#444"/>
<rect x="231" y="434" width="2" height="8" fill="#1a1a1a"/>
<rect x="233" y="434" width="2" height="8" fill="#111"/>
<rect x="235" y="434" width="1" height="8" fill="#1a1a1a"/>
<rect x="236" y="434" width="2" height="8" fill="#444"/>
<rect x="238" y="434" width="2" height="8" fill="#444"/>
<rect x="240" y="434" width="2" height="8" fill="#444"/>
<rect x="242" y="436" width="1" height="1" fill="#444"/>
<rect x="242" y="439" width="1" height="1" fill="#444"/>
<rect x="243" y="434" width="1" height="8" fill="#111"/>
<rect x="244" y="434" width="1" height="8" fill="#2a2a2a"/>
<rect x="245" y="434" width="1" height="8" fill="#585858"/>
<rect x="246" y="434" width="1" height="8" fill="#444"/>
<rect x="247" y="434" width="2" height="8" fill="#2a2a2a"/>
<rect x="249" y="434" width="1" height="8" fill="#4c4c4c"/>
<rect x="250" y="434" width="1" height="8" fill="#4c4c4c"/>
<rect x="251" y="436" width="3" height="1" fill="#444"/>
<rect x="251" y="439" width="3" height="1" fill="#444"/>
<rect x="254" y="434" width="2" height="8" fill="#222"/>
<rect x="256" y="434" width="2" height="8" fill="#1a1a1a"/>
<rect x="258" y="434" width="1" height="8" fill="#3c3c3c"/>
<rect x="259" y="434" width="2" height="8" fill="#222"/>
<rect x="261" y="434" width="2" height="8" fill="#444"/>
<rect x="263" y="434" width="2" height="8" fill="#333"/>
<rect x="265" y="434" width="1" height="8" fill="#2a2a2a"/>
<rect x="266" y="434" width="2" height="8" fill="#5a5a5a"/>
<rect x="268" y="434" width="1" height="8" fill="#777"/>
<rect x="269" y="434" width="1" height="8" fill="#4c4c4c"/>
<rect x="270" y="434" width="2" height="8" fill="#3c3c3c"/>
<rect x="272" y="434" width="1" height="8" fill="#2a2a2a"/>
<rect x="273" y="434" width="1" height="8" fill="#111"/>
<rect x="274" y="434" width="2" height="8" fill="#333"/>
<rect x="276" y="434" width="1" height="8" fill="#111"/>
<rect x="277" y="434" width="1" height="8" fill="#3c3c3c"/>
<rect x="278" y="434" width="2" height="8" fill="#3c3c3c"/>
<rect x="280" y="434" width="2" height="8" fill="#1a1a1a"/>
<rect x="282" y="434" width="1" height="8" fill="#111"/>
<rect x="283" y="434" width="1" height="8" fill="#333"/>
<rect x="284" y="434" width="1" height="8" fill="#2a2a2a"/>
<rect x="285" y="434" width="1" height="8" fill="#1a1a1a"/>
<rect x="286" y="434" width="2" height="8" fill="#444"/>
<rect x="288" y="434" width="2" height="8" fill="#111"/>
<rect x="290" y="434" width="1" height="8" fill="#333"/>
<rect x="291" y="434" width="2" height="8" fill="#4c4c4c"/>
<rect x="293" y="436" width="3" height="1" fill="#444"/>
<rect x="293" y="439" width="3" height="1" fill="#444"/>
<rect x="296" y="434" width="2" height="8" fill="#3c3c3c"/>
<rect x="298" y="434" width="2" height="8" fill="#3c3c3c"/>
<rect x="300" y="434" width="1" height="8" fill="#222"/>
<rect x="301" y="434" width="1" height="8" fill="#222"/>
<rect x="302" y="434" width="2" height="8" fill="#585858"/>
<rect x="304" y="434" width="1" height="8" fill="#333"/>
<rect x="305" y="434" width="1" height="8" fill="#4c4c4c"/>
<rect x="306" y="436" width="4" height="1" fill="#444"/>
<rect x="306" y="439" width="4" height="1" fill="#444"/>
<rect x="311" y="434" width="1" height="8" fill="#585858"/>
<rect x="313" y="434" width="1" height="8" fill="#2a2a2a"/>
<rect x="314" y="434" width="1" height="8" fill="#222"/>
<rect x="315" y="434" width="1" height="8" fill="#585858"/>
<rect x="316" y="434" width="2" height="8" fill="#1a1a1a"/>
<rect x="318" y="434" width="1" height="8" fill="#2a2a2a"/>
<rect x="319" y="434" width="1" height="8" fill="#444"/>
<rect x="320" y="434" width="2" height="8" fill="#3c3c3c"/>
<rect x="322" y="434" width="1" height="8" fill="#555"/>
<rect x="323" y="434" width="1" height="8" fill="#5a5a5a"/>
<rect x="324" y="434" width="2" height="8" fill="#3c3c3c"/>
<rect x="326" y="434" width="2" height="8" fill="#6e6e6e"/>
<rect x="328" y="434" width="1" height="8" fill="#777"/>
<rect x="329" y="434" width="1" height="8" fill="#6e6e6e"/>
<rect x="330" y="434" width="1" height="8" fill="#555"/>
<rect x="331" y="434" width="2" height="8" fill="#333"/>
<rect x="333" y="434" width="1" height="8" fill="#333"/>
<rect x="334" y="434" width="1" height="8" fill="#333"/>
<rect x="335" y="434" width="1" height="8" fill="#3c3c3c"/>
<rect x="336" y="434" width="1" height="8" fill="#2a2a2a"/>
<rect x="337" y="434" width="2" height="8" fill="#111"/>
<rect x="339" y="434" width="1" height="8" fill="#111"/>
<rect x="340" y="434" width="1" height="8" fill="#222"/>
<rect x="341" y="434" width="2" height="8" fill="#222"/>
<rect x="343" y="434" width="2" height="8" fill="#3c3c3c"/>
<rect x="345" y="434" width="2" height="8" fill="#222"/>
<rect x="347" y="434" width="2" height="8" fill="#f5f5b4"/>
<rect x="349" y="434" width="2" height="8" fill="#444"/>
<rect x="351" y="434" width="1" height="8" fill="#2a2a2a"/>
<rect x="352" y="434" width="1" height="8" fill="#999"/>
<rect x="353" y="434" width="1" height="8" fill="#909090"/>
<rect x="354" y="434" width="1" height="8" fill="#111"/>
<rect x="355" y="434" width="2" height="8" fill="#4c4c4c"/>
<rect x="357" y="434" width="2" height="8" fill="#3c3c3c"/>
<rect x="359" y="434" width="2" height="8" fill="#2a2a2a"/>
<rect x="361" y="434" width="2" height="8" fill="#3c3c3c"/>
<rect x="363" y="434" width="2" height="8" fill="#3c3c3c"/>
<rect x="365" y="434" width="2" height="8" fill="#333"/>
<rect x="367" y="434" width="1" height="8" fill="#4c4c4c"/>
<rect x="368" y="434" width="1" height="8" fill="#333"/>
<rect x="369" y="434" width="2" height="8" fill="#222"/>
<rect x="371" y="434" width="2" height="8" fill="#333"/>
<rect x="373" y="434" width="2" height="8" fill="#333"/>
<rect x="375" y="434" width="1" height="8" fill="#4c4c4c"/>
<rect x="376" y="434" width="1" height="8" fill="#4c4c4c"/>
<rect x="377" y="434" width="2" height="8" fill="#222"/>
<rect x="379" y="434" width="1" height="8" fill="#1a1a1a"/>
<rect x="380" y="434" width="1" height="8" fill="#4c4c4c"/>
<rect x="381" y="434" width="1" height="8" fill="#4c4c4c"/>
<rect x="382" y="434" width="1" height="8" fill="#2a2a2a"/>
<rect x="383" y="434" width="1" height="8" fill="#111"/>
<rect x="384" y="434" width="2" height="8" fill="#222"/>
<rect x="386" y="434" width="1" height="8" fill="#222"/>
<rect x="387" y="434" width="1" height="8" fill="#333"/>
<rect x="388" y="434" width="2" height="8" fill="#3c3c3c"/>
<rect x="390" y="434" width="2" height="8" fill="#222"/>
<rect x="392" y="434" width="1" height="8" fill="#333"/>
<rect x="393" y="434" width="2" height="8" fill="#444"/>
<rect x="395" y="434" width="2" height="8" fill="#2a2a2a"/>
<rect x="397" y="434" width="2" height="8" fill="#444"/>
<rect x="399" y="434" width="2" height="8" fill="#444"/>
<rect x="401" y="434" width="1" height="8" fill="#4c4c4c"/>
<rect x="402" y="434" width="1" height="8" fill="#4c4c4c"/>
<rect x="403" y="434" width="2" height="8" fill="#585858"/>
<rect x="405" y="434" width="2" height="8" fill="#1a1a1a"/>
<rect x="407" y="434" width="2" height="8" fill="#1a1a1a"/>
<rect x="409" y="434" width="1" height="8" fill="#2a2a2a"/>
<rect x="410" y="434" width="4" height="8" fill="#f5f5b4"/>
<rect x="415" y="434" width="2" height="8" fill="#1a1a1a"/>
<rect x="417" y="434" width="2" height="8" fill="#111"/>
<rect x="419" y="434" width="1" height="8" fill="#333"/>
<rect x="420" y="434" width="2" height="8" fill="#3c3c3c"/>
<rect x="422" y="434" width="2" height="8" fill="#4c4c4c"/>
<rect x="424" y="434" width="2" height="8" fill="#1a1a1a"/>
<rect x="426" y="434" width="2" height="8" fill="#111"/>
<rect x="428" y="434" width="1" height="8" fill="#585858"/>
<rect x="429" y="434" width="1" height="8" fill="#3c3c3c"/>
<rect x="430" y="434" width="1" height="8" fill="#888"/>
<rect x="431" y="434" width="1" height="8" fill="#888"/>
<rect x="432" y="434" width="2" height="8" fill="#777"/>
<rect x="434" y="434" width="2" height="8" fill="#555"/>
<rect x="436" y="434" width="1" height="8" fill="#777"/>
<rect x="437" y="434" width="1" height="8" fill="#888"/>
<rect x="438" y="434" width="1" height="8" fill="#111"/>
<rect x="439" y="434" width="1" height="8" fill="#1a1a1a"/>
<rect x="440" y="434" width="2" height="8" fill="#585858"/>
<rect x="442" y="434" width="1" height="8" fill="#f5f5b4"/>
<rect x="443" y="434" width="2" height="8" fill="#2a2a2a"/>
<rect x="445" y="434" width="1" height="8" fill="#585858"/>
<rect x="446" y="434" width="1" height="8" fill="#333"/>
<rect x="447" y="434" width="1" height="8" fill="#999"/>
<rect x="448" y="434" width="1" height="8" fill="#4c4c4c"/>
<rect x="449" y="434" width="1" height="8" fill="#222"/>
<rect x="450" y="434" width="1" height="8" fill="#111"/>
<rect x="451" y="434" width="1" height="8" fill="#333"/>
<rect x="452" y="434" width="1" height="8" fill="#1a1a1a"/>
<rect x="453" y="434" width="1" height="8" fill="#222"/>
<rect x="454" y="434" width="2" height="8" fill="#4c4c4c"/>
<rect x="456" y="434" width="1" height="8" fill="#585858"/>
<rect x="457" y="434" width="1" height="8" fill="#585858"/>
<rect x="458" y="434" width="2" height="8" fill="#333"/>
<rect x="460" y="434" width="1" height="8" fill="#2a2a2a"/>
<rect x="461" y="434" width="1" height="8" fill="#585858"/>
<rect x="462" y="434" width="2" height="8" fill="#0c0c0c"/>
<rect x="464" y="434" width="1" height="8" fill="#303030"/>
<rect x="465" y="434" width="3" height="8" fill="#060606"/>
<rect x="468" y="434" width="1" height="8" fill="#3a3a3a"/>
<rect x="469" y="434" width="1" height="8" fill="#2a2a2a"/>
<rect x="470" y="434" width="2" height="8" fill="#aaa"/>
<rect x="472" y="434" width="1" height="8" fill="#1a1a1a"/>
<rect x="473" y="434" width="1" height="8" fill="#1a1a1a"/>
<rect x="474" y="434" width="1" height="8" fill="#2a2a2a"/>
<rect x="475" y="434" width="1" height="8" fill="#2a2a2a"/>
<rect x="476" y="434" width="1" height="8" fill="#222"/>
<rect x="477" y="434" width="1" height="8" fill="#222"/>
<rect x="478" y="434" width="2" height="8" fill="#111"/>
<rect x="480" y="434" width="1" height="8" fill="#444"/>
<rect x="481" y="434" width="2" height="8" fill="#111"/>
<rect x="483" y="434" width="2" height="8" fill="#585858"/>
<rect x="485" y="434" width="1" height="8" fill="#3c3c3c"/>
<rect x="486" y="434" width="2" height="8" fill="#4c4c4c"/>
<rect x="488" y="434" width="1" height="8" fill="#585858"/>
<rect x="489" y="434" width="2" height="8" fill="#444"/>
<rect x="491" y="434" width="1" height="8" fill="#3c3c3c"/>
<rect x="492" y="434" width="2" height="8" fill="#4c4c4c"/>
<rect x="494" y="434" width="1" height="8" fill="#1a1a1a"/>
<rect x="495" y="434" width="2" height="8" fill="#111"/>
<rect x="497" y="434" width="1" height="8" fill="#2a2a2a"/>
<rect x="498" y="434" width="2" height="8" fill="#2a2a2a"/>
<rect x="500" y="434" width="2" height="8" fill="#4c4c4c"/>
<rect x="502" y="434" width="1" height="8" fill="#444"/>
<rect x="503" y="434" width="1" height="8" fill="#222"/>
<rect x="504" y="434" width="1" height="8" fill="#4c4c4c"/>
<rect x="505" y="434" width="2" height="8" fill="#777"/>
<rect x="507" y="434" width="1" height="8" fill="#222"/>
<rect x="508" y="434" width="1" height="8" fill="#111"/>
<rect x="509" y="434" width="2" height="8" fill="#585858"/>
<rect x="511" y="434" width="1" height="8" fill="#444"/>
<rect x="512" y="434" width="1" height="8" fill="#777"/>
<rect x="513" y="434" width="1" height="8" fill="#5a5a5a"/>
<rect x="514" y="434" width="1" height="8" fill="#666"/>
<rect x="515" y="434" width="1" height="8" fill="#222"/>
<rect x="516" y="434" width="2" height="8" fill="#585858"/>
<rect x="518" y="434" width="1" height="8" fill="#222"/>
<rect x="519" y="434" width="1" height="8" fill="#2a2a2a"/>
<rect x="520" y="434" width="2" height="8" fill="#111"/>
<rect x="522" y="434" width="1" height="8" fill="#111"/>
<rect x="523" y="436" width="1" height="1" fill="#444"/>
<rect x="523" y="439" width="1" height="1" fill="#444"/>
<rect x="524" y="434" width="2" height="8" fill="#333"/>
<rect x="526" y="434" width="1" height="8" fill="#4c4c4c"/>
<rect x="527" y="434" width="1" height="8" fill="#4c4c4c"/>
<rect x="528" y="434" width="1" height="8" fill="#1a1a1a"/>
<rect x="529" y="434" width="2" height="8" fill="#1a1a1a"/>
<rect x="531" y="434" width="1" height="8" fill="#333"/>
<rect x="532" y="434" width="2" height="8" fill="#3c3c3c"/>
<rect x="534" y="434" width="1" height="8" fill="#585858"/>
<rect x="535" y="434" width="2" height="8" fill="#2a2a2a"/>
<rect x="537" y="434" width="1" height="8" fill="#2a2a2a"/>
<rect x="538" y="434" width="1" height="8" fill="#ccc"/>
<rect x="539" y="434" width="1" height="8" fill="#1a1a1a"/>
<rect x="540" y="434" width="1" height="8" fill="#333"/>
<rect x="541" y="434" width="1" height="8" fill="#111"/>
<rect x="542" y="434" width="2" height="8" fill="#1a1a1a"/>
<rect x="544" y="434" width="1" height="8" fill="#4c4c4c"/>
<rect x="545" y="434" width="2" height="8" fill="#1a1a1a"/>
<rect x="547" y="434" width="1" height="8" fill="#444"/>
<rect x="548" y="434" width="1" height="8" fill="#2a2a2a"/>
<rect x="549" y="434" width="2" height="8" fill="#222"/>
<rect x="551" y="434" width="1" height="8" fill="#3c3c3c"/>
<rect x="552" y="434" width="1" height="8" fill="#888"/>
<rect x="553" y="434" width="1" height="8" fill="#5a5a5a"/>
<rect x="554" y="434" width="1" height="8" fill="#333"/>
<rect x="555" y="434" width="2" height="8" fill="#222"/>
<rect x="557" y="434" width="1" height="8" fill="#2a2a2a"/>
<rect x="558" y="434" width="1" height="8" fill="#3c3c3c"/>
<rect x="559" y="434" width="1" height="8" fill="#4c4c4c"/>
<rect x="560" y="434" width="1" height="8" fill="#3c3c3c"/>
<rect x="561" y="434" width="2" height="8" fill="#444"/>
<rect x="563" y="434" width="1" height="8" fill="#222"/>
<rect x="564" y="434" width="1" height="8" fill="#585858"/>
<rect x="565" y="434" width="1" height="8" fill="#222"/>
<rect x="566" y="434" width="1" height="8" fill="#2a2a2a"/>
<rect x="568" y="434" width="1" height="8" fill="#000"/>
<rect x="569" y="436" width="3" height="1" fill="#444"/>
<rect x="569" y="439" width="3" height="1" fill="#444"/>
<rect x="572" y="434" width="1" height="8" fill="#333"/>
<rect x="573" y="434" width="1" height="8" fill="#333"/>
<rect x="574" y="434" width="1" height="8" fill="#2a2a2a"/>
<rect x="575" y="434" width="1" height="8" fill="#4c4c4c"/>
<rect x="576" y="434" width="1" height="8" fill="#4c4c4c"/>
<rect x="577" y="434" width="1" height="8" fill="#333"/>
<rect x="578" y="434" width="1" height="8" fill="#111"/>
<rect x="579" y="434" width="1" height="8" fill="#333"/>
<rect x="580" y="434" width="1" height="8" fill="#2a2a2a"/>
<rect x="581" y="436" width="4" height="1" fill="#444"/>
<rect x="581" y="439" width="4" height="1" fill="#444"/>
<rect x="585" y="434" width="2" height="8" fill="#222"/>
<rect x="587" y="434" width="1" height="8" fill="#333"/>
<rect x="588" y="434" width="2" height="8" fill="#3c3c3c"/>
<rect x="590" y="434" width="2" height="8" fill="#585858"/>
<rect x="592" y="434" width="2" height="8" fill="#585858"/>
<rect x="594" y="434" width="1" height="8" fill="#4c4c4c"/>
<rect x="595" y="434" width="2" height="8" fill="#1a1a1a"/>
<rect x="597" y="434" width="1" height="8" fill="#111"/>
<rect x="598" y="434" width="1" height="8" fill="#333"/>
<rect x="599" y="436" width="1" height="1" fill="#444"/>
<rect x="599" y="439" width="1" height="1" fill="#444"/>
<rect x="600" y="434" width="1" height="8" fill="#444"/>
<rect x="601" y="434" width="1" height="8" fill="#444"/>
<rect x="602" y="434" width="1" height="8" fill="#444"/>
<rect x="603" y="434" width="2" height="8" fill="#4c4c4c"/>
<rect x="605" y="434" width="2" height="8" fill="#4c4c4c"/>
<rect x="607" y="434" width="2" height="8" fill="#222"/>
<rect x="609" y="434" width="1" height="8" fill="#444"/>
<rect x="610" y="434" width="1" height="8" fill="#333"/>
<rect x="611" y="434" width="2" height="8" fill="#444"/>
<rect x="613" y="434" width="1" height="8" fill="#111"/>
<rect x="614" y="434" width="1" height="8" fill="#444"/>
<rect x="615" y="434" width="1" height="8" fill="#4c4c4c"/>
<rect x="616" y="434" width="1" height="8" fill="#3c3c3c"/>
<rect x="618" y="434" width="1" height="8" fill="#060606"/>
<text x="114.5" y="450.3" fill="#0c0c78" stroke="#0c0c78" text-anchor="end" textLength="41.5" lengthAdjust="spacingAndGlyphs">Opossum</text>
<rect x="118" y="445" width="501" height="1" fill="#666"/>
<rect x="118" y="448" width="501" height="1" fill="#666"/>
<rect x="140" y="443" width="4" height="8" fill="#222"/>
<rect x="144" y="443" width="1" height="8" fill="#666"/>
<rect x="145" y="443" width="2" height="8" fill="#222"/>
<rect x="149" y="443" width="1" height="8" fill="#555"/>
<rect x="150" y="443" width="1" height="8" fill="#888"/>
<rect x="151" y="443" width="2" height="8" fill="#666"/>
<rect x="161" y="443" width="1" height="8" fill="#999"/>
<rect x="164" y="443" width="2" height="8" fill="#888"/>
<rect x="169" y="443" width="2" height="8" fill="#000"/>
<rect x="175" y="443" width="3" height="8" fill="#666"/>
<rect x="187" y="443" width="2" height="8" fill="#333"/>
<rect x="199" y="443" width="3" height="8" fill="#666"/>
<rect x="202" y="443" width="2" height="8" fill="#999"/>
<rect x="209" y="443" width="1" height="8" fill="#555"/>
<rect x="216" y="443" width="3" height="8" fill="#777"/>
<rect x="219" y="443" width="2" height="8" fill="#000"/>
<rect x="221" y="443" width="1" height="8" fill="#888"/>
<rect x="227" y="443" width="1" height="8" fill="#000"/>
<rect x="229" y="443" width="1" height="8" fill="#444"/>
<rect x="230" y="443" width="2" height="8" fill="#999"/>
<rect x="232" y="443" width="2" height="8" fill="#666"/>
<rect x="248" y="443" width="1" height="8" fill="#222"/>
<rect x="267" y="443" width="2" height="8" fill="#222"/>
<rect x="272" y="443" width="1" height="8" fill="#000"/>
<rect x="273" y="443" width="3" height="8" fill="#888"/>
<rect x="276" y="443" width="1" height="8" fill="#aaa"/>
<rect x="278" y="443" width="2" height="8" fill="#000"/>
<rect x="315" y="443" width="1" height="8" fill="#888"/>
<rect x="316" y="443" width="2" height="8" fill="#444"/>
<rect x="318" y="443" width="1" height="8" fill="#888"/>
<rect x="319" y="443" width="2" height="8" fill="#555"/>
<rect x="321" y="443" width="2" height="8" fill="#bbb"/>
<rect x="325" y="443" width="4" height="8" fill="#666"/>
<rect x="331" y="443" width="1" height="8" fill="#000"/>
<rect x="332" y="443" width="1" height="8" fill="#888"/>
<rect x="333" y="443" width="1" height="8" fill="#333"/>
<rect x="346" y="443" width="3" height="8" fill="#777"/>
<rect x="357" y="443" width="1" height="8" fill="#999"/>
<rect x="358" y="443" width="2" height="8" fill="#555"/>
<rect x="360" y="443" width="1" height="8" fill="#333"/>
<rect x="361" y="443" width="1" height="8" fill="#888"/>
<rect x="362" y="443" width="1" height="8" fill="#000"/>
<rect x="363" y="443" width="1" height="8" fill="#ddd"/>
<rect x="364" y="443" width="1" height="8" fill="#555"/>
<rect x="365" y="443" width="4" height="8" fill="#888"/>
<rect x="369" y="443" width="17" height="8" fill="#f5f5b4"/>
<rect x="386" y="443" width="1" height="8" fill="#000"/>
<rect x="387" y="443" width="3" height="8" fill="#666"/>
<rect x="390" y="443" width="2" height="8" fill="#888"/>
<rect x="392" y="443" width="1" height="8" fill="#333"/>
<rect x="393" y="443" width="2" height="8" fill="#666"/>
<rect x="395" y="443" width="2" height="8" fill="#000"/>
<rect x="397" y="443" width="2" height="8" fill="#888"/>
<rect x="399" y="443" width="3" height="8" fill="#555"/>
<rect x="402" y="443" width="3" height="8" fill="#777"/>
<rect x="405" y="443" width="2" height="8" fill="#000"/>
<rect x="411" y="443" width="2" height="8" fill="#666"/>
<rect x="413" y="443" width="2" height="8" fill="#999"/>
<rect x="415" y="443" width="1" height="8" fill="#333"/>
<rect x="416" y="443" width="1" height="8" fill="#aaa"/>
<rect x="419" y="443" width="1" height="8" fill="#aaa"/>
<rect x="423" y="443" width="1" height="8" fill="#888"/>
<rect x="425" y="443" width="1" height="8" fill="#999"/>
<rect x="427" y="443" width="2" height="8" fill="#000"/>
<rect x="432" y="443" width="2" height="8" fill="#555"/>
<rect x="449" y="443" width="1" height="8" fill="#555"/>
<rect x="450" y="443" width="2" height="8" fill="#000"/>
<rect x="452" y="443" width="2" height="8" fill="#444"/>
<rect x="454" y="443" width="3" height="8" fill="#999"/>
<rect x="457" y="443" width="3" height="8" fill="#888"/>
<rect x="460" y="443" width="1" height="8" fill="#aaa"/>
<rect x="461" y="443" width="2" height="8" fill="#777"/>
<rect x="463" y="443" width="3" height="8" fill="#000"/>
<rect x="466" y="443" width="1" height="8" fill="#888"/>
<rect x="468" y="443" width="1" height="8" fill="#555"/>
<rect x="469" y="443" width="2" height="8" fill="#888"/>
<rect x="471" y="443" width="1" height="8" fill="#555"/>
<rect x="472" y="443" width="2" height="8" fill="#999"/>
<rect x="474" y="443" width="1" height="8" fill="#666"/>
<rect x="475" y="443" width="2" height="8" fill="#000"/>
<rect x="485" y="443" width="2" height="8" fill="#444"/>
<rect x="498" y="443" width="2" height="8" fill="#000"/>
<rect x="500" y="443" width="1" height="8" fill="#888"/>
<rect x="501" y="443" width="1" height="8" fill="#333"/>
<rect x="502" y="443" width="1" height="8" fill="#999"/>
<rect x="503" y="443" width="1" height="8" fill="#333"/>
<rect x="504" y="443" width="1" height="8" fill="#888"/>
<rect x="505" y="443" width="2" height="8" fill="#000"/>
<rect x="507" y="443" width="1" height="8" fill="#999"/>
<rect x="508" y="443" width="2" height="8" fill="#555"/>
<rect x="510" y="443" width="1" height="8" fill="#333"/>
<rect x="515" y="443" width="1" height="8" fill="#555"/>
<rect x="516" y="443" width="1" height="8" fill="#999"/>
<rect x="517" y="443" width="1" height="8" fill="#444"/>
<rect x="518" y="443" width="1" height="8" fill="#999"/>
<rect x="519" y="443" width="1" height="8" fill="#333"/>
<rect x="522" y="443" width="1" height="8" fill="#555"/>
<rect x="524" y="443" width="2" height="8" fill="#444"/>
<rect x="527" y="443" width="2" height="8" fill="#444"/>
<rect x="533" y="443" width="1" height="8" fill="#666"/>
<rect x="534" y="443" width="2" height="8" fill="#aaa"/>
<rect x="536" y="443" width="1" height="8" fill="#555"/>
<rect x="537" y="443" width="2" height="8" fill="#000"/>
<rect x="539" y="443" width="1" height="8" fill="#333"/>
<rect x="540" y="443" width="2" height="8" fill="#999"/>
<rect x="542" y="443" width="2" height="8" fill="#bbb"/>
<rect x="554" y="443" width="3" height="8" fill="#777"/>
<rect x="587" y="443" width="2" height="8" fill="#777"/>
<rect x="596" y="443" width="3" height="8" fill="#666"/>
<rect x="604" y="443" width="2" height="8" fill="#888"/>
<rect x="606" y="443" width="3" height="8" fill="#666"/>
<rect x="611" y="443" width="1" height="8" fill="#aaa"/>
<rect x="613" y="443" width="3" height="8" fill="#555"/>
<text x="114.5" y="459.3" fill="#0c0c78" stroke="#0c0c78" text-anchor="end" textLength="41.5" lengthAdjust="spacingAndGlyphs">Chicken</text>
<rect x="118" y="454" width="501" height="1" fill="#666"/>
<rect x="118" y="457" width="501" height="1" fill="#666"/>
<rect x="141" y="452" width="1" height="8" fill="#888"/>
<rect x="142" y="452" width="1" height="8" fill="#bbb"/>
<rect x="143" y="452" width="1" height="8" fill="#111"/>
<rect x="144" y="452" width="1" height="8" fill="#eee"/>
<rect x="145" y="452" width="1" height="8" fill="#111"/>
<rect x="150" y="452" width="2" height="8" fill="#999"/>
<rect x="157" y="452" width="1" height="8" fill="#888"/>
<rect x="159" y="452" width="1" height="8" fill="#000"/>
<rect x="161" y="452" width="1" height="8" fill="#000"/>
<rect x="164" y="452" width="1" height="8" fill="#aaa"/>
<rect x="169" y="452" width="2" height="8" fill="#000"/>
<rect x="176" y="452" width="1" height="8" fill="#777"/>
<rect x="187" y="452" width="2" height="8" fill="#888"/>
<rect x="199" y="452" width="1" height="8" fill="#777"/>
<rect x="202" y="452" width="2" height="8" fill="#888"/>
<rect x="209" y="452" width="1" height="8" fill="#000"/>
<rect x="217" y="452" width="1" height="8" fill="#333"/>
<rect x="218" y="452" width="3" height="8" fill="#000"/>
<rect x="221" y="452" width="1" height="8" fill="#666"/>
<rect x="227" y="452" width="1" height="8" fill="#000"/>
<rect x="231" y="452" width="4" height="8" fill="#888"/>
<rect x="237" y="452" width="1" height="8" fill="#222"/>
<rect x="243" y="452" width="2" height="8" fill="#000"/>
<rect x="248" y="452" width="1" height="8" fill="#000"/>
<rect x="267" y="452" width="2" height="8" fill="#777"/>
<rect x="272" y="452" width="1" height="8" fill="#444"/>
<rect x="273" y="452" width="2" height="8" fill="#999"/>
<rect x="275" y="452" width="1" height="8" fill="#666"/>
<rect x="279" y="452" width="1" height="8" fill="#666"/>
<rect x="280" y="452" width="1" height="8" fill="#000"/>
<rect x="281" y="452" width="1" height="8" fill="#555"/>
<rect x="282" y="452" width="1" height="8" fill="#aaa"/>
<rect x="315" y="452" width="1" height="8" fill="#666"/>
<rect x="316" y="452" width="2" height="8" fill="#999"/>
<rect x="318" y="452" width="2" height="8" fill="#444"/>
<rect x="320" y="452" width="1" height="8" fill="#999"/>
<rect x="321" y="452" width="1" height="8" fill="#ccc"/>
<rect x="326" y="452" width="1" height="8" fill="#666"/>
<rect x="328" y="452" width="1" height="8" fill="#888"/>
<rect x="331" y="452" width="2" height="8" fill="#000"/>
<rect x="333" y="452" width="1" height="8" fill="#aaa"/>
<rect x="347" y="452" width="1" height="8" fill="#444"/>
<rect x="354" y="452" width="1" height="8" fill="#444"/>
<rect x="376" y="452" width="1" height="8" fill="#555"/>
<rect x="384" y="452" width="1" height="8" fill="#666"/>
<rect x="387" y="452" width="1" height="8" fill="#333"/>
<rect x="388" y="452" width="1" height="8" fill="#999"/>
<rect x="389" y="452" width="1" height="8" fill="#666"/>
<rect x="390" y="452" width="1" height="8" fill="#222"/>
<rect x="394" y="452" width="2" height="8" fill="#000"/>
<rect x="396" y="452" width="1" height="8" fill="#ccc"/>
<rect x="397" y="452" width="1" height="8" fill="#888"/>
<rect x="398" y="452" width="1" height="8" fill="#ccc"/>
<rect x="405" y="452" width="2" height="8" fill="#333"/>
<rect x="415" y="452" width="2" height="8" fill="#555"/>
<rect x="427" y="452" width="2" height="8" fill="#000"/>
<rect x="438" y="452" width="2" height="8" fill="#222"/>
<rect x="449" y="452" width="2" height="8" fill="#000"/>
<rect x="452" y="452" width="2" height="8" fill="#444"/>
<rect x="459" y="452" width="1" height="8" fill="#888"/>
<rect x="464" y="452" width="2" height="8" fill="#000"/>
<rect x="470" y="452" width="3" height="8" fill="#777"/>
<rect x="475" y="452" width="1" height="8" fill="#000"/>
<rect x="495" y="452" width="1" height="8" fill="#555"/>
<rect x="497" y="452" width="1" height="8" fill="#555"/>
<rect x="499" y="452" width="1" height="8" fill="#555"/>
<rect x="500" y="452" width="2" height="8" fill="#000"/>
<rect x="502" y="452" width="1" height="8" fill="#555"/>
<rect x="503" y="452" width="2" height="8" fill="#000"/>
<rect x="505" y="452" width="1" height="8" fill="#888"/>
<rect x="507" y="452" width="2" height="8" fill="#222"/>
<rect x="515" y="452" width="2" height="8" fill="#777"/>
<rect x="518" y="452" width="2" height="8" fill="#888"/>
<rect x="533" y="452" width="1" height="8" fill="#888"/>
<rect x="535" y="452" width="1" height="8" fill="#666"/>
<rect x="536" y="452" width="3" height="8" fill="#000"/>
<rect x="539" y="452" width="1" height="8" fill="#555"/>
<rect x="541" y="452" width="1" height="8" fill="#888"/>
<rect x="555" y="452" width="1" height="8" fill="#999"/>
<rect x="588" y="452" width="1" height="8" fill="#444"/>
<rect x="596" y="452" width="3" height="8" fill="#aaa"/>
<rect x="607" y="452" width="1" height="8" fill="#000"/>
<rect x="611" y="452" width="1" height="8" fill="#aaa"/>
<rect x="613" y="452" width="2" height="8" fill="#666"/>
<text x="114.5" y="468.3" fill="#0c0c78" stroke="#0c0c78" text-anchor="end" textLength="71.5" lengthAdjust="spacingAndGlyphs">X_tropicalis</text>
<rect x="118" y="463" width="501" height="1" fill="#666"/>
<rect x="118" y="466" width="501" height="1" fill="#666"/>
<rect x="141" y="461" width="1" height="8" fill="#888"/>
<rect x="142" y="461" width="5" height="8" fill="#000"/>
<rect x="150" y="461" width="2" height="8" fill="#888"/>
<rect x="157" y="461" width="1" height="8" fill="#000"/>
<rect x="159" y="461" width="1" height="8" fill="#000"/>
<rect x="161" y="461" width="1" height="8" fill="#000"/>
<rect x="164" y="461" width="1" height="8" fill="#000"/>
<rect x="169" y="461" width="2" height="8" fill="#000"/>
<rect x="176" y="461" width="1" height="8" fill="#333"/>
<rect x="202" y="461" width="1" height="8" fill="#000"/>
<rect x="209" y="461" width="1" height="8" fill="#555"/>
<rect x="215" y="461" width="5" height="8" fill="#888"/>
<rect x="220" y="461" width="1" height="8" fill="#000"/>
<rect x="222" y="461" width="1" height="8" fill="#222"/>
<rect x="227" y="461" width="1" height="8" fill="#000"/>
<rect x="231" y="461" width="1" height="8" fill="#000"/>
<rect x="234" y="461" width="1" height="8" fill="#000"/>
<rect x="237" y="461" width="1" height="8" fill="#000"/>
<rect x="243" y="461" width="2" height="8" fill="#000"/>
<rect x="248" y="461" width="1" height="8" fill="#000"/>
<rect x="268" y="461" width="2" height="8" fill="#888"/>
<rect x="272" y="461" width="2" height="8" fill="#000"/>
<rect x="275" y="461" width="1" height="8" fill="#000"/>
<rect x="280" y="461" width="1" height="8" fill="#555"/>
<rect x="281" y="461" width="1" height="8" fill="#000"/>
<rect x="282" y="461" width="1" height="8" fill="#555"/>
<rect x="315" y="461" width="1" height="8" fill="#777"/>
<rect x="316" y="461" width="2" height="8" fill="#333"/>
<rect x="318" y="461" width="1" height="8" fill="#666"/>
<rect x="319" y="461" width="2" height="8" fill="#333"/>
<rect x="321" y="461" width="1" height="8" fill="#ccc"/>
<rect x="326" y="461" width="1" height="8" fill="#666"/>
<rect x="328" y="461" width="1" height="8" fill="#444"/>
<rect x="331" y="461" width="2" height="8" fill="#000"/>
<rect x="347" y="461" width="1" height="8" fill="#000"/>
<rect x="359" y="461" width="1" height="8" fill="#888"/>
<rect x="361" y="461" width="4" height="8" fill="#555"/>
<rect x="368" y="461" width="1" height="8" fill="#555"/>
<rect x="369" y="461" width="1" height="8" fill="#000"/>
<rect x="370" y="461" width="2" height="8" fill="#999"/>
<rect x="372" y="461" width="1" height="8" fill="#666"/>
<rect x="379" y="461" width="1" height="8" fill="#333"/>
<rect x="385" y="461" width="2" height="8" fill="#555"/>
<rect x="387" y="461" width="2" height="8" fill="#000"/>
<rect x="395" y="461" width="2" height="8" fill="#666"/>
<rect x="397" y="461" width="2" height="8" fill="#999"/>
<rect x="399" y="461" width="2" height="8" fill="#555"/>
<rect x="401" y="461" width="1" height="8" fill="#000"/>
<rect x="406" y="461" width="1" height="8" fill="#444"/>
<rect x="416" y="461" width="3" height="8" fill="#777"/>
<rect x="427" y="461" width="1" height="8" fill="#000"/>
<rect x="438" y="461" width="2" height="8" fill="#333"/>
<rect x="449" y="461" width="2" height="8" fill="#000"/>
<rect x="453" y="461" width="1" height="8" fill="#888"/>
<rect x="458" y="461" width="1" height="8" fill="#333"/>
<rect x="464" y="461" width="2" height="8" fill="#000"/>
<rect x="471" y="461" width="1" height="8" fill="#999"/>
<rect x="475" y="461" width="1" height="8" fill="#222"/>
<rect x="485" y="461" width="2" height="8" fill="#777"/>
<rect x="494" y="461" width="2" height="8" fill="#888"/>
<rect x="497" y="461" width="1" height="8" fill="#444"/>
<rect x="500" y="461" width="2" height="8" fill="#999"/>
<rect x="502" y="461" width="1" height="8" fill="#888"/>
<rect x="503" y="461" width="1" height="8" fill="#000"/>
<rect x="504" y="461" width="1" height="8" fill="#555"/>
<rect x="505" y="461" width="1" height="8" fill="#000"/>
<rect x="506" y="461" width="1" height="8" fill="#333"/>
<rect x="507" y="461" width="1" height="8" fill="#000"/>
<rect x="508" y="461" width="1" height="8" fill="#555"/>
<rect x="516" y="461" width="1" height="8" fill="#666"/>
<rect x="535" y="461" width="1" height="8" fill="#333"/>
<rect x="536" y="461" width="3" height="8" fill="#000"/>
<rect x="539" y="461" width="1" height="8" fill="#333"/>
<rect x="555" y="461" width="1" height="8" fill="#aaa"/>
<rect x="588" y="461" width="1" height="8" fill="#000"/>
<rect x="597" y="461" width="1" height="8" fill="#444"/>
<rect x="607" y="461" width="1" height="8" fill="#000"/>
<rect x="611" y="461" width="1" height="8" fill="#aaa"/>
<rect x="614" y="461" width="1" height="8" fill="#000"/>
<text x="114.5" y="477.3" fill="#0c0c78" stroke="#0c0c78" text-anchor="end" textLength="53.5" lengthAdjust="spacingAndGlyphs">Zebrafish</text>
<rect x="146" y="472" width="467" height="1" fill="#666"/>
<rect x="146" y="475" width="467" height="1" fill="#666"/>
<rect x="141" y="470" width="1" height="8" fill="#888"/>
<rect x="143" y="470" width="2" height="8" fill="#444"/>
<rect x="145" y="470" width="1" height="8" fill="#999"/>
<rect x="157" y="470" width="1" height="8" fill="#000"/>
<rect x="159" y="470" width="1" height="8" fill="#000"/>
<rect x="164" y="470" width="1" height="8" fill="#444"/>
<rect x="209" y="470" width="1" height="8" fill="#555"/>
<rect x="219" y="470" width="2" height="8" fill="#111"/>
<rect x="221" y="470" width="2" height="8" fill="#888"/>
<rect x="227" y="470" width="1" height="8" fill="#000"/>
<rect x="234" y="470" width="1" height="8" fill="#555"/>
<rect x="243" y="470" width="2" height="8" fill="#999"/>
<rect x="248" y="470" width="1" height="8" fill="#000"/>
<rect x="272" y="470" width="2" height="8" fill="#000"/>
<rect x="279" y="470" width="2" height="8" fill="#333"/>
<rect x="282" y="470" width="1" height="8" fill="#333"/>
<rect x="315" y="470" width="2" height="8" fill="#888"/>
<rect x="319" y="470" width="2" height="8" fill="#888"/>
<rect x="326" y="470" width="1" height="8" fill="#888"/>
<rect x="328" y="470" width="1" height="8" fill="#555"/>
<rect x="332" y="470" width="1" height="8" fill="#888"/>
<rect x="370" y="470" width="2" height="8" fill="#666"/>
<rect x="379" y="470" width="1" height="8" fill="#555"/>
<rect x="387" y="470" width="2" height="8" fill="#000"/>
<rect x="390" y="470" width="1" height="8" fill="#ccc"/>
<rect x="394" y="470" width="3" height="8" fill="#000"/>
<rect x="406" y="470" width="1" height="8" fill="#555"/>
<rect x="416" y="470" width="2" height="8" fill="#666"/>
<rect x="427" y="470" width="2" height="8" fill="#555"/>
<rect x="438" y="470" width="2" height="8" fill="#888"/>
<rect x="449" y="470" width="2" height="8" fill="#000"/>
<rect x="453" y="470" width="1" height="8" fill="#aaa"/>
<rect x="458" y="470" width="1" height="8" fill="#aaa"/>
<rect x="465" y="470" width="1" height="8" fill="#333"/>
<rect x="475" y="470" width="1" height="8" fill="#888"/>
<rect x="485" y="470" width="2" height="8" fill="#888"/>
<rect x="495" y="470" width="1" height="8" fill="#999"/>
<rect x="498" y="470" width="2" height="8" fill="#444"/>
<rect x="502" y="470" width="2" height="8" fill="#000"/>
<rect x="504" y="470" width="1" height="8" fill="#555"/>
<rect x="506" y="470" width="1" height="8" fill="#666"/>
<rect x="508" y="470" width="1" height="8" fill="#888"/>
<rect x="536" y="470" width="1" height="8" fill="#555"/>
<rect x="537" y="470" width="2" height="8" fill="#000"/>
<rect x="539" y="470" width="2" height="8" fill="#888"/>
<rect x="555" y="470" width="1" height="8" fill="#888"/>
<rect x="588" y="470" width="1" height="8" fill="#ccc"/>
<rect x="597" y="470" width="1" height="8" fill="#888"/>
<rect x="610" y="470" width="2" height="8" fill="#888"/>
<rect x="214" y="461" width="1" height="9" fill="#109010"/>
<rect x="214" y="461" width="2" height="1" fill="#109010"/>
<rect x="214" y="469" width="2" height="1" fill="#109010"/>
<rect x="217" y="469" width="2" height="1" fill="#109010"/>
<rect x="218" y="470" width="1" height="9" fill="#109010"/>
<rect x="218" y="478" width="3" height="1" fill="#109010"/>
<rect x="279" y="461" width="1" height="9" fill="#109010"/>
<rect x="283" y="461" width="1" height="9" fill="#109010"/>
<rect x="279" y="461" width="5" height="1" fill="#109010"/>
<rect x="279" y="469" width="5" height="1" fill="#109010"/>
<rect x="384" y="461" width="1" height="9" fill="#109010"/>
<rect x="389" y="461" width="2" height="9" fill="#109010"/>
<rect x="384" y="461" width="7" height="1" fill="#109010"/>
<rect x="384" y="469" width="7" height="1" fill="#109010"/>
<rect x="394" y="461" width="1" height="9" fill="#109010"/>
<rect x="402" y="461" width="1" height="9" fill="#109010"/>
<rect x="394" y="461" width="9" height="1" fill="#109010"/>
<rect x="394" y="469" width="9" height="1" fill="#109010"/>
<rect x="470" y="461" width="1" height="9" fill="#109010"/>
<rect x="472" y="461" width="1" height="9" fill="#109010"/>
<rect x="470" y="461" width="3" height="1" fill="#109010"/>
<rect x="470" y="469" width="3" height="1" fill="#109010"/>
<rect x="242" y="470" width="1" height="9" fill="#109010"/>
<rect x="245" y="470" width="1" height="9" fill="#109010"/>
<rect x="242" y="470" width="4" height="1" fill="#109010"/>
<rect x="242" y="478" width="4" height="1" fill="#109010"/>
<rect x="386" y="470" width="1" height="9" fill="#109010"/>
<rect x="391" y="470" width="1" height="9" fill="#109010"/>
<rect x="386" y="470" width="6" height="1" fill="#109010"/>
<rect x="386" y="478" width="6" height="1" fill="#109010"/>
<rect x="535" y="470" width="1" height="9" fill="#109010"/>
<rect x="541" y="470" width="1" height="9" fill="#109010"/>
<rect x="535" y="470" width="7" height="1" fill="#109010"/>
<rect x="535" y="478" width="7" height="1" fill="#109010"/>
<path d="M499.5 461L499.5 469L502.5 479" stroke="#109010" stroke-width="1" fill="none"/>
<rect x="138" y="470" width="2" height="9" fill="#003c96"/>
<rect x="613" y="470" width="2" height="9" fill="#003c96"/>
</svg>
</body></html>
